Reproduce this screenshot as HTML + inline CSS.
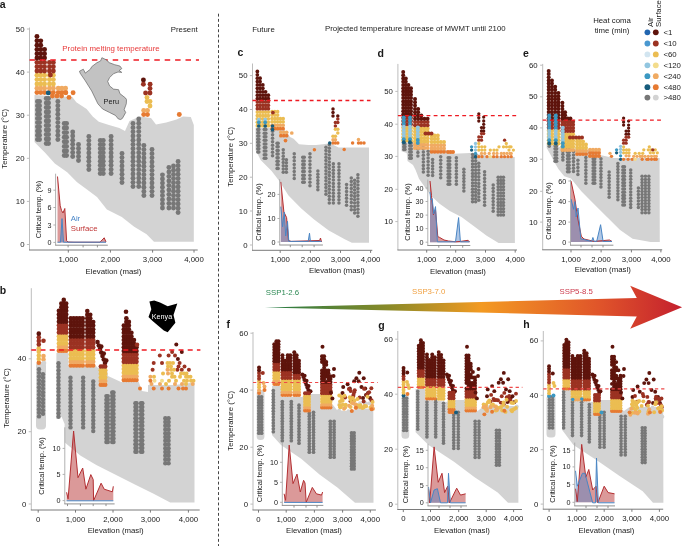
<!DOCTYPE html>
<html><head><meta charset="utf-8"><style>
html,body{margin:0;padding:0;background:#fff;}
svg{display:block;font-family:"Liberation Sans", sans-serif;will-change:transform;}
</style></head><body>
<svg width="685" height="546" viewBox="0 0 685 546">
<rect width="685" height="546" fill="#fff"/>
<polygon points="34.5,95 72.3,97 76.3,102.3 86.6,109 92.7,116.6 98.8,121.7 109,125 119.3,128 125,131 129.5,121 139.7,116.6 151,118 156,124.5 166.3,122.5 176.5,119.5 183,116.6 190.8,117 193.8,125 193.8,241.7 154,241.7 146.6,234.3 134.2,226.8 121.8,217 106.9,209.5 97,197 87,189.6 77.1,182.2 67.2,172.3 54.8,163.6 44.9,152.4 37.4,145 34.5,142" fill="#d3d3d3" stroke="none" stroke-width="0"/>
<circle cx="37.45" cy="101.45" r="2.45" fill="#777777"/>
<circle cx="37.45" cy="105.68" r="2.45" fill="#777777"/>
<circle cx="37.45" cy="109.92" r="2.45" fill="#777777"/>
<circle cx="37.45" cy="114.15" r="2.45" fill="#777777"/>
<circle cx="37.45" cy="118.38" r="2.45" fill="#777777"/>
<circle cx="37.45" cy="122.62" r="2.45" fill="#777777"/>
<circle cx="37.45" cy="126.85" r="2.45" fill="#777777"/>
<circle cx="37.45" cy="131.08" r="2.45" fill="#777777"/>
<circle cx="37.45" cy="135.32" r="2.45" fill="#777777"/>
<circle cx="37.45" cy="139.55" r="2.45" fill="#777777"/>
<circle cx="39.55" cy="101.45" r="2.45" fill="#777777"/>
<circle cx="39.55" cy="105.68" r="2.45" fill="#777777"/>
<circle cx="39.55" cy="109.92" r="2.45" fill="#777777"/>
<circle cx="39.55" cy="114.15" r="2.45" fill="#777777"/>
<circle cx="39.55" cy="118.38" r="2.45" fill="#777777"/>
<circle cx="39.55" cy="122.62" r="2.45" fill="#777777"/>
<circle cx="39.55" cy="126.85" r="2.45" fill="#777777"/>
<circle cx="39.55" cy="131.08" r="2.45" fill="#777777"/>
<circle cx="39.55" cy="135.32" r="2.45" fill="#777777"/>
<circle cx="39.55" cy="139.55" r="2.45" fill="#777777"/>
<circle cx="46.25" cy="98.45" r="2.45" fill="#777777"/>
<circle cx="46.25" cy="102.96" r="2.45" fill="#777777"/>
<circle cx="46.25" cy="107.47" r="2.45" fill="#777777"/>
<circle cx="46.25" cy="111.98" r="2.45" fill="#777777"/>
<circle cx="46.25" cy="116.49" r="2.45" fill="#777777"/>
<circle cx="46.25" cy="121" r="2.45" fill="#777777"/>
<circle cx="46.25" cy="125.51" r="2.45" fill="#777777"/>
<circle cx="46.25" cy="130.02" r="2.45" fill="#777777"/>
<circle cx="46.25" cy="134.53" r="2.45" fill="#777777"/>
<circle cx="46.25" cy="139.04" r="2.45" fill="#777777"/>
<circle cx="46.25" cy="143.55" r="2.45" fill="#777777"/>
<circle cx="48.55" cy="98.45" r="2.45" fill="#777777"/>
<circle cx="48.55" cy="102.96" r="2.45" fill="#777777"/>
<circle cx="48.55" cy="107.47" r="2.45" fill="#777777"/>
<circle cx="48.55" cy="111.98" r="2.45" fill="#777777"/>
<circle cx="48.55" cy="116.49" r="2.45" fill="#777777"/>
<circle cx="48.55" cy="121" r="2.45" fill="#777777"/>
<circle cx="48.55" cy="125.51" r="2.45" fill="#777777"/>
<circle cx="48.55" cy="130.02" r="2.45" fill="#777777"/>
<circle cx="48.55" cy="134.53" r="2.45" fill="#777777"/>
<circle cx="48.55" cy="139.04" r="2.45" fill="#777777"/>
<circle cx="48.55" cy="143.55" r="2.45" fill="#777777"/>
<circle cx="57.85" cy="101.45" r="2.45" fill="#777777"/>
<circle cx="57.85" cy="105.68" r="2.45" fill="#777777"/>
<circle cx="57.85" cy="109.92" r="2.45" fill="#777777"/>
<circle cx="57.85" cy="114.15" r="2.45" fill="#777777"/>
<circle cx="57.85" cy="118.38" r="2.45" fill="#777777"/>
<circle cx="57.85" cy="122.62" r="2.45" fill="#777777"/>
<circle cx="57.85" cy="126.85" r="2.45" fill="#777777"/>
<circle cx="57.85" cy="131.08" r="2.45" fill="#777777"/>
<circle cx="57.85" cy="135.32" r="2.45" fill="#777777"/>
<circle cx="57.85" cy="139.55" r="2.45" fill="#777777"/>
<circle cx="64.25" cy="123.45" r="2.45" fill="#777777"/>
<circle cx="64.25" cy="128.04" r="2.45" fill="#777777"/>
<circle cx="64.25" cy="132.62" r="2.45" fill="#777777"/>
<circle cx="64.25" cy="137.21" r="2.45" fill="#777777"/>
<circle cx="64.25" cy="141.79" r="2.45" fill="#777777"/>
<circle cx="64.25" cy="146.38" r="2.45" fill="#777777"/>
<circle cx="64.25" cy="150.96" r="2.45" fill="#777777"/>
<circle cx="64.25" cy="155.55" r="2.45" fill="#777777"/>
<circle cx="66.55" cy="123.45" r="2.45" fill="#777777"/>
<circle cx="66.55" cy="128.04" r="2.45" fill="#777777"/>
<circle cx="66.55" cy="132.62" r="2.45" fill="#777777"/>
<circle cx="66.55" cy="137.21" r="2.45" fill="#777777"/>
<circle cx="66.55" cy="141.79" r="2.45" fill="#777777"/>
<circle cx="66.55" cy="146.38" r="2.45" fill="#777777"/>
<circle cx="66.55" cy="150.96" r="2.45" fill="#777777"/>
<circle cx="66.55" cy="155.55" r="2.45" fill="#777777"/>
<circle cx="72.7" cy="131.95" r="2.45" fill="#777777"/>
<circle cx="72.7" cy="136.05" r="2.45" fill="#777777"/>
<circle cx="72.7" cy="140.15" r="2.45" fill="#777777"/>
<circle cx="72.7" cy="144.25" r="2.45" fill="#777777"/>
<circle cx="72.7" cy="148.35" r="2.45" fill="#777777"/>
<circle cx="72.7" cy="152.45" r="2.45" fill="#777777"/>
<circle cx="72.7" cy="156.55" r="2.45" fill="#777777"/>
<circle cx="78.5" cy="144.45" r="2.45" fill="#777777"/>
<circle cx="78.5" cy="148.47" r="2.45" fill="#777777"/>
<circle cx="78.5" cy="152.5" r="2.45" fill="#777777"/>
<circle cx="78.5" cy="156.52" r="2.45" fill="#777777"/>
<circle cx="78.5" cy="160.55" r="2.45" fill="#777777"/>
<circle cx="88.85" cy="136.45" r="2.45" fill="#777777"/>
<circle cx="88.85" cy="140.59" r="2.45" fill="#777777"/>
<circle cx="88.85" cy="144.72" r="2.45" fill="#777777"/>
<circle cx="88.85" cy="148.86" r="2.45" fill="#777777"/>
<circle cx="88.85" cy="153" r="2.45" fill="#777777"/>
<circle cx="88.85" cy="157.14" r="2.45" fill="#777777"/>
<circle cx="88.85" cy="161.27" r="2.45" fill="#777777"/>
<circle cx="88.85" cy="165.41" r="2.45" fill="#777777"/>
<circle cx="88.85" cy="169.55" r="2.45" fill="#777777"/>
<circle cx="100.25" cy="140.45" r="2.45" fill="#777777"/>
<circle cx="100.25" cy="144.59" r="2.45" fill="#777777"/>
<circle cx="100.25" cy="148.72" r="2.45" fill="#777777"/>
<circle cx="100.25" cy="152.86" r="2.45" fill="#777777"/>
<circle cx="100.25" cy="157" r="2.45" fill="#777777"/>
<circle cx="100.25" cy="161.14" r="2.45" fill="#777777"/>
<circle cx="100.25" cy="165.27" r="2.45" fill="#777777"/>
<circle cx="100.25" cy="169.41" r="2.45" fill="#777777"/>
<circle cx="100.25" cy="173.55" r="2.45" fill="#777777"/>
<circle cx="103.25" cy="140.45" r="2.45" fill="#777777"/>
<circle cx="103.25" cy="144.59" r="2.45" fill="#777777"/>
<circle cx="103.25" cy="148.72" r="2.45" fill="#777777"/>
<circle cx="103.25" cy="152.86" r="2.45" fill="#777777"/>
<circle cx="103.25" cy="157" r="2.45" fill="#777777"/>
<circle cx="103.25" cy="161.14" r="2.45" fill="#777777"/>
<circle cx="103.25" cy="165.27" r="2.45" fill="#777777"/>
<circle cx="103.25" cy="169.41" r="2.45" fill="#777777"/>
<circle cx="103.25" cy="173.55" r="2.45" fill="#777777"/>
<circle cx="111.1" cy="136.45" r="2.45" fill="#777777"/>
<circle cx="111.1" cy="140.57" r="2.45" fill="#777777"/>
<circle cx="111.1" cy="144.69" r="2.45" fill="#777777"/>
<circle cx="111.1" cy="148.82" r="2.45" fill="#777777"/>
<circle cx="111.1" cy="152.94" r="2.45" fill="#777777"/>
<circle cx="111.1" cy="157.06" r="2.45" fill="#777777"/>
<circle cx="111.1" cy="161.18" r="2.45" fill="#777777"/>
<circle cx="111.1" cy="165.31" r="2.45" fill="#777777"/>
<circle cx="111.1" cy="169.43" r="2.45" fill="#777777"/>
<circle cx="111.1" cy="173.55" r="2.45" fill="#777777"/>
<circle cx="122" cy="153.45" r="2.45" fill="#777777"/>
<circle cx="122" cy="157.61" r="2.45" fill="#777777"/>
<circle cx="122" cy="161.76" r="2.45" fill="#777777"/>
<circle cx="122" cy="165.92" r="2.45" fill="#777777"/>
<circle cx="122" cy="170.08" r="2.45" fill="#777777"/>
<circle cx="122" cy="174.24" r="2.45" fill="#777777"/>
<circle cx="122" cy="178.39" r="2.45" fill="#777777"/>
<circle cx="122" cy="182.55" r="2.45" fill="#777777"/>
<circle cx="133" cy="123.45" r="2.45" fill="#777777"/>
<circle cx="133" cy="127.66" r="2.45" fill="#777777"/>
<circle cx="133" cy="131.86" r="2.45" fill="#777777"/>
<circle cx="133" cy="136.07" r="2.45" fill="#777777"/>
<circle cx="133" cy="140.28" r="2.45" fill="#777777"/>
<circle cx="133" cy="144.48" r="2.45" fill="#777777"/>
<circle cx="133" cy="148.69" r="2.45" fill="#777777"/>
<circle cx="133" cy="152.9" r="2.45" fill="#777777"/>
<circle cx="133" cy="157.1" r="2.45" fill="#777777"/>
<circle cx="133" cy="161.31" r="2.45" fill="#777777"/>
<circle cx="133" cy="165.52" r="2.45" fill="#777777"/>
<circle cx="133" cy="169.72" r="2.45" fill="#777777"/>
<circle cx="133" cy="173.93" r="2.45" fill="#777777"/>
<circle cx="133" cy="178.14" r="2.45" fill="#777777"/>
<circle cx="133" cy="182.34" r="2.45" fill="#777777"/>
<circle cx="133" cy="186.55" r="2.45" fill="#777777"/>
<circle cx="138.75" cy="118.95" r="2.45" fill="#777777"/>
<circle cx="138.75" cy="123.17" r="2.45" fill="#777777"/>
<circle cx="138.75" cy="127.4" r="2.45" fill="#777777"/>
<circle cx="138.75" cy="131.62" r="2.45" fill="#777777"/>
<circle cx="138.75" cy="135.85" r="2.45" fill="#777777"/>
<circle cx="138.75" cy="140.07" r="2.45" fill="#777777"/>
<circle cx="138.75" cy="144.3" r="2.45" fill="#777777"/>
<circle cx="138.75" cy="148.53" r="2.45" fill="#777777"/>
<circle cx="138.75" cy="152.75" r="2.45" fill="#777777"/>
<circle cx="138.75" cy="156.97" r="2.45" fill="#777777"/>
<circle cx="138.75" cy="161.2" r="2.45" fill="#777777"/>
<circle cx="138.75" cy="165.43" r="2.45" fill="#777777"/>
<circle cx="138.75" cy="169.65" r="2.45" fill="#777777"/>
<circle cx="138.75" cy="173.88" r="2.45" fill="#777777"/>
<circle cx="138.75" cy="178.1" r="2.45" fill="#777777"/>
<circle cx="138.75" cy="182.32" r="2.45" fill="#777777"/>
<circle cx="138.75" cy="186.55" r="2.45" fill="#777777"/>
<circle cx="143.9" cy="145.45" r="2.45" fill="#777777"/>
<circle cx="143.9" cy="149.62" r="2.45" fill="#777777"/>
<circle cx="143.9" cy="153.8" r="2.45" fill="#777777"/>
<circle cx="143.9" cy="157.97" r="2.45" fill="#777777"/>
<circle cx="143.9" cy="162.15" r="2.45" fill="#777777"/>
<circle cx="143.9" cy="166.32" r="2.45" fill="#777777"/>
<circle cx="143.9" cy="170.5" r="2.45" fill="#777777"/>
<circle cx="143.9" cy="174.67" r="2.45" fill="#777777"/>
<circle cx="143.9" cy="178.85" r="2.45" fill="#777777"/>
<circle cx="143.9" cy="183.02" r="2.45" fill="#777777"/>
<circle cx="143.9" cy="187.2" r="2.45" fill="#777777"/>
<circle cx="143.9" cy="191.38" r="2.45" fill="#777777"/>
<circle cx="143.9" cy="195.55" r="2.45" fill="#777777"/>
<circle cx="152" cy="149.45" r="2.45" fill="#777777"/>
<circle cx="152" cy="153.64" r="2.45" fill="#777777"/>
<circle cx="152" cy="157.83" r="2.45" fill="#777777"/>
<circle cx="152" cy="162.02" r="2.45" fill="#777777"/>
<circle cx="152" cy="166.21" r="2.45" fill="#777777"/>
<circle cx="152" cy="170.4" r="2.45" fill="#777777"/>
<circle cx="152" cy="174.6" r="2.45" fill="#777777"/>
<circle cx="152" cy="178.79" r="2.45" fill="#777777"/>
<circle cx="152" cy="182.98" r="2.45" fill="#777777"/>
<circle cx="152" cy="187.17" r="2.45" fill="#777777"/>
<circle cx="152" cy="191.36" r="2.45" fill="#777777"/>
<circle cx="152" cy="195.55" r="2.45" fill="#777777"/>
<circle cx="162.45" cy="174.85" r="2.45" fill="#777777"/>
<circle cx="162.45" cy="178.99" r="2.45" fill="#777777"/>
<circle cx="162.45" cy="183.12" r="2.45" fill="#777777"/>
<circle cx="162.45" cy="187.26" r="2.45" fill="#777777"/>
<circle cx="162.45" cy="191.4" r="2.45" fill="#777777"/>
<circle cx="162.45" cy="195.54" r="2.45" fill="#777777"/>
<circle cx="162.45" cy="199.68" r="2.45" fill="#777777"/>
<circle cx="162.45" cy="203.81" r="2.45" fill="#777777"/>
<circle cx="162.45" cy="207.95" r="2.45" fill="#777777"/>
<circle cx="168.9" cy="167.45" r="2.45" fill="#777777"/>
<circle cx="168.9" cy="171.95" r="2.45" fill="#777777"/>
<circle cx="168.9" cy="176.45" r="2.45" fill="#777777"/>
<circle cx="168.9" cy="180.95" r="2.45" fill="#777777"/>
<circle cx="168.9" cy="185.45" r="2.45" fill="#777777"/>
<circle cx="168.9" cy="189.95" r="2.45" fill="#777777"/>
<circle cx="168.9" cy="194.45" r="2.45" fill="#777777"/>
<circle cx="168.9" cy="198.95" r="2.45" fill="#777777"/>
<circle cx="168.9" cy="203.45" r="2.45" fill="#777777"/>
<circle cx="168.9" cy="207.95" r="2.45" fill="#777777"/>
<circle cx="173.5" cy="166.05" r="2.45" fill="#777777"/>
<circle cx="173.5" cy="170.24" r="2.45" fill="#777777"/>
<circle cx="173.5" cy="174.43" r="2.45" fill="#777777"/>
<circle cx="173.5" cy="178.62" r="2.45" fill="#777777"/>
<circle cx="173.5" cy="182.81" r="2.45" fill="#777777"/>
<circle cx="173.5" cy="187" r="2.45" fill="#777777"/>
<circle cx="173.5" cy="191.19" r="2.45" fill="#777777"/>
<circle cx="173.5" cy="195.38" r="2.45" fill="#777777"/>
<circle cx="173.5" cy="199.57" r="2.45" fill="#777777"/>
<circle cx="173.5" cy="203.76" r="2.45" fill="#777777"/>
<circle cx="173.5" cy="207.95" r="2.45" fill="#777777"/>
<circle cx="178.1" cy="161.45" r="2.45" fill="#777777"/>
<circle cx="178.1" cy="165.71" r="2.45" fill="#777777"/>
<circle cx="178.1" cy="169.97" r="2.45" fill="#777777"/>
<circle cx="178.1" cy="174.22" r="2.45" fill="#777777"/>
<circle cx="178.1" cy="178.48" r="2.45" fill="#777777"/>
<circle cx="178.1" cy="182.74" r="2.45" fill="#777777"/>
<circle cx="178.1" cy="187" r="2.45" fill="#777777"/>
<circle cx="178.1" cy="191.26" r="2.45" fill="#777777"/>
<circle cx="178.1" cy="195.52" r="2.45" fill="#777777"/>
<circle cx="178.1" cy="199.77" r="2.45" fill="#777777"/>
<circle cx="178.1" cy="204.03" r="2.45" fill="#777777"/>
<circle cx="178.1" cy="208.29" r="2.45" fill="#777777"/>
<circle cx="178.1" cy="212.55" r="2.45" fill="#777777"/>
<circle cx="36.95" cy="92.55" r="2.45" fill="#e67a32"/>
<circle cx="36.95" cy="88.24" r="2.45" fill="#f0aa62"/>
<circle cx="36.95" cy="83.93" r="2.45" fill="#ebbd52"/>
<circle cx="36.95" cy="79.62" r="2.45" fill="#ebbd52"/>
<circle cx="36.95" cy="75.31" r="2.45" fill="#ebbd52"/>
<circle cx="36.95" cy="71" r="2.45" fill="#9b3222"/>
<circle cx="36.95" cy="66.69" r="2.45" fill="#9b3222"/>
<circle cx="36.95" cy="62.38" r="2.45" fill="#9b3222"/>
<circle cx="36.95" cy="58.07" r="2.45" fill="#5e140c"/>
<circle cx="36.95" cy="53.76" r="2.45" fill="#5e140c"/>
<circle cx="36.95" cy="49.45" r="2.45" fill="#5e140c"/>
<circle cx="36.95" cy="45.14" r="2.45" fill="#5e140c"/>
<circle cx="36.95" cy="40.83" r="2.45" fill="#5e140c"/>
<circle cx="36.95" cy="36.52" r="2.45" fill="#5e140c"/>
<circle cx="40.75" cy="92.55" r="2.45" fill="#e67a32"/>
<circle cx="40.75" cy="88.24" r="2.45" fill="#f0aa62"/>
<circle cx="40.75" cy="83.93" r="2.45" fill="#ebbd52"/>
<circle cx="40.75" cy="79.62" r="2.45" fill="#ebbd52"/>
<circle cx="40.75" cy="75.31" r="2.45" fill="#ebbd52"/>
<circle cx="40.75" cy="71" r="2.45" fill="#9b3222"/>
<circle cx="40.75" cy="66.69" r="2.45" fill="#9b3222"/>
<circle cx="40.75" cy="62.38" r="2.45" fill="#9b3222"/>
<circle cx="40.75" cy="58.07" r="2.45" fill="#5e140c"/>
<circle cx="40.75" cy="53.76" r="2.45" fill="#5e140c"/>
<circle cx="40.75" cy="49.45" r="2.45" fill="#5e140c"/>
<circle cx="40.75" cy="45.14" r="2.45" fill="#5e140c"/>
<circle cx="40.75" cy="40.83" r="2.45" fill="#5e140c"/>
<circle cx="44.55" cy="92.55" r="2.45" fill="#e67a32"/>
<circle cx="44.55" cy="88.24" r="2.45" fill="#f0aa62"/>
<circle cx="44.55" cy="83.93" r="2.45" fill="#ebbd52"/>
<circle cx="44.55" cy="79.62" r="2.45" fill="#ebbd52"/>
<circle cx="44.55" cy="75.31" r="2.45" fill="#ebbd52"/>
<circle cx="44.55" cy="71" r="2.45" fill="#9b3222"/>
<circle cx="44.55" cy="66.69" r="2.45" fill="#9b3222"/>
<circle cx="44.55" cy="62.38" r="2.45" fill="#9b3222"/>
<circle cx="44.55" cy="58.07" r="2.45" fill="#5e140c"/>
<circle cx="44.55" cy="53.76" r="2.45" fill="#5e140c"/>
<circle cx="44.55" cy="49.45" r="2.45" fill="#5e140c"/>
<circle cx="49.45" cy="92.55" r="2.45" fill="#e67a32"/>
<circle cx="49.45" cy="88.24" r="2.45" fill="#f0aa62"/>
<circle cx="49.45" cy="83.93" r="2.45" fill="#ebbd52"/>
<circle cx="49.45" cy="79.62" r="2.45" fill="#ebbd52"/>
<circle cx="49.45" cy="75.31" r="2.45" fill="#ebbd52"/>
<circle cx="49.45" cy="71" r="2.45" fill="#9b3222"/>
<circle cx="49.45" cy="66.69" r="2.45" fill="#9b3222"/>
<circle cx="49.45" cy="62.38" r="2.45" fill="#9b3222"/>
<circle cx="53.35" cy="92.55" r="2.45" fill="#e67a32"/>
<circle cx="53.35" cy="88.24" r="2.45" fill="#f0aa62"/>
<circle cx="53.35" cy="83.93" r="2.45" fill="#ebbd52"/>
<circle cx="53.35" cy="79.62" r="2.45" fill="#ebbd52"/>
<circle cx="53.35" cy="75.31" r="2.45" fill="#ebbd52"/>
<circle cx="53.35" cy="71" r="2.45" fill="#9b3222"/>
<circle cx="53.35" cy="66.69" r="2.45" fill="#9b3222"/>
<circle cx="53.35" cy="62.38" r="2.45" fill="#9b3222"/>
<circle cx="50.4" cy="75" r="2.45" fill="#9b3222"/>
<circle cx="58.25" cy="92.55" r="2.45" fill="#e67a32"/>
<circle cx="58.25" cy="88.24" r="2.45" fill="#f0aa62"/>
<circle cx="61.9" cy="92.55" r="2.45" fill="#e67a32"/>
<circle cx="61.9" cy="88.24" r="2.45" fill="#f0aa62"/>
<circle cx="65.55" cy="92.55" r="2.45" fill="#e67a32"/>
<circle cx="65.55" cy="88.24" r="2.45" fill="#f0aa62"/>
<circle cx="52.45" cy="96.05" r="2.45" fill="#e67a32"/>
<circle cx="57" cy="96.05" r="2.45" fill="#e67a32"/>
<circle cx="61.55" cy="96.05" r="2.45" fill="#e67a32"/>
<circle cx="65.8" cy="92.8" r="2.45" fill="#e67a32"/>
<circle cx="73.1" cy="92.8" r="2.45" fill="#e67a32"/>
<circle cx="69" cy="97.4" r="2.45" fill="#e67a32"/>
<circle cx="48.2" cy="92.9" r="2.45" fill="#175c7c"/>
<circle cx="143.4" cy="79.9" r="2.45" fill="#5e140c"/>
<circle cx="143.4" cy="84.3" r="2.45" fill="#9b3222"/>
<circle cx="150.1" cy="84.2" r="2.45" fill="#9b3222"/>
<circle cx="150" cy="88.5" r="2.45" fill="#9b3222"/>
<circle cx="145.6" cy="93" r="2.45" fill="#9b3222"/>
<circle cx="150" cy="93" r="2.45" fill="#9b3222"/>
<circle cx="147" cy="97.4" r="2.45" fill="#ebbd52"/>
<circle cx="147" cy="101.5" r="2.45" fill="#ebbd52"/>
<circle cx="150" cy="101.5" r="2.45" fill="#ebbd52"/>
<circle cx="150" cy="106" r="2.45" fill="#ebbd52"/>
<circle cx="143.7" cy="110.5" r="2.45" fill="#f0aa62"/>
<circle cx="147.5" cy="110.5" r="2.45" fill="#f0aa62"/>
<circle cx="143.7" cy="114.6" r="2.45" fill="#e67a32"/>
<circle cx="147.5" cy="114.6" r="2.45" fill="#e67a32"/>
<circle cx="179.3" cy="114.5" r="2.45" fill="#e67a32"/>
<line x1="29.5" y1="27.5" x2="29.5" y2="250" stroke="#bdbdbd" stroke-width="1"/>
<line x1="29" y1="250" x2="197.7" y2="250" stroke="#7a7a7a" stroke-width="1"/>
<line x1="26.9" y1="244.5" x2="29.5" y2="244.5" stroke="#bdbdbd" stroke-width="1"/>
<text x="24.5" y="244.5" font-size="7.8" text-anchor="end" fill="#1a1a1a" font-weight="normal" dominant-baseline="central">0</text>
<line x1="26.9" y1="201.4" x2="29.5" y2="201.4" stroke="#bdbdbd" stroke-width="1"/>
<text x="24.5" y="201.4" font-size="7.8" text-anchor="end" fill="#1a1a1a" font-weight="normal" dominant-baseline="central">10</text>
<line x1="26.9" y1="158.3" x2="29.5" y2="158.3" stroke="#bdbdbd" stroke-width="1"/>
<text x="24.5" y="158.3" font-size="7.8" text-anchor="end" fill="#1a1a1a" font-weight="normal" dominant-baseline="central">20</text>
<line x1="26.9" y1="115.2" x2="29.5" y2="115.2" stroke="#bdbdbd" stroke-width="1"/>
<text x="24.5" y="115.2" font-size="7.8" text-anchor="end" fill="#1a1a1a" font-weight="normal" dominant-baseline="central">30</text>
<line x1="26.9" y1="72.1" x2="29.5" y2="72.1" stroke="#bdbdbd" stroke-width="1"/>
<text x="24.5" y="72.1" font-size="7.8" text-anchor="end" fill="#1a1a1a" font-weight="normal" dominant-baseline="central">40</text>
<line x1="26.9" y1="29" x2="29.5" y2="29" stroke="#bdbdbd" stroke-width="1"/>
<text x="24.5" y="29" font-size="7.8" text-anchor="end" fill="#1a1a1a" font-weight="normal" dominant-baseline="central">50</text>
<line x1="68.3" y1="250" x2="68.3" y2="252.6" stroke="#7a7a7a" stroke-width="1"/>
<text x="68.3" y="259.2" font-size="7.8" text-anchor="middle" fill="#1a1a1a" font-weight="normal" dominant-baseline="central">1,000</text>
<line x1="110.4" y1="250" x2="110.4" y2="252.6" stroke="#7a7a7a" stroke-width="1"/>
<text x="110.4" y="259.2" font-size="7.8" text-anchor="middle" fill="#1a1a1a" font-weight="normal" dominant-baseline="central">2,000</text>
<line x1="152.6" y1="250" x2="152.6" y2="252.6" stroke="#7a7a7a" stroke-width="1"/>
<text x="152.6" y="259.2" font-size="7.8" text-anchor="middle" fill="#1a1a1a" font-weight="normal" dominant-baseline="central">3,000</text>
<line x1="194" y1="250" x2="194" y2="252.6" stroke="#7a7a7a" stroke-width="1"/>
<text x="194" y="259.2" font-size="7.8" text-anchor="middle" fill="#1a1a1a" font-weight="normal" dominant-baseline="central">4,000</text>
<text x="4.6" y="138.8" font-size="7.8" text-anchor="middle" fill="#1a1a1a" font-weight="normal" dominant-baseline="central" transform="rotate(-90 4.6 138.8)">Temperature (°C)</text>
<text x="113.5" y="271.5" font-size="7.8" text-anchor="middle" fill="#1a1a1a" font-weight="normal" dominant-baseline="central">Elevation (masl)</text>
<text x="197.7" y="29.3" font-size="7.8" text-anchor="end" fill="#1a1a1a" font-weight="normal" dominant-baseline="central">Present</text>
<text x="-0.3" y="4.3" font-size="10.5" text-anchor="start" fill="#1a1a1a" font-weight="bold" dominant-baseline="central">a</text>
<line x1="29.5" y1="59.9" x2="199" y2="59.9" stroke="#ee1a22" stroke-width="1.45" stroke-dasharray="5.5 4.9"/>
<text x="62.3" y="48.5" font-size="7.9" text-anchor="start" fill="#e83a3a" font-weight="normal" dominant-baseline="central">Protein melting temperature</text>
<polygon points="101.9,57.7 105.8,59.6 109.6,62.8 114.7,64.7 119.9,66 121.8,68.6 119.2,70.5 121.8,72.4 118,72 113.5,73.7 109.6,77.6 107.7,81.4 109.6,85.9 113.5,89.1 118.6,89.7 119.9,93.6 125.6,98.1 126.5,99.7 126.3,103.8 124.2,109.6 125.7,112.5 122.4,118.4 120.7,119.5 118.4,119 115.4,115.4 109.6,112.5 102.6,109 97.9,103.8 91.7,91 85.3,80.8 80.1,73.1 79.5,71.2 83.3,69.2 85.3,73.1 90.4,69.2 91.7,66.7 96.8,62.8 100.6,60.9" fill="#c2c2c2" stroke="#505050" stroke-width="0.6"/>
<text x="111.3" y="101" font-size="7.3" text-anchor="middle" fill="#1a1a1a" font-weight="normal" dominant-baseline="central">Peru</text>
<polygon points="57.5,242.4 57.5,176.5 60.2,205.8 61.5,210.4 63,213 64.8,208.5 66.6,240.6 68,242 74,242.2 100,242.2 104.2,237.8 106,242 106,242.4" fill="rgba(190,70,70,0.55)" stroke="none" stroke-width="0"/>
<polygon points="57.5,242.4 57.5,242.2 60.5,242.2 62,218.6 63.5,242.2 106,242.2 106,242.4" fill="rgba(80,130,200,0.45)" stroke="none" stroke-width="0"/>
<polyline points="57.5,176.5 60.2,205.8 61.5,210.4 63,213 64.8,208.5 66.6,240.6 68,242 74,242.2 100,242.2 104.2,237.8 106,242" fill="none" stroke="#b32f32" stroke-width="1" stroke-linejoin="round"/>
<polyline points="57.5,242.2 60.5,242.2 62,218.6 63.5,242.2 106,242.2" fill="none" stroke="#4a86c4" stroke-width="1" stroke-linejoin="round"/>
<line x1="55.6" y1="173.7" x2="55.6" y2="245.2" stroke="#a8a8a8" stroke-width="0.9"/>
<line x1="55.15" y1="245.2" x2="107.8" y2="245.2" stroke="#858585" stroke-width="0.9"/>
<line x1="53.4" y1="190.2" x2="55.6" y2="190.2" stroke="#a8a8a8" stroke-width="0.9"/>
<text x="51.4" y="190.2" font-size="7.2" text-anchor="end" fill="#1a1a1a" font-weight="normal" dominant-baseline="central">9</text>
<line x1="53.4" y1="207.5" x2="55.6" y2="207.5" stroke="#a8a8a8" stroke-width="0.9"/>
<text x="51.4" y="207.5" font-size="7.2" text-anchor="end" fill="#1a1a1a" font-weight="normal" dominant-baseline="central">6</text>
<line x1="53.4" y1="225" x2="55.6" y2="225" stroke="#a8a8a8" stroke-width="0.9"/>
<text x="51.4" y="225" font-size="7.2" text-anchor="end" fill="#1a1a1a" font-weight="normal" dominant-baseline="central">3</text>
<line x1="53.4" y1="242.4" x2="55.6" y2="242.4" stroke="#a8a8a8" stroke-width="0.9"/>
<text x="51.4" y="242.4" font-size="7.2" text-anchor="end" fill="#1a1a1a" font-weight="normal" dominant-baseline="central">0</text>
<line x1="68.1" y1="245.2" x2="68.1" y2="247.4" stroke="#858585" stroke-width="0.9"/>
<line x1="83.1" y1="245.2" x2="83.1" y2="247.4" stroke="#858585" stroke-width="0.9"/>
<line x1="97.4" y1="245.2" x2="97.4" y2="247.4" stroke="#858585" stroke-width="0.9"/>
<text x="38.2" y="209.5" font-size="7.5" text-anchor="middle" fill="#1a1a1a" font-weight="normal" dominant-baseline="central" transform="rotate(-90 38.2 209.5)">Critical temp. (%)</text>
<text x="70.7" y="218" font-size="7.8" text-anchor="start" fill="#4a86c8" font-weight="normal" dominant-baseline="central">Air</text>
<text x="70.7" y="228.7" font-size="7.8" text-anchor="start" fill="#c03535" font-weight="normal" dominant-baseline="central">Surface</text>
<polygon points="56.4,353 68.5,353 68.5,366 96,366 98,368 107,368 108,376 121,382 138.8,382 142,391 148,392 148,385 175,385 190,383 194.5,383 194.5,502.4 170.2,502.4 154.1,494 134.9,484.4 115.6,474.7 96.3,465 80.3,455.5 64.8,442.6 64.6,424 61.6,416.8 56.4,419" fill="#d3d3d3" stroke="none" stroke-width="0"/>
<rect x="36" y="362" width="10" height="67.6" rx="4" fill="#d3d3d3"/>
<circle cx="39" cy="369.2" r="2.2" fill="#777777"/>
<circle cx="39" cy="372.83" r="2.2" fill="#777777"/>
<circle cx="39" cy="376.46" r="2.2" fill="#777777"/>
<circle cx="39" cy="380.09" r="2.2" fill="#777777"/>
<circle cx="39" cy="383.72" r="2.2" fill="#777777"/>
<circle cx="39" cy="387.35" r="2.2" fill="#777777"/>
<circle cx="39" cy="390.98" r="2.2" fill="#777777"/>
<circle cx="39" cy="394.62" r="2.2" fill="#777777"/>
<circle cx="39" cy="398.25" r="2.2" fill="#777777"/>
<circle cx="39" cy="401.88" r="2.2" fill="#777777"/>
<circle cx="39" cy="405.51" r="2.2" fill="#777777"/>
<circle cx="39" cy="409.14" r="2.2" fill="#777777"/>
<circle cx="39" cy="412.77" r="2.2" fill="#777777"/>
<circle cx="39" cy="416.4" r="2.2" fill="#777777"/>
<circle cx="43" cy="374.2" r="2.2" fill="#777777"/>
<circle cx="43" cy="377.8" r="2.2" fill="#777777"/>
<circle cx="43" cy="381.4" r="2.2" fill="#777777"/>
<circle cx="43" cy="385" r="2.2" fill="#777777"/>
<circle cx="43" cy="388.6" r="2.2" fill="#777777"/>
<circle cx="43" cy="392.2" r="2.2" fill="#777777"/>
<circle cx="43" cy="395.8" r="2.2" fill="#777777"/>
<circle cx="43" cy="399.4" r="2.2" fill="#777777"/>
<circle cx="43" cy="403" r="2.2" fill="#777777"/>
<circle cx="43" cy="406.6" r="2.2" fill="#777777"/>
<circle cx="43" cy="410.2" r="2.2" fill="#777777"/>
<circle cx="43" cy="413.8" r="2.2" fill="#777777"/>
<circle cx="58.5" cy="363.2" r="2.2" fill="#777777"/>
<circle cx="58.5" cy="366.77" r="2.2" fill="#777777"/>
<circle cx="58.5" cy="370.35" r="2.2" fill="#777777"/>
<circle cx="58.5" cy="373.92" r="2.2" fill="#777777"/>
<circle cx="58.5" cy="377.49" r="2.2" fill="#777777"/>
<circle cx="58.5" cy="381.07" r="2.2" fill="#777777"/>
<circle cx="58.5" cy="384.64" r="2.2" fill="#777777"/>
<circle cx="58.5" cy="388.21" r="2.2" fill="#777777"/>
<circle cx="58.5" cy="391.79" r="2.2" fill="#777777"/>
<circle cx="58.5" cy="395.36" r="2.2" fill="#777777"/>
<circle cx="58.5" cy="398.93" r="2.2" fill="#777777"/>
<circle cx="58.5" cy="402.51" r="2.2" fill="#777777"/>
<circle cx="58.5" cy="406.08" r="2.2" fill="#777777"/>
<circle cx="58.5" cy="409.65" r="2.2" fill="#777777"/>
<circle cx="58.5" cy="413.23" r="2.2" fill="#777777"/>
<circle cx="58.5" cy="416.8" r="2.2" fill="#777777"/>
<circle cx="70.5" cy="377.8" r="2.2" fill="#777777"/>
<circle cx="70.5" cy="381.34" r="2.2" fill="#777777"/>
<circle cx="70.5" cy="384.89" r="2.2" fill="#777777"/>
<circle cx="70.5" cy="388.43" r="2.2" fill="#777777"/>
<circle cx="70.5" cy="391.97" r="2.2" fill="#777777"/>
<circle cx="70.5" cy="395.51" r="2.2" fill="#777777"/>
<circle cx="70.5" cy="399.06" r="2.2" fill="#777777"/>
<circle cx="70.5" cy="402.6" r="2.2" fill="#777777"/>
<circle cx="70.5" cy="406.14" r="2.2" fill="#777777"/>
<circle cx="70.5" cy="409.69" r="2.2" fill="#777777"/>
<circle cx="70.5" cy="413.23" r="2.2" fill="#777777"/>
<circle cx="70.5" cy="416.77" r="2.2" fill="#777777"/>
<circle cx="70.5" cy="420.31" r="2.2" fill="#777777"/>
<circle cx="70.5" cy="423.86" r="2.2" fill="#777777"/>
<circle cx="70.5" cy="427.4" r="2.2" fill="#777777"/>
<circle cx="83.15" cy="377.8" r="2.2" fill="#777777"/>
<circle cx="83.15" cy="381.34" r="2.2" fill="#777777"/>
<circle cx="83.15" cy="384.89" r="2.2" fill="#777777"/>
<circle cx="83.15" cy="388.43" r="2.2" fill="#777777"/>
<circle cx="83.15" cy="391.97" r="2.2" fill="#777777"/>
<circle cx="83.15" cy="395.51" r="2.2" fill="#777777"/>
<circle cx="83.15" cy="399.06" r="2.2" fill="#777777"/>
<circle cx="83.15" cy="402.6" r="2.2" fill="#777777"/>
<circle cx="83.15" cy="406.14" r="2.2" fill="#777777"/>
<circle cx="83.15" cy="409.69" r="2.2" fill="#777777"/>
<circle cx="83.15" cy="413.23" r="2.2" fill="#777777"/>
<circle cx="83.15" cy="416.77" r="2.2" fill="#777777"/>
<circle cx="83.15" cy="420.31" r="2.2" fill="#777777"/>
<circle cx="83.15" cy="423.86" r="2.2" fill="#777777"/>
<circle cx="83.15" cy="427.4" r="2.2" fill="#777777"/>
<circle cx="93.25" cy="381.4" r="2.2" fill="#777777"/>
<circle cx="93.25" cy="384.95" r="2.2" fill="#777777"/>
<circle cx="93.25" cy="388.5" r="2.2" fill="#777777"/>
<circle cx="93.25" cy="392.05" r="2.2" fill="#777777"/>
<circle cx="93.25" cy="395.6" r="2.2" fill="#777777"/>
<circle cx="93.25" cy="399.15" r="2.2" fill="#777777"/>
<circle cx="93.25" cy="402.7" r="2.2" fill="#777777"/>
<circle cx="93.25" cy="406.25" r="2.2" fill="#777777"/>
<circle cx="93.25" cy="409.8" r="2.2" fill="#777777"/>
<circle cx="93.25" cy="413.35" r="2.2" fill="#777777"/>
<circle cx="93.25" cy="416.9" r="2.2" fill="#777777"/>
<circle cx="93.25" cy="420.45" r="2.2" fill="#777777"/>
<circle cx="93.25" cy="424" r="2.2" fill="#777777"/>
<circle cx="93.25" cy="427.55" r="2.2" fill="#777777"/>
<circle cx="93.25" cy="431.1" r="2.2" fill="#777777"/>
<circle cx="106.4" cy="396.1" r="2.2" fill="#777777"/>
<circle cx="106.4" cy="399.63" r="2.2" fill="#777777"/>
<circle cx="106.4" cy="403.16" r="2.2" fill="#777777"/>
<circle cx="106.4" cy="406.69" r="2.2" fill="#777777"/>
<circle cx="106.4" cy="410.22" r="2.2" fill="#777777"/>
<circle cx="106.4" cy="413.75" r="2.2" fill="#777777"/>
<circle cx="106.4" cy="417.28" r="2.2" fill="#777777"/>
<circle cx="106.4" cy="420.82" r="2.2" fill="#777777"/>
<circle cx="106.4" cy="424.35" r="2.2" fill="#777777"/>
<circle cx="106.4" cy="427.88" r="2.2" fill="#777777"/>
<circle cx="106.4" cy="431.41" r="2.2" fill="#777777"/>
<circle cx="106.4" cy="434.94" r="2.2" fill="#777777"/>
<circle cx="106.4" cy="438.47" r="2.2" fill="#777777"/>
<circle cx="106.4" cy="442" r="2.2" fill="#777777"/>
<circle cx="107.8" cy="396.1" r="2.2" fill="#777777"/>
<circle cx="107.8" cy="399.63" r="2.2" fill="#777777"/>
<circle cx="107.8" cy="403.16" r="2.2" fill="#777777"/>
<circle cx="107.8" cy="406.69" r="2.2" fill="#777777"/>
<circle cx="107.8" cy="410.22" r="2.2" fill="#777777"/>
<circle cx="107.8" cy="413.75" r="2.2" fill="#777777"/>
<circle cx="107.8" cy="417.28" r="2.2" fill="#777777"/>
<circle cx="107.8" cy="420.82" r="2.2" fill="#777777"/>
<circle cx="107.8" cy="424.35" r="2.2" fill="#777777"/>
<circle cx="107.8" cy="427.88" r="2.2" fill="#777777"/>
<circle cx="107.8" cy="431.41" r="2.2" fill="#777777"/>
<circle cx="107.8" cy="434.94" r="2.2" fill="#777777"/>
<circle cx="107.8" cy="438.47" r="2.2" fill="#777777"/>
<circle cx="107.8" cy="442" r="2.2" fill="#777777"/>
<circle cx="112.2" cy="392.4" r="2.2" fill="#777777"/>
<circle cx="112.2" cy="395.94" r="2.2" fill="#777777"/>
<circle cx="112.2" cy="399.49" r="2.2" fill="#777777"/>
<circle cx="112.2" cy="403.03" r="2.2" fill="#777777"/>
<circle cx="112.2" cy="406.57" r="2.2" fill="#777777"/>
<circle cx="112.2" cy="410.11" r="2.2" fill="#777777"/>
<circle cx="112.2" cy="413.66" r="2.2" fill="#777777"/>
<circle cx="112.2" cy="417.2" r="2.2" fill="#777777"/>
<circle cx="112.2" cy="420.74" r="2.2" fill="#777777"/>
<circle cx="112.2" cy="424.29" r="2.2" fill="#777777"/>
<circle cx="112.2" cy="427.83" r="2.2" fill="#777777"/>
<circle cx="112.2" cy="431.37" r="2.2" fill="#777777"/>
<circle cx="112.2" cy="434.91" r="2.2" fill="#777777"/>
<circle cx="112.2" cy="438.46" r="2.2" fill="#777777"/>
<circle cx="112.2" cy="442" r="2.2" fill="#777777"/>
<circle cx="113.5" cy="392.4" r="2.2" fill="#777777"/>
<circle cx="113.5" cy="395.94" r="2.2" fill="#777777"/>
<circle cx="113.5" cy="399.49" r="2.2" fill="#777777"/>
<circle cx="113.5" cy="403.03" r="2.2" fill="#777777"/>
<circle cx="113.5" cy="406.57" r="2.2" fill="#777777"/>
<circle cx="113.5" cy="410.11" r="2.2" fill="#777777"/>
<circle cx="113.5" cy="413.66" r="2.2" fill="#777777"/>
<circle cx="113.5" cy="417.2" r="2.2" fill="#777777"/>
<circle cx="113.5" cy="420.74" r="2.2" fill="#777777"/>
<circle cx="113.5" cy="424.29" r="2.2" fill="#777777"/>
<circle cx="113.5" cy="427.83" r="2.2" fill="#777777"/>
<circle cx="113.5" cy="431.37" r="2.2" fill="#777777"/>
<circle cx="113.5" cy="434.91" r="2.2" fill="#777777"/>
<circle cx="113.5" cy="438.46" r="2.2" fill="#777777"/>
<circle cx="113.5" cy="442" r="2.2" fill="#777777"/>
<circle cx="135.4" cy="403.2" r="2.2" fill="#777777"/>
<circle cx="135.4" cy="406.94" r="2.2" fill="#777777"/>
<circle cx="135.4" cy="410.68" r="2.2" fill="#777777"/>
<circle cx="135.4" cy="414.42" r="2.2" fill="#777777"/>
<circle cx="135.4" cy="418.15" r="2.2" fill="#777777"/>
<circle cx="135.4" cy="421.89" r="2.2" fill="#777777"/>
<circle cx="135.4" cy="425.63" r="2.2" fill="#777777"/>
<circle cx="135.4" cy="429.37" r="2.2" fill="#777777"/>
<circle cx="135.4" cy="433.11" r="2.2" fill="#777777"/>
<circle cx="135.4" cy="436.85" r="2.2" fill="#777777"/>
<circle cx="135.4" cy="440.58" r="2.2" fill="#777777"/>
<circle cx="135.4" cy="444.32" r="2.2" fill="#777777"/>
<circle cx="135.4" cy="448.06" r="2.2" fill="#777777"/>
<circle cx="135.4" cy="451.8" r="2.2" fill="#777777"/>
<circle cx="136.6" cy="403.2" r="2.2" fill="#777777"/>
<circle cx="136.6" cy="406.94" r="2.2" fill="#777777"/>
<circle cx="136.6" cy="410.68" r="2.2" fill="#777777"/>
<circle cx="136.6" cy="414.42" r="2.2" fill="#777777"/>
<circle cx="136.6" cy="418.15" r="2.2" fill="#777777"/>
<circle cx="136.6" cy="421.89" r="2.2" fill="#777777"/>
<circle cx="136.6" cy="425.63" r="2.2" fill="#777777"/>
<circle cx="136.6" cy="429.37" r="2.2" fill="#777777"/>
<circle cx="136.6" cy="433.11" r="2.2" fill="#777777"/>
<circle cx="136.6" cy="436.85" r="2.2" fill="#777777"/>
<circle cx="136.6" cy="440.58" r="2.2" fill="#777777"/>
<circle cx="136.6" cy="444.32" r="2.2" fill="#777777"/>
<circle cx="136.6" cy="448.06" r="2.2" fill="#777777"/>
<circle cx="136.6" cy="451.8" r="2.2" fill="#777777"/>
<circle cx="141" cy="403.2" r="2.2" fill="#777777"/>
<circle cx="141" cy="406.94" r="2.2" fill="#777777"/>
<circle cx="141" cy="410.68" r="2.2" fill="#777777"/>
<circle cx="141" cy="414.42" r="2.2" fill="#777777"/>
<circle cx="141" cy="418.15" r="2.2" fill="#777777"/>
<circle cx="141" cy="421.89" r="2.2" fill="#777777"/>
<circle cx="141" cy="425.63" r="2.2" fill="#777777"/>
<circle cx="141" cy="429.37" r="2.2" fill="#777777"/>
<circle cx="141" cy="433.11" r="2.2" fill="#777777"/>
<circle cx="141" cy="436.85" r="2.2" fill="#777777"/>
<circle cx="141" cy="440.58" r="2.2" fill="#777777"/>
<circle cx="141" cy="444.32" r="2.2" fill="#777777"/>
<circle cx="141" cy="448.06" r="2.2" fill="#777777"/>
<circle cx="141" cy="451.8" r="2.2" fill="#777777"/>
<circle cx="142.3" cy="403.2" r="2.2" fill="#777777"/>
<circle cx="142.3" cy="406.94" r="2.2" fill="#777777"/>
<circle cx="142.3" cy="410.68" r="2.2" fill="#777777"/>
<circle cx="142.3" cy="414.42" r="2.2" fill="#777777"/>
<circle cx="142.3" cy="418.15" r="2.2" fill="#777777"/>
<circle cx="142.3" cy="421.89" r="2.2" fill="#777777"/>
<circle cx="142.3" cy="425.63" r="2.2" fill="#777777"/>
<circle cx="142.3" cy="429.37" r="2.2" fill="#777777"/>
<circle cx="142.3" cy="433.11" r="2.2" fill="#777777"/>
<circle cx="142.3" cy="436.85" r="2.2" fill="#777777"/>
<circle cx="142.3" cy="440.58" r="2.2" fill="#777777"/>
<circle cx="142.3" cy="444.32" r="2.2" fill="#777777"/>
<circle cx="142.3" cy="448.06" r="2.2" fill="#777777"/>
<circle cx="142.3" cy="451.8" r="2.2" fill="#777777"/>
<circle cx="165.3" cy="418.2" r="2.2" fill="#777777"/>
<circle cx="165.3" cy="421.95" r="2.2" fill="#777777"/>
<circle cx="165.3" cy="425.7" r="2.2" fill="#777777"/>
<circle cx="165.3" cy="429.45" r="2.2" fill="#777777"/>
<circle cx="165.3" cy="433.2" r="2.2" fill="#777777"/>
<circle cx="165.3" cy="436.95" r="2.2" fill="#777777"/>
<circle cx="165.3" cy="440.7" r="2.2" fill="#777777"/>
<circle cx="165.3" cy="444.45" r="2.2" fill="#777777"/>
<circle cx="165.3" cy="448.2" r="2.2" fill="#777777"/>
<circle cx="165.3" cy="451.95" r="2.2" fill="#777777"/>
<circle cx="165.3" cy="455.7" r="2.2" fill="#777777"/>
<circle cx="165.3" cy="459.45" r="2.2" fill="#777777"/>
<circle cx="165.3" cy="463.2" r="2.2" fill="#777777"/>
<circle cx="168.6" cy="418.2" r="2.2" fill="#777777"/>
<circle cx="168.6" cy="421.95" r="2.2" fill="#777777"/>
<circle cx="168.6" cy="425.7" r="2.2" fill="#777777"/>
<circle cx="168.6" cy="429.45" r="2.2" fill="#777777"/>
<circle cx="168.6" cy="433.2" r="2.2" fill="#777777"/>
<circle cx="168.6" cy="436.95" r="2.2" fill="#777777"/>
<circle cx="168.6" cy="440.7" r="2.2" fill="#777777"/>
<circle cx="168.6" cy="444.45" r="2.2" fill="#777777"/>
<circle cx="168.6" cy="448.2" r="2.2" fill="#777777"/>
<circle cx="168.6" cy="451.95" r="2.2" fill="#777777"/>
<circle cx="168.6" cy="455.7" r="2.2" fill="#777777"/>
<circle cx="168.6" cy="459.45" r="2.2" fill="#777777"/>
<circle cx="168.6" cy="463.2" r="2.2" fill="#777777"/>
<circle cx="38.8" cy="362.7" r="2.3" fill="#e67a32"/>
<circle cx="38.8" cy="359.07" r="2.3" fill="#ebbd52"/>
<circle cx="38.8" cy="355.44" r="2.3" fill="#ebbd52"/>
<circle cx="38.8" cy="351.81" r="2.3" fill="#ebbd52"/>
<circle cx="38.8" cy="348.18" r="2.3" fill="#ebbd52"/>
<circle cx="38.8" cy="344.55" r="2.3" fill="#9b3222"/>
<circle cx="38.8" cy="340.92" r="2.3" fill="#9b3222"/>
<circle cx="38.8" cy="337.29" r="2.3" fill="#9b3222"/>
<circle cx="38.8" cy="333.66" r="2.3" fill="#5e140c"/>
<circle cx="43.5" cy="340.7" r="2.3" fill="#9b3222"/>
<circle cx="43.5" cy="356" r="2.3" fill="#f0aa62"/>
<circle cx="43.5" cy="359.5" r="2.3" fill="#f0aa62"/>
<circle cx="44" cy="363" r="2.3" fill="#d3d3d3"/>
<circle cx="58.9" cy="350.7" r="2.3" fill="#e67a32"/>
<circle cx="58.9" cy="347.07" r="2.3" fill="#f0aa62"/>
<circle cx="58.9" cy="343.44" r="2.3" fill="#ebbd52"/>
<circle cx="58.9" cy="339.81" r="2.3" fill="#ebbd52"/>
<circle cx="58.9" cy="336.18" r="2.3" fill="#ebbd52"/>
<circle cx="58.9" cy="332.55" r="2.3" fill="#9b3222"/>
<circle cx="58.9" cy="328.92" r="2.3" fill="#9b3222"/>
<circle cx="58.9" cy="325.29" r="2.3" fill="#9b3222"/>
<circle cx="58.9" cy="321.66" r="2.3" fill="#5e140c"/>
<circle cx="58.9" cy="318.03" r="2.3" fill="#5e140c"/>
<circle cx="58.9" cy="314.4" r="2.3" fill="#5e140c"/>
<circle cx="58.9" cy="310.77" r="2.3" fill="#5e140c"/>
<circle cx="61.33" cy="350.7" r="2.3" fill="#e67a32"/>
<circle cx="61.33" cy="347.07" r="2.3" fill="#f0aa62"/>
<circle cx="61.33" cy="343.44" r="2.3" fill="#ebbd52"/>
<circle cx="61.33" cy="339.81" r="2.3" fill="#ebbd52"/>
<circle cx="61.33" cy="336.18" r="2.3" fill="#ebbd52"/>
<circle cx="61.33" cy="332.55" r="2.3" fill="#9b3222"/>
<circle cx="61.33" cy="328.92" r="2.3" fill="#9b3222"/>
<circle cx="61.33" cy="325.29" r="2.3" fill="#9b3222"/>
<circle cx="61.33" cy="321.66" r="2.3" fill="#5e140c"/>
<circle cx="61.33" cy="318.03" r="2.3" fill="#5e140c"/>
<circle cx="61.33" cy="314.4" r="2.3" fill="#5e140c"/>
<circle cx="61.33" cy="310.77" r="2.3" fill="#5e140c"/>
<circle cx="61.33" cy="307.14" r="2.3" fill="#5e140c"/>
<circle cx="61.33" cy="303.51" r="2.3" fill="#5e140c"/>
<circle cx="63.77" cy="350.7" r="2.3" fill="#e67a32"/>
<circle cx="63.77" cy="347.07" r="2.3" fill="#f0aa62"/>
<circle cx="63.77" cy="343.44" r="2.3" fill="#ebbd52"/>
<circle cx="63.77" cy="339.81" r="2.3" fill="#ebbd52"/>
<circle cx="63.77" cy="336.18" r="2.3" fill="#ebbd52"/>
<circle cx="63.77" cy="332.55" r="2.3" fill="#9b3222"/>
<circle cx="63.77" cy="328.92" r="2.3" fill="#9b3222"/>
<circle cx="63.77" cy="325.29" r="2.3" fill="#9b3222"/>
<circle cx="63.77" cy="321.66" r="2.3" fill="#5e140c"/>
<circle cx="63.77" cy="318.03" r="2.3" fill="#5e140c"/>
<circle cx="63.77" cy="314.4" r="2.3" fill="#5e140c"/>
<circle cx="63.77" cy="310.77" r="2.3" fill="#5e140c"/>
<circle cx="63.77" cy="307.14" r="2.3" fill="#5e140c"/>
<circle cx="63.77" cy="303.51" r="2.3" fill="#5e140c"/>
<circle cx="63.77" cy="299.88" r="2.3" fill="#5e140c"/>
<circle cx="66.2" cy="350.7" r="2.3" fill="#e67a32"/>
<circle cx="66.2" cy="347.07" r="2.3" fill="#f0aa62"/>
<circle cx="66.2" cy="343.44" r="2.3" fill="#ebbd52"/>
<circle cx="66.2" cy="339.81" r="2.3" fill="#ebbd52"/>
<circle cx="66.2" cy="336.18" r="2.3" fill="#ebbd52"/>
<circle cx="66.2" cy="332.55" r="2.3" fill="#9b3222"/>
<circle cx="66.2" cy="328.92" r="2.3" fill="#9b3222"/>
<circle cx="66.2" cy="325.29" r="2.3" fill="#9b3222"/>
<circle cx="66.2" cy="321.66" r="2.3" fill="#5e140c"/>
<circle cx="66.2" cy="318.03" r="2.3" fill="#5e140c"/>
<circle cx="66.2" cy="314.4" r="2.3" fill="#5e140c"/>
<circle cx="66.2" cy="310.77" r="2.3" fill="#5e140c"/>
<circle cx="66.2" cy="307.14" r="2.3" fill="#5e140c"/>
<circle cx="66.2" cy="303.51" r="2.3" fill="#5e140c"/>
<circle cx="70.8" cy="365.5" r="2.3" fill="#e67a32"/>
<circle cx="70.8" cy="361.87" r="2.3" fill="#f0aa62"/>
<circle cx="70.8" cy="358.24" r="2.3" fill="#ebbd52"/>
<circle cx="70.8" cy="354.61" r="2.3" fill="#ebbd52"/>
<circle cx="70.8" cy="350.98" r="2.3" fill="#ebbd52"/>
<circle cx="70.8" cy="347.35" r="2.3" fill="#9b3222"/>
<circle cx="70.8" cy="343.72" r="2.3" fill="#9b3222"/>
<circle cx="70.8" cy="340.09" r="2.3" fill="#9b3222"/>
<circle cx="70.8" cy="336.46" r="2.3" fill="#5e140c"/>
<circle cx="70.8" cy="332.83" r="2.3" fill="#5e140c"/>
<circle cx="70.8" cy="329.2" r="2.3" fill="#5e140c"/>
<circle cx="70.8" cy="325.57" r="2.3" fill="#5e140c"/>
<circle cx="70.8" cy="321.94" r="2.3" fill="#5e140c"/>
<circle cx="70.8" cy="318.31" r="2.3" fill="#5e140c"/>
<circle cx="73.77" cy="365.5" r="2.3" fill="#e67a32"/>
<circle cx="73.77" cy="361.87" r="2.3" fill="#f0aa62"/>
<circle cx="73.77" cy="358.24" r="2.3" fill="#ebbd52"/>
<circle cx="73.77" cy="354.61" r="2.3" fill="#ebbd52"/>
<circle cx="73.77" cy="350.98" r="2.3" fill="#ebbd52"/>
<circle cx="73.77" cy="347.35" r="2.3" fill="#9b3222"/>
<circle cx="73.77" cy="343.72" r="2.3" fill="#9b3222"/>
<circle cx="73.77" cy="340.09" r="2.3" fill="#9b3222"/>
<circle cx="73.77" cy="336.46" r="2.3" fill="#5e140c"/>
<circle cx="73.77" cy="332.83" r="2.3" fill="#5e140c"/>
<circle cx="73.77" cy="329.2" r="2.3" fill="#5e140c"/>
<circle cx="73.77" cy="325.57" r="2.3" fill="#5e140c"/>
<circle cx="73.77" cy="321.94" r="2.3" fill="#5e140c"/>
<circle cx="73.77" cy="318.31" r="2.3" fill="#5e140c"/>
<circle cx="76.75" cy="365.5" r="2.3" fill="#e67a32"/>
<circle cx="76.75" cy="361.87" r="2.3" fill="#f0aa62"/>
<circle cx="76.75" cy="358.24" r="2.3" fill="#ebbd52"/>
<circle cx="76.75" cy="354.61" r="2.3" fill="#ebbd52"/>
<circle cx="76.75" cy="350.98" r="2.3" fill="#ebbd52"/>
<circle cx="76.75" cy="347.35" r="2.3" fill="#9b3222"/>
<circle cx="76.75" cy="343.72" r="2.3" fill="#9b3222"/>
<circle cx="76.75" cy="340.09" r="2.3" fill="#9b3222"/>
<circle cx="76.75" cy="336.46" r="2.3" fill="#5e140c"/>
<circle cx="76.75" cy="332.83" r="2.3" fill="#5e140c"/>
<circle cx="76.75" cy="329.2" r="2.3" fill="#5e140c"/>
<circle cx="76.75" cy="325.57" r="2.3" fill="#5e140c"/>
<circle cx="76.75" cy="321.94" r="2.3" fill="#5e140c"/>
<circle cx="76.75" cy="318.31" r="2.3" fill="#5e140c"/>
<circle cx="79.72" cy="365.5" r="2.3" fill="#e67a32"/>
<circle cx="79.72" cy="361.87" r="2.3" fill="#f0aa62"/>
<circle cx="79.72" cy="358.24" r="2.3" fill="#ebbd52"/>
<circle cx="79.72" cy="354.61" r="2.3" fill="#ebbd52"/>
<circle cx="79.72" cy="350.98" r="2.3" fill="#ebbd52"/>
<circle cx="79.72" cy="347.35" r="2.3" fill="#9b3222"/>
<circle cx="79.72" cy="343.72" r="2.3" fill="#9b3222"/>
<circle cx="79.72" cy="340.09" r="2.3" fill="#9b3222"/>
<circle cx="79.72" cy="336.46" r="2.3" fill="#5e140c"/>
<circle cx="79.72" cy="332.83" r="2.3" fill="#5e140c"/>
<circle cx="79.72" cy="329.2" r="2.3" fill="#5e140c"/>
<circle cx="79.72" cy="325.57" r="2.3" fill="#5e140c"/>
<circle cx="79.72" cy="321.94" r="2.3" fill="#5e140c"/>
<circle cx="79.72" cy="318.31" r="2.3" fill="#5e140c"/>
<circle cx="82.7" cy="365.5" r="2.3" fill="#e67a32"/>
<circle cx="82.7" cy="361.87" r="2.3" fill="#f0aa62"/>
<circle cx="82.7" cy="358.24" r="2.3" fill="#ebbd52"/>
<circle cx="82.7" cy="354.61" r="2.3" fill="#ebbd52"/>
<circle cx="82.7" cy="350.98" r="2.3" fill="#ebbd52"/>
<circle cx="82.7" cy="347.35" r="2.3" fill="#9b3222"/>
<circle cx="82.7" cy="343.72" r="2.3" fill="#9b3222"/>
<circle cx="82.7" cy="340.09" r="2.3" fill="#9b3222"/>
<circle cx="82.7" cy="336.46" r="2.3" fill="#5e140c"/>
<circle cx="82.7" cy="332.83" r="2.3" fill="#5e140c"/>
<circle cx="82.7" cy="329.2" r="2.3" fill="#5e140c"/>
<circle cx="82.7" cy="325.57" r="2.3" fill="#5e140c"/>
<circle cx="82.7" cy="321.94" r="2.3" fill="#5e140c"/>
<circle cx="82.7" cy="318.31" r="2.3" fill="#5e140c"/>
<circle cx="87.3" cy="365.5" r="2.3" fill="#e67a32"/>
<circle cx="87.3" cy="361.87" r="2.3" fill="#f0aa62"/>
<circle cx="87.3" cy="358.24" r="2.3" fill="#ebbd52"/>
<circle cx="87.3" cy="354.61" r="2.3" fill="#ebbd52"/>
<circle cx="87.3" cy="350.98" r="2.3" fill="#ebbd52"/>
<circle cx="87.3" cy="347.35" r="2.3" fill="#9b3222"/>
<circle cx="87.3" cy="343.72" r="2.3" fill="#9b3222"/>
<circle cx="87.3" cy="340.09" r="2.3" fill="#9b3222"/>
<circle cx="87.3" cy="336.46" r="2.3" fill="#5e140c"/>
<circle cx="87.3" cy="332.83" r="2.3" fill="#5e140c"/>
<circle cx="87.3" cy="329.2" r="2.3" fill="#5e140c"/>
<circle cx="87.3" cy="325.57" r="2.3" fill="#5e140c"/>
<circle cx="87.3" cy="321.94" r="2.3" fill="#5e140c"/>
<circle cx="87.3" cy="318.31" r="2.3" fill="#5e140c"/>
<circle cx="87.3" cy="314.68" r="2.3" fill="#5e140c"/>
<circle cx="87.3" cy="311.05" r="2.3" fill="#5e140c"/>
<circle cx="90.25" cy="365.5" r="2.3" fill="#e67a32"/>
<circle cx="90.25" cy="361.87" r="2.3" fill="#f0aa62"/>
<circle cx="90.25" cy="358.24" r="2.3" fill="#ebbd52"/>
<circle cx="90.25" cy="354.61" r="2.3" fill="#ebbd52"/>
<circle cx="90.25" cy="350.98" r="2.3" fill="#ebbd52"/>
<circle cx="90.25" cy="347.35" r="2.3" fill="#9b3222"/>
<circle cx="90.25" cy="343.72" r="2.3" fill="#9b3222"/>
<circle cx="90.25" cy="340.09" r="2.3" fill="#9b3222"/>
<circle cx="90.25" cy="336.46" r="2.3" fill="#5e140c"/>
<circle cx="90.25" cy="332.83" r="2.3" fill="#5e140c"/>
<circle cx="90.25" cy="329.2" r="2.3" fill="#5e140c"/>
<circle cx="90.25" cy="325.57" r="2.3" fill="#5e140c"/>
<circle cx="90.25" cy="321.94" r="2.3" fill="#5e140c"/>
<circle cx="90.25" cy="318.31" r="2.3" fill="#5e140c"/>
<circle cx="90.25" cy="314.68" r="2.3" fill="#5e140c"/>
<circle cx="93.2" cy="365.5" r="2.3" fill="#e67a32"/>
<circle cx="93.2" cy="361.87" r="2.3" fill="#f0aa62"/>
<circle cx="93.2" cy="358.24" r="2.3" fill="#ebbd52"/>
<circle cx="93.2" cy="354.61" r="2.3" fill="#ebbd52"/>
<circle cx="93.2" cy="350.98" r="2.3" fill="#ebbd52"/>
<circle cx="93.2" cy="347.35" r="2.3" fill="#9b3222"/>
<circle cx="93.2" cy="343.72" r="2.3" fill="#9b3222"/>
<circle cx="93.2" cy="340.09" r="2.3" fill="#9b3222"/>
<circle cx="93.2" cy="336.46" r="2.3" fill="#5e140c"/>
<circle cx="93.2" cy="332.83" r="2.3" fill="#5e140c"/>
<circle cx="93.2" cy="329.2" r="2.3" fill="#5e140c"/>
<circle cx="93.2" cy="325.57" r="2.3" fill="#5e140c"/>
<circle cx="93.2" cy="321.94" r="2.3" fill="#5e140c"/>
<circle cx="97.5" cy="342" r="2.3" fill="#5e140c"/>
<circle cx="98.75" cy="345.5" r="2.3" fill="#5e140c"/>
<circle cx="101.25" cy="346.5" r="2.3" fill="#5e140c"/>
<circle cx="100" cy="349" r="2.3" fill="#5e140c"/>
<circle cx="101.25" cy="352.5" r="2.3" fill="#5e140c"/>
<circle cx="103.75" cy="353.5" r="2.3" fill="#5e140c"/>
<circle cx="102.5" cy="356" r="2.3" fill="#5e140c"/>
<circle cx="103.75" cy="359.5" r="2.3" fill="#5e140c"/>
<circle cx="106.25" cy="360.5" r="2.3" fill="#5e140c"/>
<circle cx="105" cy="363" r="2.3" fill="#5e140c"/>
<circle cx="100.8" cy="384.7" r="2.3" fill="#e67a32"/>
<circle cx="100.8" cy="381.07" r="2.3" fill="#f0aa62"/>
<circle cx="100.8" cy="377.44" r="2.3" fill="#ebbd52"/>
<circle cx="100.8" cy="373.81" r="2.3" fill="#ebbd52"/>
<circle cx="100.8" cy="370.18" r="2.3" fill="#ebbd52"/>
<circle cx="100.8" cy="366.55" r="2.3" fill="#9b3222"/>
<circle cx="103" cy="384.7" r="2.3" fill="#e67a32"/>
<circle cx="103" cy="381.07" r="2.3" fill="#f0aa62"/>
<circle cx="103" cy="377.44" r="2.3" fill="#ebbd52"/>
<circle cx="103" cy="373.81" r="2.3" fill="#ebbd52"/>
<circle cx="103" cy="370.18" r="2.3" fill="#ebbd52"/>
<circle cx="103" cy="366.55" r="2.3" fill="#9b3222"/>
<circle cx="105.2" cy="384.7" r="2.3" fill="#e67a32"/>
<circle cx="105.2" cy="381.07" r="2.3" fill="#f0aa62"/>
<circle cx="105.2" cy="377.44" r="2.3" fill="#ebbd52"/>
<circle cx="105.2" cy="373.81" r="2.3" fill="#ebbd52"/>
<circle cx="105.2" cy="370.18" r="2.3" fill="#ebbd52"/>
<circle cx="105.2" cy="366.55" r="2.3" fill="#9b3222"/>
<circle cx="126" cy="311.7" r="2.3" fill="#5e140c"/>
<circle cx="123.8" cy="380" r="2.3" fill="#e67a32"/>
<circle cx="123.8" cy="376.37" r="2.3" fill="#f0aa62"/>
<circle cx="123.8" cy="372.74" r="2.3" fill="#ebbd52"/>
<circle cx="123.8" cy="369.11" r="2.3" fill="#ebbd52"/>
<circle cx="123.8" cy="365.48" r="2.3" fill="#ebbd52"/>
<circle cx="123.8" cy="361.85" r="2.3" fill="#9b3222"/>
<circle cx="123.8" cy="358.22" r="2.3" fill="#9b3222"/>
<circle cx="123.8" cy="354.59" r="2.3" fill="#9b3222"/>
<circle cx="123.8" cy="350.96" r="2.3" fill="#5e140c"/>
<circle cx="123.8" cy="347.33" r="2.3" fill="#5e140c"/>
<circle cx="123.8" cy="343.7" r="2.3" fill="#5e140c"/>
<circle cx="123.8" cy="340.07" r="2.3" fill="#5e140c"/>
<circle cx="123.8" cy="336.44" r="2.3" fill="#5e140c"/>
<circle cx="123.8" cy="332.81" r="2.3" fill="#5e140c"/>
<circle cx="123.8" cy="329.18" r="2.3" fill="#5e140c"/>
<circle cx="123.8" cy="325.55" r="2.3" fill="#5e140c"/>
<circle cx="126.34" cy="380" r="2.3" fill="#e67a32"/>
<circle cx="126.34" cy="376.37" r="2.3" fill="#f0aa62"/>
<circle cx="126.34" cy="372.74" r="2.3" fill="#ebbd52"/>
<circle cx="126.34" cy="369.11" r="2.3" fill="#ebbd52"/>
<circle cx="126.34" cy="365.48" r="2.3" fill="#ebbd52"/>
<circle cx="126.34" cy="361.85" r="2.3" fill="#9b3222"/>
<circle cx="126.34" cy="358.22" r="2.3" fill="#9b3222"/>
<circle cx="126.34" cy="354.59" r="2.3" fill="#9b3222"/>
<circle cx="126.34" cy="350.96" r="2.3" fill="#5e140c"/>
<circle cx="126.34" cy="347.33" r="2.3" fill="#5e140c"/>
<circle cx="126.34" cy="343.7" r="2.3" fill="#5e140c"/>
<circle cx="126.34" cy="340.07" r="2.3" fill="#5e140c"/>
<circle cx="126.34" cy="336.44" r="2.3" fill="#5e140c"/>
<circle cx="126.34" cy="332.81" r="2.3" fill="#5e140c"/>
<circle cx="126.34" cy="329.18" r="2.3" fill="#5e140c"/>
<circle cx="126.34" cy="325.55" r="2.3" fill="#5e140c"/>
<circle cx="126.34" cy="321.92" r="2.3" fill="#5e140c"/>
<circle cx="126.34" cy="318.29" r="2.3" fill="#5e140c"/>
<circle cx="128.88" cy="380" r="2.3" fill="#e67a32"/>
<circle cx="128.88" cy="376.37" r="2.3" fill="#f0aa62"/>
<circle cx="128.88" cy="372.74" r="2.3" fill="#ebbd52"/>
<circle cx="128.88" cy="369.11" r="2.3" fill="#ebbd52"/>
<circle cx="128.88" cy="365.48" r="2.3" fill="#ebbd52"/>
<circle cx="128.88" cy="361.85" r="2.3" fill="#9b3222"/>
<circle cx="128.88" cy="358.22" r="2.3" fill="#9b3222"/>
<circle cx="128.88" cy="354.59" r="2.3" fill="#9b3222"/>
<circle cx="128.88" cy="350.96" r="2.3" fill="#5e140c"/>
<circle cx="128.88" cy="347.33" r="2.3" fill="#5e140c"/>
<circle cx="128.88" cy="343.7" r="2.3" fill="#5e140c"/>
<circle cx="128.88" cy="340.07" r="2.3" fill="#5e140c"/>
<circle cx="128.88" cy="336.44" r="2.3" fill="#5e140c"/>
<circle cx="128.88" cy="332.81" r="2.3" fill="#5e140c"/>
<circle cx="128.88" cy="329.18" r="2.3" fill="#5e140c"/>
<circle cx="128.88" cy="325.55" r="2.3" fill="#5e140c"/>
<circle cx="128.88" cy="321.92" r="2.3" fill="#5e140c"/>
<circle cx="131.42" cy="380" r="2.3" fill="#e67a32"/>
<circle cx="131.42" cy="376.37" r="2.3" fill="#f0aa62"/>
<circle cx="131.42" cy="372.74" r="2.3" fill="#ebbd52"/>
<circle cx="131.42" cy="369.11" r="2.3" fill="#ebbd52"/>
<circle cx="131.42" cy="365.48" r="2.3" fill="#ebbd52"/>
<circle cx="131.42" cy="361.85" r="2.3" fill="#9b3222"/>
<circle cx="131.42" cy="358.22" r="2.3" fill="#9b3222"/>
<circle cx="131.42" cy="354.59" r="2.3" fill="#9b3222"/>
<circle cx="131.42" cy="350.96" r="2.3" fill="#5e140c"/>
<circle cx="131.42" cy="347.33" r="2.3" fill="#5e140c"/>
<circle cx="131.42" cy="343.7" r="2.3" fill="#5e140c"/>
<circle cx="131.42" cy="340.07" r="2.3" fill="#5e140c"/>
<circle cx="131.42" cy="336.44" r="2.3" fill="#5e140c"/>
<circle cx="131.42" cy="332.81" r="2.3" fill="#5e140c"/>
<circle cx="133.96" cy="380" r="2.3" fill="#e67a32"/>
<circle cx="133.96" cy="376.37" r="2.3" fill="#f0aa62"/>
<circle cx="133.96" cy="372.74" r="2.3" fill="#ebbd52"/>
<circle cx="133.96" cy="369.11" r="2.3" fill="#ebbd52"/>
<circle cx="133.96" cy="365.48" r="2.3" fill="#ebbd52"/>
<circle cx="133.96" cy="361.85" r="2.3" fill="#9b3222"/>
<circle cx="133.96" cy="358.22" r="2.3" fill="#9b3222"/>
<circle cx="133.96" cy="354.59" r="2.3" fill="#9b3222"/>
<circle cx="133.96" cy="350.96" r="2.3" fill="#5e140c"/>
<circle cx="133.96" cy="347.33" r="2.3" fill="#5e140c"/>
<circle cx="133.96" cy="343.7" r="2.3" fill="#5e140c"/>
<circle cx="133.96" cy="340.07" r="2.3" fill="#5e140c"/>
<circle cx="136.5" cy="380" r="2.3" fill="#e67a32"/>
<circle cx="136.5" cy="376.37" r="2.3" fill="#f0aa62"/>
<circle cx="136.5" cy="372.74" r="2.3" fill="#ebbd52"/>
<circle cx="136.5" cy="369.11" r="2.3" fill="#ebbd52"/>
<circle cx="136.5" cy="365.48" r="2.3" fill="#ebbd52"/>
<circle cx="136.5" cy="361.85" r="2.3" fill="#9b3222"/>
<circle cx="136.5" cy="358.22" r="2.3" fill="#9b3222"/>
<circle cx="136.5" cy="354.59" r="2.3" fill="#9b3222"/>
<circle cx="136.5" cy="350.96" r="2.3" fill="#5e140c"/>
<circle cx="136.5" cy="347.33" r="2.3" fill="#5e140c"/>
<circle cx="137" cy="344.8" r="2.3" fill="#9b3222"/>
<circle cx="176.3" cy="344.6" r="2" fill="#5e140c"/>
<circle cx="181.8" cy="351.9" r="2" fill="#5e140c"/>
<circle cx="177.9" cy="358.9" r="2" fill="#5e140c"/>
<circle cx="172.1" cy="351.9" r="2" fill="#9b3222"/>
<circle cx="159.8" cy="355.6" r="2" fill="#9b3222"/>
<circle cx="168.6" cy="355.6" r="2" fill="#9b3222"/>
<circle cx="175" cy="355.6" r="2" fill="#9b3222"/>
<circle cx="153.7" cy="362.9" r="2" fill="#9b3222"/>
<circle cx="162" cy="362.9" r="2" fill="#9b3222"/>
<circle cx="179.6" cy="362.9" r="2" fill="#9b3222"/>
<circle cx="178.5" cy="366.4" r="2" fill="#9b3222"/>
<circle cx="184.5" cy="366.4" r="2" fill="#9b3222"/>
<circle cx="152.6" cy="369.7" r="2" fill="#9b3222"/>
<circle cx="177.4" cy="369.7" r="2" fill="#9b3222"/>
<circle cx="181.8" cy="369.7" r="2" fill="#9b3222"/>
<circle cx="188.9" cy="369.7" r="2" fill="#9b3222"/>
<circle cx="167.5" cy="362.9" r="2" fill="#ebbd52"/>
<circle cx="170" cy="362.9" r="2" fill="#ebbd52"/>
<circle cx="173" cy="362.9" r="2" fill="#ebbd52"/>
<circle cx="168" cy="366.4" r="2" fill="#ebbd52"/>
<circle cx="171" cy="366.4" r="2" fill="#ebbd52"/>
<circle cx="171" cy="369.7" r="2" fill="#ebbd52"/>
<circle cx="174" cy="369.7" r="2" fill="#ebbd52"/>
<circle cx="163" cy="373.5" r="2" fill="#ebbd52"/>
<circle cx="172" cy="373.5" r="2" fill="#ebbd52"/>
<circle cx="181" cy="373.5" r="2" fill="#ebbd52"/>
<circle cx="184" cy="373.5" r="2" fill="#ebbd52"/>
<circle cx="186.5" cy="373.5" r="2" fill="#ebbd52"/>
<circle cx="154" cy="376.8" r="2" fill="#ebbd52"/>
<circle cx="172" cy="376.8" r="2" fill="#ebbd52"/>
<circle cx="174.5" cy="376.8" r="2" fill="#ebbd52"/>
<circle cx="180" cy="376.8" r="2" fill="#ebbd52"/>
<circle cx="186" cy="376.8" r="2" fill="#ebbd52"/>
<circle cx="188" cy="376.8" r="2" fill="#ebbd52"/>
<circle cx="190.5" cy="376.8" r="2" fill="#ebbd52"/>
<circle cx="169" cy="380.7" r="2" fill="#ebbd52"/>
<circle cx="176" cy="380.7" r="2" fill="#ebbd52"/>
<circle cx="184" cy="380.7" r="2" fill="#ebbd52"/>
<circle cx="187" cy="380.7" r="2" fill="#ebbd52"/>
<circle cx="191" cy="380.7" r="2" fill="#ebbd52"/>
<circle cx="193.5" cy="380.7" r="2" fill="#ebbd52"/>
<circle cx="166" cy="384" r="2" fill="#ebbd52"/>
<circle cx="186" cy="384" r="2" fill="#ebbd52"/>
<circle cx="167.5" cy="369.7" r="2" fill="#f0aa62"/>
<circle cx="168" cy="373.5" r="2" fill="#f0aa62"/>
<circle cx="150.4" cy="376.8" r="2" fill="#f0aa62"/>
<circle cx="151.5" cy="384" r="2" fill="#f0aa62"/>
<circle cx="160" cy="384" r="2" fill="#f0aa62"/>
<circle cx="175" cy="384" r="2" fill="#f0aa62"/>
<circle cx="182" cy="384" r="2" fill="#f0aa62"/>
<circle cx="192.7" cy="384" r="2" fill="#f0aa62"/>
<circle cx="154.5" cy="380.7" r="2" fill="#f3dc8c"/>
<circle cx="162" cy="380.7" r="2" fill="#f3dc8c"/>
<circle cx="150.4" cy="380.7" r="2" fill="#e67a32"/>
<circle cx="140" cy="388.4" r="2" fill="#e67a32"/>
<circle cx="153.7" cy="388.4" r="2" fill="#e67a32"/>
<circle cx="162" cy="388.4" r="2" fill="#e67a32"/>
<circle cx="168.6" cy="388.4" r="2" fill="#e67a32"/>
<circle cx="178.5" cy="388.4" r="2" fill="#e67a32"/>
<circle cx="183" cy="388.4" r="2" fill="#e67a32"/>
<circle cx="186" cy="388.4" r="2" fill="#e67a32"/>
<line x1="31.3" y1="288.2" x2="31.3" y2="510" stroke="#bdbdbd" stroke-width="1"/>
<line x1="30.8" y1="510" x2="199.7" y2="510" stroke="#7a7a7a" stroke-width="1"/>
<line x1="28.7" y1="504" x2="31.3" y2="504" stroke="#bdbdbd" stroke-width="1"/>
<text x="26.3" y="504" font-size="7.8" text-anchor="end" fill="#1a1a1a" font-weight="normal" dominant-baseline="central">0</text>
<line x1="28.7" y1="431.7" x2="31.3" y2="431.7" stroke="#bdbdbd" stroke-width="1"/>
<text x="26.3" y="431.7" font-size="7.8" text-anchor="end" fill="#1a1a1a" font-weight="normal" dominant-baseline="central">20</text>
<line x1="28.7" y1="358.8" x2="31.3" y2="358.8" stroke="#bdbdbd" stroke-width="1"/>
<text x="26.3" y="358.8" font-size="7.8" text-anchor="end" fill="#1a1a1a" font-weight="normal" dominant-baseline="central">40</text>
<line x1="38.2" y1="510" x2="38.2" y2="512.6" stroke="#7a7a7a" stroke-width="1"/>
<text x="38.2" y="519.2" font-size="7.8" text-anchor="middle" fill="#1a1a1a" font-weight="normal" dominant-baseline="central">0</text>
<line x1="75.5" y1="510" x2="75.5" y2="512.6" stroke="#7a7a7a" stroke-width="1"/>
<text x="75.5" y="519.2" font-size="7.8" text-anchor="middle" fill="#1a1a1a" font-weight="normal" dominant-baseline="central">1,000</text>
<line x1="113" y1="510" x2="113" y2="512.6" stroke="#7a7a7a" stroke-width="1"/>
<text x="113" y="519.2" font-size="7.8" text-anchor="middle" fill="#1a1a1a" font-weight="normal" dominant-baseline="central">2,000</text>
<line x1="150.4" y1="510" x2="150.4" y2="512.6" stroke="#7a7a7a" stroke-width="1"/>
<text x="150.4" y="519.2" font-size="7.8" text-anchor="middle" fill="#1a1a1a" font-weight="normal" dominant-baseline="central">3,000</text>
<line x1="188.4" y1="510" x2="188.4" y2="512.6" stroke="#7a7a7a" stroke-width="1"/>
<text x="188.4" y="519.2" font-size="7.8" text-anchor="middle" fill="#1a1a1a" font-weight="normal" dominant-baseline="central">4,000</text>
<text x="6" y="398" font-size="7.8" text-anchor="middle" fill="#1a1a1a" font-weight="normal" dominant-baseline="central" transform="rotate(-90 6 398)">Temperature (°C)</text>
<text x="115.6" y="530.5" font-size="7.8" text-anchor="middle" fill="#1a1a1a" font-weight="normal" dominant-baseline="central">Elevation (masl)</text>
<text x="-0.2" y="290" font-size="10.5" text-anchor="start" fill="#1a1a1a" font-weight="bold" dominant-baseline="central">b</text>
<line x1="31.3" y1="350" x2="200.4" y2="350" stroke="#ee1a22" stroke-width="1.45" stroke-dasharray="5 4.2"/>
<polygon points="149.4,301.5 154.2,300.6 160,302.5 167.7,306.3 177.3,303.5 175.4,309.2 173.5,315 175.4,322.7 167.7,332.3 163.8,330.4 152.3,320.8 148.5,317 151.3,309.2" fill="#000" stroke="none" stroke-width="0"/>
<text x="162" y="316" font-size="7.2" text-anchor="middle" fill="#fff" font-weight="normal" dominant-baseline="central">Kenya</text>
<polygon points="66.6,500.6 66.6,492.3 68.1,498.8 73.6,431 78,477.7 82.7,468 85.9,489.2 90.8,474.6 93.2,479.5 93.6,500.6 101.1,483.2 104.2,489.2 112.4,491.8 113.3,486.3 113.3,500.6" fill="rgba(190,70,70,0.55)" stroke="none" stroke-width="0"/>
<polygon points="66.6,500.6 66.6,500.8 113.3,500.8 113.3,500.6" fill="rgba(80,130,200,0.45)" stroke="none" stroke-width="0"/>
<polyline points="66.6,492.3 68.1,498.8 73.6,431 78,477.7 82.7,468 85.9,489.2 90.8,474.6 93.2,479.5 93.6,500.6 101.1,483.2 104.2,489.2 112.4,491.8 113.3,486.3" fill="none" stroke="#b32f32" stroke-width="1" stroke-linejoin="round"/>
<polyline points="66.6,500.8 113.3,500.8" fill="none" stroke="#4a86c4" stroke-width="1" stroke-linejoin="round"/>
<line x1="64.8" y1="427.3" x2="64.8" y2="503.9" stroke="#a8a8a8" stroke-width="0.9"/>
<line x1="64.35" y1="503.9" x2="114.6" y2="503.9" stroke="#858585" stroke-width="0.9"/>
<line x1="62.6" y1="448.4" x2="64.8" y2="448.4" stroke="#a8a8a8" stroke-width="0.9"/>
<text x="60.6" y="448.4" font-size="7.2" text-anchor="end" fill="#1a1a1a" font-weight="normal" dominant-baseline="central">10</text>
<line x1="62.6" y1="474.4" x2="64.8" y2="474.4" stroke="#a8a8a8" stroke-width="0.9"/>
<text x="60.6" y="474.4" font-size="7.2" text-anchor="end" fill="#1a1a1a" font-weight="normal" dominant-baseline="central">5</text>
<line x1="62.6" y1="500.6" x2="64.8" y2="500.6" stroke="#a8a8a8" stroke-width="0.9"/>
<text x="60.6" y="500.6" font-size="7.2" text-anchor="end" fill="#1a1a1a" font-weight="normal" dominant-baseline="central">0</text>
<line x1="67.5" y1="503.9" x2="67.5" y2="506.1" stroke="#858585" stroke-width="0.9"/>
<line x1="80.4" y1="503.9" x2="80.4" y2="506.1" stroke="#858585" stroke-width="0.9"/>
<line x1="93.2" y1="503.9" x2="93.2" y2="506.1" stroke="#858585" stroke-width="0.9"/>
<line x1="106" y1="503.9" x2="106" y2="506.1" stroke="#858585" stroke-width="0.9"/>
<text x="41" y="466" font-size="7.5" text-anchor="middle" fill="#1a1a1a" font-weight="normal" dominant-baseline="central" transform="rotate(-90 41 466)">Critical temp. (%)</text>
<polygon points="255.5,127.8 280,127.8 286.3,131.4 290,137 293.6,138.8 299,144.3 308.3,145 316,145 323.2,144.3 329.8,143.2 338.6,147.6 369,147.6 369,242.8 351.9,242.8 345.2,239.6 328.8,230.4 314.1,219.5 301.3,208.5 288.5,195.6 279.3,181 271.6,171 260.6,160 257,152.8 255.5,150" fill="#d3d3d3" stroke="none" stroke-width="0"/>
<circle cx="257.75" cy="129.55" r="1.75" fill="#777777"/>
<circle cx="257.75" cy="132.75" r="1.75" fill="#777777"/>
<circle cx="257.75" cy="135.95" r="1.75" fill="#777777"/>
<circle cx="257.75" cy="139.15" r="1.75" fill="#777777"/>
<circle cx="257.75" cy="142.35" r="1.75" fill="#777777"/>
<circle cx="257.75" cy="145.55" r="1.75" fill="#777777"/>
<circle cx="257.75" cy="148.75" r="1.75" fill="#777777"/>
<circle cx="257.75" cy="151.95" r="1.75" fill="#777777"/>
<circle cx="258.85" cy="129.55" r="1.75" fill="#777777"/>
<circle cx="258.85" cy="132.75" r="1.75" fill="#777777"/>
<circle cx="258.85" cy="135.95" r="1.75" fill="#777777"/>
<circle cx="258.85" cy="139.15" r="1.75" fill="#777777"/>
<circle cx="258.85" cy="142.35" r="1.75" fill="#777777"/>
<circle cx="258.85" cy="145.55" r="1.75" fill="#777777"/>
<circle cx="258.85" cy="148.75" r="1.75" fill="#777777"/>
<circle cx="258.85" cy="151.95" r="1.75" fill="#777777"/>
<circle cx="264.25" cy="129.55" r="1.75" fill="#777777"/>
<circle cx="264.25" cy="133.14" r="1.75" fill="#777777"/>
<circle cx="264.25" cy="136.73" r="1.75" fill="#777777"/>
<circle cx="264.25" cy="140.31" r="1.75" fill="#777777"/>
<circle cx="264.25" cy="143.9" r="1.75" fill="#777777"/>
<circle cx="264.25" cy="147.49" r="1.75" fill="#777777"/>
<circle cx="264.25" cy="151.08" r="1.75" fill="#777777"/>
<circle cx="264.25" cy="154.66" r="1.75" fill="#777777"/>
<circle cx="264.25" cy="158.25" r="1.75" fill="#777777"/>
<circle cx="265.85" cy="129.55" r="1.75" fill="#777777"/>
<circle cx="265.85" cy="133.14" r="1.75" fill="#777777"/>
<circle cx="265.85" cy="136.73" r="1.75" fill="#777777"/>
<circle cx="265.85" cy="140.31" r="1.75" fill="#777777"/>
<circle cx="265.85" cy="143.9" r="1.75" fill="#777777"/>
<circle cx="265.85" cy="147.49" r="1.75" fill="#777777"/>
<circle cx="265.85" cy="151.08" r="1.75" fill="#777777"/>
<circle cx="265.85" cy="154.66" r="1.75" fill="#777777"/>
<circle cx="265.85" cy="158.25" r="1.75" fill="#777777"/>
<circle cx="272.55" cy="131.35" r="1.75" fill="#777777"/>
<circle cx="272.55" cy="134.82" r="1.75" fill="#777777"/>
<circle cx="272.55" cy="138.29" r="1.75" fill="#777777"/>
<circle cx="272.55" cy="141.76" r="1.75" fill="#777777"/>
<circle cx="272.55" cy="145.24" r="1.75" fill="#777777"/>
<circle cx="272.55" cy="148.71" r="1.75" fill="#777777"/>
<circle cx="272.55" cy="152.18" r="1.75" fill="#777777"/>
<circle cx="272.55" cy="155.65" r="1.75" fill="#777777"/>
<circle cx="277.05" cy="143.25" r="1.75" fill="#777777"/>
<circle cx="277.05" cy="146.85" r="1.75" fill="#777777"/>
<circle cx="277.05" cy="150.45" r="1.75" fill="#777777"/>
<circle cx="277.05" cy="154.05" r="1.75" fill="#777777"/>
<circle cx="277.05" cy="157.65" r="1.75" fill="#777777"/>
<circle cx="277.05" cy="161.25" r="1.75" fill="#777777"/>
<circle cx="277.05" cy="164.85" r="1.75" fill="#777777"/>
<circle cx="277.05" cy="168.45" r="1.75" fill="#777777"/>
<circle cx="278.15" cy="143.25" r="1.75" fill="#777777"/>
<circle cx="278.15" cy="146.85" r="1.75" fill="#777777"/>
<circle cx="278.15" cy="150.45" r="1.75" fill="#777777"/>
<circle cx="278.15" cy="154.05" r="1.75" fill="#777777"/>
<circle cx="278.15" cy="157.65" r="1.75" fill="#777777"/>
<circle cx="278.15" cy="161.25" r="1.75" fill="#777777"/>
<circle cx="278.15" cy="164.85" r="1.75" fill="#777777"/>
<circle cx="278.15" cy="168.45" r="1.75" fill="#777777"/>
<circle cx="283.25" cy="149.75" r="1.75" fill="#777777"/>
<circle cx="283.25" cy="152.95" r="1.75" fill="#777777"/>
<circle cx="283.25" cy="156.15" r="1.75" fill="#777777"/>
<circle cx="283.25" cy="159.35" r="1.75" fill="#777777"/>
<circle cx="283.25" cy="162.55" r="1.75" fill="#777777"/>
<circle cx="283.25" cy="165.75" r="1.75" fill="#777777"/>
<circle cx="283.25" cy="168.95" r="1.75" fill="#777777"/>
<circle cx="283.25" cy="172.15" r="1.75" fill="#777777"/>
<circle cx="286.4" cy="159.75" r="1.75" fill="#777777"/>
<circle cx="286.4" cy="162.85" r="1.75" fill="#777777"/>
<circle cx="286.4" cy="165.95" r="1.75" fill="#777777"/>
<circle cx="286.4" cy="169.05" r="1.75" fill="#777777"/>
<circle cx="286.4" cy="172.15" r="1.75" fill="#777777"/>
<circle cx="294.25" cy="153.75" r="1.75" fill="#777777"/>
<circle cx="294.25" cy="157.29" r="1.75" fill="#777777"/>
<circle cx="294.25" cy="160.84" r="1.75" fill="#777777"/>
<circle cx="294.25" cy="164.38" r="1.75" fill="#777777"/>
<circle cx="294.25" cy="167.92" r="1.75" fill="#777777"/>
<circle cx="294.25" cy="171.46" r="1.75" fill="#777777"/>
<circle cx="294.25" cy="175.01" r="1.75" fill="#777777"/>
<circle cx="294.25" cy="178.55" r="1.75" fill="#777777"/>
<circle cx="302.75" cy="157.35" r="1.75" fill="#777777"/>
<circle cx="302.75" cy="160.91" r="1.75" fill="#777777"/>
<circle cx="302.75" cy="164.46" r="1.75" fill="#777777"/>
<circle cx="302.75" cy="168.02" r="1.75" fill="#777777"/>
<circle cx="302.75" cy="171.58" r="1.75" fill="#777777"/>
<circle cx="302.75" cy="175.14" r="1.75" fill="#777777"/>
<circle cx="302.75" cy="178.69" r="1.75" fill="#777777"/>
<circle cx="302.75" cy="182.25" r="1.75" fill="#777777"/>
<circle cx="304.25" cy="157.35" r="1.75" fill="#777777"/>
<circle cx="304.25" cy="160.91" r="1.75" fill="#777777"/>
<circle cx="304.25" cy="164.46" r="1.75" fill="#777777"/>
<circle cx="304.25" cy="168.02" r="1.75" fill="#777777"/>
<circle cx="304.25" cy="171.58" r="1.75" fill="#777777"/>
<circle cx="304.25" cy="175.14" r="1.75" fill="#777777"/>
<circle cx="304.25" cy="178.69" r="1.75" fill="#777777"/>
<circle cx="304.25" cy="182.25" r="1.75" fill="#777777"/>
<circle cx="309.95" cy="153.75" r="1.75" fill="#777777"/>
<circle cx="309.95" cy="157.32" r="1.75" fill="#777777"/>
<circle cx="309.95" cy="160.88" r="1.75" fill="#777777"/>
<circle cx="309.95" cy="164.45" r="1.75" fill="#777777"/>
<circle cx="309.95" cy="168.02" r="1.75" fill="#777777"/>
<circle cx="309.95" cy="171.58" r="1.75" fill="#777777"/>
<circle cx="309.95" cy="175.15" r="1.75" fill="#777777"/>
<circle cx="309.95" cy="178.72" r="1.75" fill="#777777"/>
<circle cx="309.95" cy="182.28" r="1.75" fill="#777777"/>
<circle cx="309.95" cy="185.85" r="1.75" fill="#777777"/>
<circle cx="317.85" cy="171.05" r="1.75" fill="#777777"/>
<circle cx="317.85" cy="174.18" r="1.75" fill="#777777"/>
<circle cx="317.85" cy="177.32" r="1.75" fill="#777777"/>
<circle cx="317.85" cy="180.45" r="1.75" fill="#777777"/>
<circle cx="317.85" cy="183.58" r="1.75" fill="#777777"/>
<circle cx="317.85" cy="186.72" r="1.75" fill="#777777"/>
<circle cx="317.85" cy="189.85" r="1.75" fill="#777777"/>
<circle cx="325.95" cy="147.15" r="1.75" fill="#777777"/>
<circle cx="325.95" cy="150.51" r="1.75" fill="#777777"/>
<circle cx="325.95" cy="153.88" r="1.75" fill="#777777"/>
<circle cx="325.95" cy="157.24" r="1.75" fill="#777777"/>
<circle cx="325.95" cy="160.61" r="1.75" fill="#777777"/>
<circle cx="325.95" cy="163.97" r="1.75" fill="#777777"/>
<circle cx="325.95" cy="167.34" r="1.75" fill="#777777"/>
<circle cx="325.95" cy="170.7" r="1.75" fill="#777777"/>
<circle cx="325.95" cy="174.06" r="1.75" fill="#777777"/>
<circle cx="325.95" cy="177.43" r="1.75" fill="#777777"/>
<circle cx="325.95" cy="180.79" r="1.75" fill="#777777"/>
<circle cx="325.95" cy="184.16" r="1.75" fill="#777777"/>
<circle cx="325.95" cy="187.52" r="1.75" fill="#777777"/>
<circle cx="325.95" cy="190.89" r="1.75" fill="#777777"/>
<circle cx="325.95" cy="194.25" r="1.75" fill="#777777"/>
<circle cx="329.3" cy="144.75" r="1.75" fill="#777777"/>
<circle cx="329.3" cy="148.18" r="1.75" fill="#777777"/>
<circle cx="329.3" cy="151.61" r="1.75" fill="#777777"/>
<circle cx="329.3" cy="155.04" r="1.75" fill="#777777"/>
<circle cx="329.3" cy="158.47" r="1.75" fill="#777777"/>
<circle cx="329.3" cy="161.9" r="1.75" fill="#777777"/>
<circle cx="329.3" cy="165.33" r="1.75" fill="#777777"/>
<circle cx="329.3" cy="168.76" r="1.75" fill="#777777"/>
<circle cx="329.3" cy="172.19" r="1.75" fill="#777777"/>
<circle cx="329.3" cy="175.61" r="1.75" fill="#777777"/>
<circle cx="329.3" cy="179.04" r="1.75" fill="#777777"/>
<circle cx="329.3" cy="182.47" r="1.75" fill="#777777"/>
<circle cx="329.3" cy="185.9" r="1.75" fill="#777777"/>
<circle cx="329.3" cy="189.33" r="1.75" fill="#777777"/>
<circle cx="329.3" cy="192.76" r="1.75" fill="#777777"/>
<circle cx="329.3" cy="196.19" r="1.75" fill="#777777"/>
<circle cx="329.3" cy="199.62" r="1.75" fill="#777777"/>
<circle cx="329.3" cy="203.05" r="1.75" fill="#777777"/>
<circle cx="333.35" cy="163.75" r="1.75" fill="#777777"/>
<circle cx="333.35" cy="167.03" r="1.75" fill="#777777"/>
<circle cx="333.35" cy="170.3" r="1.75" fill="#777777"/>
<circle cx="333.35" cy="173.57" r="1.75" fill="#777777"/>
<circle cx="333.35" cy="176.85" r="1.75" fill="#777777"/>
<circle cx="333.35" cy="180.12" r="1.75" fill="#777777"/>
<circle cx="333.35" cy="183.4" r="1.75" fill="#777777"/>
<circle cx="333.35" cy="186.68" r="1.75" fill="#777777"/>
<circle cx="333.35" cy="189.95" r="1.75" fill="#777777"/>
<circle cx="333.35" cy="193.23" r="1.75" fill="#777777"/>
<circle cx="333.35" cy="196.5" r="1.75" fill="#777777"/>
<circle cx="333.35" cy="199.78" r="1.75" fill="#777777"/>
<circle cx="333.35" cy="203.05" r="1.75" fill="#777777"/>
<circle cx="338.95" cy="163.75" r="1.75" fill="#777777"/>
<circle cx="338.95" cy="167.03" r="1.75" fill="#777777"/>
<circle cx="338.95" cy="170.3" r="1.75" fill="#777777"/>
<circle cx="338.95" cy="173.57" r="1.75" fill="#777777"/>
<circle cx="338.95" cy="176.85" r="1.75" fill="#777777"/>
<circle cx="338.95" cy="180.12" r="1.75" fill="#777777"/>
<circle cx="338.95" cy="183.4" r="1.75" fill="#777777"/>
<circle cx="338.95" cy="186.68" r="1.75" fill="#777777"/>
<circle cx="338.95" cy="189.95" r="1.75" fill="#777777"/>
<circle cx="338.95" cy="193.23" r="1.75" fill="#777777"/>
<circle cx="338.95" cy="196.5" r="1.75" fill="#777777"/>
<circle cx="338.95" cy="199.78" r="1.75" fill="#777777"/>
<circle cx="338.95" cy="203.05" r="1.75" fill="#777777"/>
<circle cx="346.55" cy="184.55" r="1.75" fill="#777777"/>
<circle cx="346.55" cy="188" r="1.75" fill="#777777"/>
<circle cx="346.55" cy="191.45" r="1.75" fill="#777777"/>
<circle cx="346.55" cy="194.9" r="1.75" fill="#777777"/>
<circle cx="346.55" cy="198.35" r="1.75" fill="#777777"/>
<circle cx="346.55" cy="201.8" r="1.75" fill="#777777"/>
<circle cx="346.55" cy="205.25" r="1.75" fill="#777777"/>
<circle cx="351.3" cy="177.95" r="1.75" fill="#777777"/>
<circle cx="351.3" cy="181.47" r="1.75" fill="#777777"/>
<circle cx="351.3" cy="184.99" r="1.75" fill="#777777"/>
<circle cx="351.3" cy="188.52" r="1.75" fill="#777777"/>
<circle cx="351.3" cy="192.04" r="1.75" fill="#777777"/>
<circle cx="351.3" cy="195.56" r="1.75" fill="#777777"/>
<circle cx="351.3" cy="199.08" r="1.75" fill="#777777"/>
<circle cx="351.3" cy="202.61" r="1.75" fill="#777777"/>
<circle cx="351.3" cy="206.13" r="1.75" fill="#777777"/>
<circle cx="351.3" cy="209.65" r="1.75" fill="#777777"/>
<circle cx="354.65" cy="180.15" r="1.75" fill="#777777"/>
<circle cx="354.65" cy="183.43" r="1.75" fill="#777777"/>
<circle cx="354.65" cy="186.71" r="1.75" fill="#777777"/>
<circle cx="354.65" cy="189.99" r="1.75" fill="#777777"/>
<circle cx="354.65" cy="193.27" r="1.75" fill="#777777"/>
<circle cx="354.65" cy="196.55" r="1.75" fill="#777777"/>
<circle cx="354.65" cy="199.83" r="1.75" fill="#777777"/>
<circle cx="354.65" cy="203.11" r="1.75" fill="#777777"/>
<circle cx="354.65" cy="206.39" r="1.75" fill="#777777"/>
<circle cx="354.65" cy="209.67" r="1.75" fill="#777777"/>
<circle cx="354.65" cy="212.95" r="1.75" fill="#777777"/>
<circle cx="357.9" cy="174.65" r="1.75" fill="#777777"/>
<circle cx="357.9" cy="178.12" r="1.75" fill="#777777"/>
<circle cx="357.9" cy="181.58" r="1.75" fill="#777777"/>
<circle cx="357.9" cy="185.05" r="1.75" fill="#777777"/>
<circle cx="357.9" cy="188.52" r="1.75" fill="#777777"/>
<circle cx="357.9" cy="191.98" r="1.75" fill="#777777"/>
<circle cx="357.9" cy="195.45" r="1.75" fill="#777777"/>
<circle cx="357.9" cy="198.92" r="1.75" fill="#777777"/>
<circle cx="357.9" cy="202.38" r="1.75" fill="#777777"/>
<circle cx="357.9" cy="205.85" r="1.75" fill="#777777"/>
<circle cx="357.9" cy="209.32" r="1.75" fill="#777777"/>
<circle cx="357.9" cy="212.78" r="1.75" fill="#777777"/>
<circle cx="357.9" cy="216.25" r="1.75" fill="#777777"/>
<circle cx="257.35" cy="125.65" r="1.85" fill="#ebbd52"/>
<circle cx="257.35" cy="122.26" r="1.85" fill="#ebbd52"/>
<circle cx="257.35" cy="118.87" r="1.85" fill="#ebbd52"/>
<circle cx="257.35" cy="115.48" r="1.85" fill="#ebbd52"/>
<circle cx="257.35" cy="112.09" r="1.85" fill="#ebbd52"/>
<circle cx="257.35" cy="108.7" r="1.85" fill="#9b3222"/>
<circle cx="257.35" cy="105.31" r="1.85" fill="#9b3222"/>
<circle cx="257.35" cy="101.92" r="1.85" fill="#9b3222"/>
<circle cx="257.35" cy="98.53" r="1.85" fill="#5e140c"/>
<circle cx="257.35" cy="95.14" r="1.85" fill="#5e140c"/>
<circle cx="257.35" cy="91.75" r="1.85" fill="#5e140c"/>
<circle cx="257.35" cy="88.36" r="1.85" fill="#5e140c"/>
<circle cx="257.35" cy="84.97" r="1.85" fill="#5e140c"/>
<circle cx="257.35" cy="81.58" r="1.85" fill="#5e140c"/>
<circle cx="257.35" cy="78.19" r="1.85" fill="#5e140c"/>
<circle cx="257.35" cy="74.8" r="1.85" fill="#5e140c"/>
<circle cx="257.35" cy="71.41" r="1.85" fill="#5e140c"/>
<circle cx="260.1" cy="125.65" r="1.85" fill="#ebbd52"/>
<circle cx="260.1" cy="122.26" r="1.85" fill="#ebbd52"/>
<circle cx="260.1" cy="118.87" r="1.85" fill="#ebbd52"/>
<circle cx="260.1" cy="115.48" r="1.85" fill="#ebbd52"/>
<circle cx="260.1" cy="112.09" r="1.85" fill="#ebbd52"/>
<circle cx="260.1" cy="108.7" r="1.85" fill="#9b3222"/>
<circle cx="260.1" cy="105.31" r="1.85" fill="#9b3222"/>
<circle cx="260.1" cy="101.92" r="1.85" fill="#9b3222"/>
<circle cx="260.1" cy="98.53" r="1.85" fill="#5e140c"/>
<circle cx="260.1" cy="95.14" r="1.85" fill="#5e140c"/>
<circle cx="260.1" cy="91.75" r="1.85" fill="#5e140c"/>
<circle cx="260.1" cy="88.36" r="1.85" fill="#5e140c"/>
<circle cx="260.1" cy="84.97" r="1.85" fill="#5e140c"/>
<circle cx="260.1" cy="81.58" r="1.85" fill="#5e140c"/>
<circle cx="260.1" cy="78.19" r="1.85" fill="#5e140c"/>
<circle cx="262.85" cy="125.65" r="1.85" fill="#ebbd52"/>
<circle cx="262.85" cy="122.26" r="1.85" fill="#ebbd52"/>
<circle cx="262.85" cy="118.87" r="1.85" fill="#ebbd52"/>
<circle cx="262.85" cy="115.48" r="1.85" fill="#ebbd52"/>
<circle cx="262.85" cy="112.09" r="1.85" fill="#ebbd52"/>
<circle cx="262.85" cy="108.7" r="1.85" fill="#9b3222"/>
<circle cx="262.85" cy="105.31" r="1.85" fill="#9b3222"/>
<circle cx="262.85" cy="101.92" r="1.85" fill="#9b3222"/>
<circle cx="262.85" cy="98.53" r="1.85" fill="#5e140c"/>
<circle cx="262.85" cy="95.14" r="1.85" fill="#5e140c"/>
<circle cx="262.85" cy="91.75" r="1.85" fill="#5e140c"/>
<circle cx="262.85" cy="88.36" r="1.85" fill="#5e140c"/>
<circle cx="262.85" cy="84.97" r="1.85" fill="#5e140c"/>
<circle cx="265.6" cy="125.65" r="1.85" fill="#ebbd52"/>
<circle cx="265.6" cy="122.26" r="1.85" fill="#ebbd52"/>
<circle cx="265.6" cy="118.87" r="1.85" fill="#ebbd52"/>
<circle cx="265.6" cy="115.48" r="1.85" fill="#ebbd52"/>
<circle cx="265.6" cy="112.09" r="1.85" fill="#ebbd52"/>
<circle cx="265.6" cy="108.7" r="1.85" fill="#9b3222"/>
<circle cx="265.6" cy="105.31" r="1.85" fill="#9b3222"/>
<circle cx="265.6" cy="101.92" r="1.85" fill="#9b3222"/>
<circle cx="265.6" cy="98.53" r="1.85" fill="#5e140c"/>
<circle cx="265.6" cy="95.14" r="1.85" fill="#5e140c"/>
<circle cx="265.6" cy="91.75" r="1.85" fill="#5e140c"/>
<circle cx="268.35" cy="125.65" r="1.85" fill="#ebbd52"/>
<circle cx="268.35" cy="122.26" r="1.85" fill="#ebbd52"/>
<circle cx="268.35" cy="118.87" r="1.85" fill="#ebbd52"/>
<circle cx="268.35" cy="115.48" r="1.85" fill="#ebbd52"/>
<circle cx="268.35" cy="112.09" r="1.85" fill="#ebbd52"/>
<circle cx="268.35" cy="108.7" r="1.85" fill="#9b3222"/>
<circle cx="268.35" cy="105.31" r="1.85" fill="#9b3222"/>
<circle cx="268.35" cy="101.92" r="1.85" fill="#9b3222"/>
<circle cx="268.35" cy="98.53" r="1.85" fill="#5e140c"/>
<circle cx="268.35" cy="95.14" r="1.85" fill="#5e140c"/>
<circle cx="272.05" cy="128.65" r="1.85" fill="#e67a32"/>
<circle cx="272.05" cy="125.26" r="1.85" fill="#f0aa62"/>
<circle cx="272.05" cy="121.87" r="1.85" fill="#ebbd52"/>
<circle cx="272.05" cy="118.48" r="1.85" fill="#ebbd52"/>
<circle cx="272.05" cy="115.09" r="1.85" fill="#ebbd52"/>
<circle cx="272.05" cy="111.7" r="1.85" fill="#ebbd52"/>
<circle cx="274.82" cy="128.65" r="1.85" fill="#e67a32"/>
<circle cx="274.82" cy="125.26" r="1.85" fill="#f0aa62"/>
<circle cx="274.82" cy="121.87" r="1.85" fill="#ebbd52"/>
<circle cx="274.82" cy="118.48" r="1.85" fill="#ebbd52"/>
<circle cx="274.82" cy="115.09" r="1.85" fill="#ebbd52"/>
<circle cx="274.82" cy="111.7" r="1.85" fill="#ebbd52"/>
<circle cx="277.6" cy="128.65" r="1.85" fill="#e67a32"/>
<circle cx="277.6" cy="125.26" r="1.85" fill="#f0aa62"/>
<circle cx="277.6" cy="121.87" r="1.85" fill="#ebbd52"/>
<circle cx="277.6" cy="118.48" r="1.85" fill="#ebbd52"/>
<circle cx="277.6" cy="115.09" r="1.85" fill="#ebbd52"/>
<circle cx="277.6" cy="111.7" r="1.85" fill="#ebbd52"/>
<circle cx="280.38" cy="128.65" r="1.85" fill="#e67a32"/>
<circle cx="280.38" cy="125.26" r="1.85" fill="#f0aa62"/>
<circle cx="280.38" cy="121.87" r="1.85" fill="#ebbd52"/>
<circle cx="280.38" cy="118.48" r="1.85" fill="#ebbd52"/>
<circle cx="283.15" cy="128.65" r="1.85" fill="#e67a32"/>
<circle cx="283.15" cy="125.26" r="1.85" fill="#f0aa62"/>
<circle cx="283.15" cy="121.87" r="1.85" fill="#ebbd52"/>
<circle cx="283.15" cy="118.48" r="1.85" fill="#ebbd52"/>
<circle cx="280.85" cy="135.65" r="1.85" fill="#e67a32"/>
<circle cx="280.85" cy="132.26" r="1.85" fill="#f0aa62"/>
<circle cx="283.75" cy="135.65" r="1.85" fill="#e67a32"/>
<circle cx="283.75" cy="132.26" r="1.85" fill="#f0aa62"/>
<circle cx="286.65" cy="135.65" r="1.85" fill="#e67a32"/>
<circle cx="286.65" cy="132.26" r="1.85" fill="#f0aa62"/>
<circle cx="272.9" cy="112.6" r="1.85" fill="#9b3222"/>
<circle cx="291.8" cy="133" r="1.85" fill="#f0aa62"/>
<circle cx="285.5" cy="140.6" r="1.85" fill="#e67a32"/>
<circle cx="258.8" cy="119.5" r="1.85" fill="#92c6e0"/>
<circle cx="265.2" cy="119.5" r="1.85" fill="#92c6e0"/>
<circle cx="258.8" cy="122.3" r="1.85" fill="#3b98c2"/>
<circle cx="265.2" cy="122.3" r="1.85" fill="#3b98c2"/>
<circle cx="258.8" cy="126" r="1.85" fill="#175c7c"/>
<circle cx="265.2" cy="126" r="1.85" fill="#175c7c"/>
<circle cx="272.5" cy="126" r="1.85" fill="#175c7c"/>
<circle cx="272.5" cy="129.6" r="1.85" fill="#175c7c"/>
<circle cx="333" cy="108.9" r="1.75" fill="#5e140c"/>
<circle cx="333" cy="112.5" r="1.75" fill="#5e140c"/>
<circle cx="333" cy="116" r="1.75" fill="#5e140c"/>
<circle cx="337.8" cy="116" r="1.75" fill="#5e140c"/>
<circle cx="337.8" cy="119.1" r="1.75" fill="#9b3222"/>
<circle cx="335.4" cy="122.6" r="1.75" fill="#9b3222"/>
<circle cx="337.8" cy="122.6" r="1.75" fill="#9b3222"/>
<circle cx="335.4" cy="126" r="1.75" fill="#9b3222"/>
<circle cx="335.4" cy="129.3" r="1.75" fill="#ebbd52"/>
<circle cx="337.8" cy="129.3" r="1.75" fill="#ebbd52"/>
<circle cx="337.8" cy="132.9" r="1.75" fill="#ebbd52"/>
<circle cx="333" cy="136.2" r="1.75" fill="#ebbd52"/>
<circle cx="335.4" cy="136.2" r="1.75" fill="#ebbd52"/>
<circle cx="333" cy="139.7" r="1.75" fill="#f0aa62"/>
<circle cx="335.4" cy="139.7" r="1.75" fill="#f0aa62"/>
<circle cx="358.5" cy="139.5" r="1.75" fill="#f0aa62"/>
<circle cx="333" cy="143.1" r="1.75" fill="#e67a32"/>
<circle cx="335.4" cy="143.1" r="1.75" fill="#e67a32"/>
<circle cx="337.8" cy="143.1" r="1.75" fill="#e67a32"/>
<circle cx="352.6" cy="143.1" r="1.75" fill="#e67a32"/>
<circle cx="358.5" cy="143.1" r="1.75" fill="#e67a32"/>
<circle cx="361" cy="143.1" r="1.75" fill="#e67a32"/>
<circle cx="364" cy="143.1" r="1.75" fill="#e67a32"/>
<circle cx="344.2" cy="149.5" r="1.75" fill="#e67a32"/>
<circle cx="314.4" cy="149.8" r="1.75" fill="#e67a32"/>
<circle cx="329.7" cy="143.1" r="1.75" fill="#175c7c"/>
<line x1="252.5" y1="63.5" x2="252.5" y2="250.3" stroke="#bdbdbd" stroke-width="1"/>
<line x1="252" y1="250.3" x2="372.3" y2="250.3" stroke="#7a7a7a" stroke-width="1"/>
<line x1="249.9" y1="245" x2="252.5" y2="245" stroke="#bdbdbd" stroke-width="1"/>
<text x="247.5" y="245" font-size="7.8" text-anchor="end" fill="#1a1a1a" font-weight="normal" dominant-baseline="central">0</text>
<line x1="249.9" y1="211" x2="252.5" y2="211" stroke="#bdbdbd" stroke-width="1"/>
<text x="247.5" y="211" font-size="7.8" text-anchor="end" fill="#1a1a1a" font-weight="normal" dominant-baseline="central">10</text>
<line x1="249.9" y1="177.2" x2="252.5" y2="177.2" stroke="#bdbdbd" stroke-width="1"/>
<text x="247.5" y="177.2" font-size="7.8" text-anchor="end" fill="#1a1a1a" font-weight="normal" dominant-baseline="central">20</text>
<line x1="249.9" y1="143.3" x2="252.5" y2="143.3" stroke="#bdbdbd" stroke-width="1"/>
<text x="247.5" y="143.3" font-size="7.8" text-anchor="end" fill="#1a1a1a" font-weight="normal" dominant-baseline="central">30</text>
<line x1="249.9" y1="109.5" x2="252.5" y2="109.5" stroke="#bdbdbd" stroke-width="1"/>
<text x="247.5" y="109.5" font-size="7.8" text-anchor="end" fill="#1a1a1a" font-weight="normal" dominant-baseline="central">40</text>
<line x1="249.9" y1="75.6" x2="252.5" y2="75.6" stroke="#bdbdbd" stroke-width="1"/>
<text x="247.5" y="75.6" font-size="7.8" text-anchor="end" fill="#1a1a1a" font-weight="normal" dominant-baseline="central">50</text>
<line x1="280.2" y1="250.3" x2="280.2" y2="252.9" stroke="#7a7a7a" stroke-width="1"/>
<text x="280.2" y="259.5" font-size="7.8" text-anchor="middle" fill="#1a1a1a" font-weight="normal" dominant-baseline="central">1,000</text>
<line x1="310.4" y1="250.3" x2="310.4" y2="252.9" stroke="#7a7a7a" stroke-width="1"/>
<text x="310.4" y="259.5" font-size="7.8" text-anchor="middle" fill="#1a1a1a" font-weight="normal" dominant-baseline="central">2,000</text>
<line x1="340.5" y1="250.3" x2="340.5" y2="252.9" stroke="#7a7a7a" stroke-width="1"/>
<text x="340.5" y="259.5" font-size="7.8" text-anchor="middle" fill="#1a1a1a" font-weight="normal" dominant-baseline="central">3,000</text>
<line x1="370.6" y1="250.3" x2="370.6" y2="252.9" stroke="#7a7a7a" stroke-width="1"/>
<text x="370.6" y="259.5" font-size="7.8" text-anchor="middle" fill="#1a1a1a" font-weight="normal" dominant-baseline="central">4,000</text>
<text x="230.8" y="156.8" font-size="7.8" text-anchor="middle" fill="#1a1a1a" font-weight="normal" dominant-baseline="central" transform="rotate(-90 230.8 156.8)">Temperature (°C)</text>
<text x="336.9" y="270.8" font-size="7.8" text-anchor="middle" fill="#1a1a1a" font-weight="normal" dominant-baseline="central">Elevation (masl)</text>
<text x="237.4" y="52.4" font-size="10.5" text-anchor="start" fill="#1a1a1a" font-weight="bold" dominant-baseline="central">c</text>
<line x1="252.5" y1="100.5" x2="370.5" y2="100.5" stroke="#ee1a22" stroke-width="1.45" stroke-dasharray="3.85 3.3"/>
<polygon points="280.8,242 280.8,181.9 283.9,212 286.6,217.6 288.5,240.5 291.2,241.4 319.6,240.5 320.5,238 321.5,242 321.5,242" fill="rgba(190,70,70,0.55)" stroke="none" stroke-width="0"/>
<polygon points="280.8,242 280.8,206.6 282.6,226.8 284.2,212 285.7,236 287.5,221.3 288.8,241.4 308.2,241.4 309.5,233.2 310.4,241.4 321.5,241.4 321.5,242" fill="rgba(80,130,200,0.45)" stroke="none" stroke-width="0"/>
<polyline points="280.8,181.9 283.9,212 286.6,217.6 288.5,240.5 291.2,241.4 319.6,240.5 320.5,238 321.5,242" fill="none" stroke="#b32f32" stroke-width="1" stroke-linejoin="round"/>
<polyline points="280.8,206.6 282.6,226.8 284.2,212 285.7,236 287.5,221.3 288.8,241.4 308.2,241.4 309.5,233.2 310.4,241.4 321.5,241.4" fill="none" stroke="#4a86c4" stroke-width="1" stroke-linejoin="round"/>
<line x1="279.7" y1="179.2" x2="279.7" y2="245" stroke="#a8a8a8" stroke-width="0.9"/>
<line x1="279.25" y1="245" x2="322.9" y2="245" stroke="#858585" stroke-width="0.9"/>
<line x1="277.5" y1="194.4" x2="279.7" y2="194.4" stroke="#a8a8a8" stroke-width="0.9"/>
<text x="275.5" y="194.4" font-size="7.2" text-anchor="end" fill="#1a1a1a" font-weight="normal" dominant-baseline="central">20</text>
<line x1="277.5" y1="218.5" x2="279.7" y2="218.5" stroke="#a8a8a8" stroke-width="0.9"/>
<text x="275.5" y="218.5" font-size="7.2" text-anchor="end" fill="#1a1a1a" font-weight="normal" dominant-baseline="central">10</text>
<line x1="277.5" y1="242" x2="279.7" y2="242" stroke="#a8a8a8" stroke-width="0.9"/>
<text x="275.5" y="242" font-size="7.2" text-anchor="end" fill="#1a1a1a" font-weight="normal" dominant-baseline="central">0</text>
<line x1="290.3" y1="245" x2="290.3" y2="247.2" stroke="#858585" stroke-width="0.9"/>
<line x1="302.2" y1="245" x2="302.2" y2="247.2" stroke="#858585" stroke-width="0.9"/>
<line x1="314.1" y1="245" x2="314.1" y2="247.2" stroke="#858585" stroke-width="0.9"/>
<text x="258.2" y="212" font-size="7.5" text-anchor="middle" fill="#1a1a1a" font-weight="normal" dominant-baseline="central" transform="rotate(-90 258.2 212)">Critical temp. (%)</text>
<polygon points="401.5,142 424,143 426,149.4 446.4,150 454,153.8 470,153 490,156 514.7,157 514.9,242.9 498.6,242.9 486.7,235.7 473.3,225.7 461.5,216.9 449.8,211 439.6,203.7 430.8,195.6 419,178.8 415.6,170 413,165 407.5,161 406.7,153 401.5,151.3" fill="#d3d3d3" stroke="none" stroke-width="0"/>
<circle cx="403.75" cy="144.05" r="1.75" fill="#777777"/>
<circle cx="403.75" cy="146.8" r="1.75" fill="#777777"/>
<circle cx="403.75" cy="149.55" r="1.75" fill="#777777"/>
<circle cx="404.95" cy="144.05" r="1.75" fill="#777777"/>
<circle cx="404.95" cy="146.8" r="1.75" fill="#777777"/>
<circle cx="404.95" cy="149.55" r="1.75" fill="#777777"/>
<circle cx="409.75" cy="142.75" r="1.75" fill="#777777"/>
<circle cx="409.75" cy="145.85" r="1.75" fill="#777777"/>
<circle cx="409.75" cy="148.95" r="1.75" fill="#777777"/>
<circle cx="409.75" cy="152.05" r="1.75" fill="#777777"/>
<circle cx="409.75" cy="155.15" r="1.75" fill="#777777"/>
<circle cx="409.75" cy="158.25" r="1.75" fill="#777777"/>
<circle cx="411.25" cy="142.75" r="1.75" fill="#777777"/>
<circle cx="411.25" cy="145.85" r="1.75" fill="#777777"/>
<circle cx="411.25" cy="148.95" r="1.75" fill="#777777"/>
<circle cx="411.25" cy="152.05" r="1.75" fill="#777777"/>
<circle cx="411.25" cy="155.15" r="1.75" fill="#777777"/>
<circle cx="411.25" cy="158.25" r="1.75" fill="#777777"/>
<circle cx="417.9" cy="145.35" r="1.75" fill="#777777"/>
<circle cx="417.9" cy="148.88" r="1.75" fill="#777777"/>
<circle cx="417.9" cy="152.42" r="1.75" fill="#777777"/>
<circle cx="417.9" cy="155.95" r="1.75" fill="#777777"/>
<circle cx="423.35" cy="145.35" r="1.75" fill="#777777"/>
<circle cx="423.35" cy="148.69" r="1.75" fill="#777777"/>
<circle cx="423.35" cy="152.03" r="1.75" fill="#777777"/>
<circle cx="423.35" cy="155.36" r="1.75" fill="#777777"/>
<circle cx="423.35" cy="158.7" r="1.75" fill="#777777"/>
<circle cx="423.35" cy="162.04" r="1.75" fill="#777777"/>
<circle cx="423.35" cy="165.38" r="1.75" fill="#777777"/>
<circle cx="423.35" cy="168.71" r="1.75" fill="#777777"/>
<circle cx="423.35" cy="172.05" r="1.75" fill="#777777"/>
<circle cx="428.1" cy="151.15" r="1.75" fill="#777777"/>
<circle cx="428.1" cy="154.59" r="1.75" fill="#777777"/>
<circle cx="428.1" cy="158.04" r="1.75" fill="#777777"/>
<circle cx="428.1" cy="161.48" r="1.75" fill="#777777"/>
<circle cx="428.1" cy="164.92" r="1.75" fill="#777777"/>
<circle cx="428.1" cy="168.36" r="1.75" fill="#777777"/>
<circle cx="428.1" cy="171.81" r="1.75" fill="#777777"/>
<circle cx="428.1" cy="175.25" r="1.75" fill="#777777"/>
<circle cx="432.6" cy="159.45" r="1.75" fill="#777777"/>
<circle cx="432.6" cy="162.67" r="1.75" fill="#777777"/>
<circle cx="432.6" cy="165.89" r="1.75" fill="#777777"/>
<circle cx="432.6" cy="169.11" r="1.75" fill="#777777"/>
<circle cx="432.6" cy="172.33" r="1.75" fill="#777777"/>
<circle cx="432.6" cy="175.55" r="1.75" fill="#777777"/>
<circle cx="440.7" cy="156.75" r="1.75" fill="#777777"/>
<circle cx="440.7" cy="160.25" r="1.75" fill="#777777"/>
<circle cx="440.7" cy="163.75" r="1.75" fill="#777777"/>
<circle cx="440.7" cy="167.25" r="1.75" fill="#777777"/>
<circle cx="440.7" cy="170.75" r="1.75" fill="#777777"/>
<circle cx="440.7" cy="174.25" r="1.75" fill="#777777"/>
<circle cx="440.7" cy="177.75" r="1.75" fill="#777777"/>
<circle cx="448.15" cy="157.75" r="1.75" fill="#777777"/>
<circle cx="448.15" cy="161.06" r="1.75" fill="#777777"/>
<circle cx="448.15" cy="164.38" r="1.75" fill="#777777"/>
<circle cx="448.15" cy="167.69" r="1.75" fill="#777777"/>
<circle cx="448.15" cy="171" r="1.75" fill="#777777"/>
<circle cx="448.15" cy="174.31" r="1.75" fill="#777777"/>
<circle cx="448.15" cy="177.62" r="1.75" fill="#777777"/>
<circle cx="448.15" cy="180.94" r="1.75" fill="#777777"/>
<circle cx="448.15" cy="184.25" r="1.75" fill="#777777"/>
<circle cx="449.75" cy="157.75" r="1.75" fill="#777777"/>
<circle cx="449.75" cy="161.06" r="1.75" fill="#777777"/>
<circle cx="449.75" cy="164.38" r="1.75" fill="#777777"/>
<circle cx="449.75" cy="167.69" r="1.75" fill="#777777"/>
<circle cx="449.75" cy="171" r="1.75" fill="#777777"/>
<circle cx="449.75" cy="174.31" r="1.75" fill="#777777"/>
<circle cx="449.75" cy="177.62" r="1.75" fill="#777777"/>
<circle cx="449.75" cy="180.94" r="1.75" fill="#777777"/>
<circle cx="449.75" cy="184.25" r="1.75" fill="#777777"/>
<circle cx="456.35" cy="157.75" r="1.75" fill="#777777"/>
<circle cx="456.35" cy="161.06" r="1.75" fill="#777777"/>
<circle cx="456.35" cy="164.38" r="1.75" fill="#777777"/>
<circle cx="456.35" cy="167.69" r="1.75" fill="#777777"/>
<circle cx="456.35" cy="171" r="1.75" fill="#777777"/>
<circle cx="456.35" cy="174.31" r="1.75" fill="#777777"/>
<circle cx="456.35" cy="177.62" r="1.75" fill="#777777"/>
<circle cx="456.35" cy="180.94" r="1.75" fill="#777777"/>
<circle cx="456.35" cy="184.25" r="1.75" fill="#777777"/>
<circle cx="463.85" cy="169.15" r="1.75" fill="#777777"/>
<circle cx="463.85" cy="172.26" r="1.75" fill="#777777"/>
<circle cx="463.85" cy="175.38" r="1.75" fill="#777777"/>
<circle cx="463.85" cy="178.49" r="1.75" fill="#777777"/>
<circle cx="463.85" cy="181.61" r="1.75" fill="#777777"/>
<circle cx="463.85" cy="184.72" r="1.75" fill="#777777"/>
<circle cx="463.85" cy="187.84" r="1.75" fill="#777777"/>
<circle cx="463.85" cy="190.95" r="1.75" fill="#777777"/>
<circle cx="472.55" cy="154.45" r="1.75" fill="#777777"/>
<circle cx="472.55" cy="157.61" r="1.75" fill="#777777"/>
<circle cx="472.55" cy="160.77" r="1.75" fill="#777777"/>
<circle cx="472.55" cy="163.93" r="1.75" fill="#777777"/>
<circle cx="472.55" cy="167.09" r="1.75" fill="#777777"/>
<circle cx="472.55" cy="170.25" r="1.75" fill="#777777"/>
<circle cx="472.55" cy="173.41" r="1.75" fill="#777777"/>
<circle cx="472.55" cy="176.57" r="1.75" fill="#777777"/>
<circle cx="472.55" cy="179.73" r="1.75" fill="#777777"/>
<circle cx="472.55" cy="182.89" r="1.75" fill="#777777"/>
<circle cx="472.55" cy="186.05" r="1.75" fill="#777777"/>
<circle cx="472.55" cy="189.21" r="1.75" fill="#777777"/>
<circle cx="472.55" cy="192.37" r="1.75" fill="#777777"/>
<circle cx="472.55" cy="195.53" r="1.75" fill="#777777"/>
<circle cx="472.55" cy="198.69" r="1.75" fill="#777777"/>
<circle cx="472.55" cy="201.85" r="1.75" fill="#777777"/>
<circle cx="475.65" cy="154.45" r="1.75" fill="#777777"/>
<circle cx="475.65" cy="157.61" r="1.75" fill="#777777"/>
<circle cx="475.65" cy="160.77" r="1.75" fill="#777777"/>
<circle cx="475.65" cy="163.93" r="1.75" fill="#777777"/>
<circle cx="475.65" cy="167.09" r="1.75" fill="#777777"/>
<circle cx="475.65" cy="170.25" r="1.75" fill="#777777"/>
<circle cx="475.65" cy="173.41" r="1.75" fill="#777777"/>
<circle cx="475.65" cy="176.57" r="1.75" fill="#777777"/>
<circle cx="475.65" cy="179.73" r="1.75" fill="#777777"/>
<circle cx="475.65" cy="182.89" r="1.75" fill="#777777"/>
<circle cx="475.65" cy="186.05" r="1.75" fill="#777777"/>
<circle cx="475.65" cy="189.21" r="1.75" fill="#777777"/>
<circle cx="475.65" cy="192.37" r="1.75" fill="#777777"/>
<circle cx="475.65" cy="195.53" r="1.75" fill="#777777"/>
<circle cx="475.65" cy="198.69" r="1.75" fill="#777777"/>
<circle cx="475.65" cy="201.85" r="1.75" fill="#777777"/>
<circle cx="478.75" cy="163.25" r="1.75" fill="#777777"/>
<circle cx="478.75" cy="166.61" r="1.75" fill="#777777"/>
<circle cx="478.75" cy="169.98" r="1.75" fill="#777777"/>
<circle cx="478.75" cy="173.34" r="1.75" fill="#777777"/>
<circle cx="478.75" cy="176.7" r="1.75" fill="#777777"/>
<circle cx="478.75" cy="180.07" r="1.75" fill="#777777"/>
<circle cx="478.75" cy="183.43" r="1.75" fill="#777777"/>
<circle cx="478.75" cy="186.8" r="1.75" fill="#777777"/>
<circle cx="478.75" cy="190.16" r="1.75" fill="#777777"/>
<circle cx="478.75" cy="193.52" r="1.75" fill="#777777"/>
<circle cx="478.75" cy="196.89" r="1.75" fill="#777777"/>
<circle cx="478.75" cy="200.25" r="1.75" fill="#777777"/>
<circle cx="484.6" cy="171.75" r="1.75" fill="#777777"/>
<circle cx="484.6" cy="175.1" r="1.75" fill="#777777"/>
<circle cx="484.6" cy="178.45" r="1.75" fill="#777777"/>
<circle cx="484.6" cy="181.8" r="1.75" fill="#777777"/>
<circle cx="484.6" cy="185.15" r="1.75" fill="#777777"/>
<circle cx="484.6" cy="188.5" r="1.75" fill="#777777"/>
<circle cx="484.6" cy="191.85" r="1.75" fill="#777777"/>
<circle cx="484.6" cy="195.2" r="1.75" fill="#777777"/>
<circle cx="484.6" cy="198.55" r="1.75" fill="#777777"/>
<circle cx="484.6" cy="201.9" r="1.75" fill="#777777"/>
<circle cx="484.6" cy="205.25" r="1.75" fill="#777777"/>
<circle cx="493.2" cy="185.05" r="1.75" fill="#777777"/>
<circle cx="493.2" cy="188.33" r="1.75" fill="#777777"/>
<circle cx="493.2" cy="191.6" r="1.75" fill="#777777"/>
<circle cx="493.2" cy="194.88" r="1.75" fill="#777777"/>
<circle cx="493.2" cy="198.15" r="1.75" fill="#777777"/>
<circle cx="493.2" cy="201.43" r="1.75" fill="#777777"/>
<circle cx="493.2" cy="204.7" r="1.75" fill="#777777"/>
<circle cx="493.2" cy="207.97" r="1.75" fill="#777777"/>
<circle cx="493.2" cy="211.25" r="1.75" fill="#777777"/>
<circle cx="498.15" cy="177.25" r="1.75" fill="#777777"/>
<circle cx="498.15" cy="180.39" r="1.75" fill="#777777"/>
<circle cx="498.15" cy="183.53" r="1.75" fill="#777777"/>
<circle cx="498.15" cy="186.68" r="1.75" fill="#777777"/>
<circle cx="498.15" cy="189.82" r="1.75" fill="#777777"/>
<circle cx="498.15" cy="192.96" r="1.75" fill="#777777"/>
<circle cx="498.15" cy="196.1" r="1.75" fill="#777777"/>
<circle cx="498.15" cy="199.24" r="1.75" fill="#777777"/>
<circle cx="498.15" cy="202.38" r="1.75" fill="#777777"/>
<circle cx="498.15" cy="205.52" r="1.75" fill="#777777"/>
<circle cx="498.15" cy="208.67" r="1.75" fill="#777777"/>
<circle cx="498.15" cy="211.81" r="1.75" fill="#777777"/>
<circle cx="498.15" cy="214.95" r="1.75" fill="#777777"/>
<circle cx="500.8" cy="177.25" r="1.75" fill="#777777"/>
<circle cx="500.8" cy="180.39" r="1.75" fill="#777777"/>
<circle cx="500.8" cy="183.53" r="1.75" fill="#777777"/>
<circle cx="500.8" cy="186.68" r="1.75" fill="#777777"/>
<circle cx="500.8" cy="189.82" r="1.75" fill="#777777"/>
<circle cx="500.8" cy="192.96" r="1.75" fill="#777777"/>
<circle cx="500.8" cy="196.1" r="1.75" fill="#777777"/>
<circle cx="500.8" cy="199.24" r="1.75" fill="#777777"/>
<circle cx="500.8" cy="202.38" r="1.75" fill="#777777"/>
<circle cx="500.8" cy="205.52" r="1.75" fill="#777777"/>
<circle cx="500.8" cy="208.67" r="1.75" fill="#777777"/>
<circle cx="500.8" cy="211.81" r="1.75" fill="#777777"/>
<circle cx="500.8" cy="214.95" r="1.75" fill="#777777"/>
<circle cx="503.45" cy="177.25" r="1.75" fill="#777777"/>
<circle cx="503.45" cy="180.39" r="1.75" fill="#777777"/>
<circle cx="503.45" cy="183.53" r="1.75" fill="#777777"/>
<circle cx="503.45" cy="186.68" r="1.75" fill="#777777"/>
<circle cx="503.45" cy="189.82" r="1.75" fill="#777777"/>
<circle cx="503.45" cy="192.96" r="1.75" fill="#777777"/>
<circle cx="503.45" cy="196.1" r="1.75" fill="#777777"/>
<circle cx="503.45" cy="199.24" r="1.75" fill="#777777"/>
<circle cx="503.45" cy="202.38" r="1.75" fill="#777777"/>
<circle cx="503.45" cy="205.52" r="1.75" fill="#777777"/>
<circle cx="503.45" cy="208.67" r="1.75" fill="#777777"/>
<circle cx="503.45" cy="211.81" r="1.75" fill="#777777"/>
<circle cx="503.45" cy="214.95" r="1.75" fill="#777777"/>
<circle cx="403.2" cy="140.5" r="2" fill="#ebbd52"/>
<circle cx="403.2" cy="137.24" r="2" fill="#ebbd52"/>
<circle cx="403.2" cy="133.98" r="2" fill="#ebbd52"/>
<circle cx="403.2" cy="130.72" r="2" fill="#ebbd52"/>
<circle cx="403.2" cy="127.46" r="2" fill="#ebbd52"/>
<circle cx="403.2" cy="124.2" r="2" fill="#9b3222"/>
<circle cx="403.2" cy="120.94" r="2" fill="#9b3222"/>
<circle cx="403.2" cy="117.68" r="2" fill="#9b3222"/>
<circle cx="403.2" cy="114.42" r="2" fill="#5e140c"/>
<circle cx="403.2" cy="111.16" r="2" fill="#5e140c"/>
<circle cx="403.2" cy="107.9" r="2" fill="#5e140c"/>
<circle cx="403.2" cy="104.64" r="2" fill="#5e140c"/>
<circle cx="403.2" cy="101.38" r="2" fill="#5e140c"/>
<circle cx="403.2" cy="98.12" r="2" fill="#5e140c"/>
<circle cx="403.2" cy="94.86" r="2" fill="#5e140c"/>
<circle cx="403.2" cy="91.6" r="2" fill="#5e140c"/>
<circle cx="403.2" cy="88.34" r="2" fill="#5e140c"/>
<circle cx="403.2" cy="85.08" r="2" fill="#5e140c"/>
<circle cx="403.2" cy="81.82" r="2" fill="#5e140c"/>
<circle cx="403.2" cy="78.56" r="2" fill="#5e140c"/>
<circle cx="403.2" cy="75.3" r="2" fill="#5e140c"/>
<circle cx="403.2" cy="72.04" r="2" fill="#5e140c"/>
<circle cx="405.8" cy="140.5" r="2" fill="#ebbd52"/>
<circle cx="405.8" cy="137.24" r="2" fill="#ebbd52"/>
<circle cx="405.8" cy="133.98" r="2" fill="#ebbd52"/>
<circle cx="405.8" cy="130.72" r="2" fill="#ebbd52"/>
<circle cx="405.8" cy="127.46" r="2" fill="#ebbd52"/>
<circle cx="405.8" cy="124.2" r="2" fill="#9b3222"/>
<circle cx="405.8" cy="120.94" r="2" fill="#9b3222"/>
<circle cx="405.8" cy="117.68" r="2" fill="#9b3222"/>
<circle cx="405.8" cy="114.42" r="2" fill="#5e140c"/>
<circle cx="405.8" cy="111.16" r="2" fill="#5e140c"/>
<circle cx="405.8" cy="107.9" r="2" fill="#5e140c"/>
<circle cx="405.8" cy="104.64" r="2" fill="#5e140c"/>
<circle cx="405.8" cy="101.38" r="2" fill="#5e140c"/>
<circle cx="405.8" cy="98.12" r="2" fill="#5e140c"/>
<circle cx="405.8" cy="94.86" r="2" fill="#5e140c"/>
<circle cx="405.8" cy="91.6" r="2" fill="#5e140c"/>
<circle cx="405.8" cy="88.34" r="2" fill="#5e140c"/>
<circle cx="405.8" cy="85.08" r="2" fill="#5e140c"/>
<circle cx="405.8" cy="81.82" r="2" fill="#5e140c"/>
<circle cx="405.8" cy="78.56" r="2" fill="#5e140c"/>
<circle cx="408.4" cy="140.5" r="2" fill="#ebbd52"/>
<circle cx="408.4" cy="137.24" r="2" fill="#ebbd52"/>
<circle cx="408.4" cy="133.98" r="2" fill="#ebbd52"/>
<circle cx="408.4" cy="130.72" r="2" fill="#ebbd52"/>
<circle cx="408.4" cy="127.46" r="2" fill="#ebbd52"/>
<circle cx="408.4" cy="124.2" r="2" fill="#9b3222"/>
<circle cx="408.4" cy="120.94" r="2" fill="#9b3222"/>
<circle cx="408.4" cy="117.68" r="2" fill="#9b3222"/>
<circle cx="408.4" cy="114.42" r="2" fill="#5e140c"/>
<circle cx="408.4" cy="111.16" r="2" fill="#5e140c"/>
<circle cx="408.4" cy="107.9" r="2" fill="#5e140c"/>
<circle cx="408.4" cy="104.64" r="2" fill="#5e140c"/>
<circle cx="408.4" cy="101.38" r="2" fill="#5e140c"/>
<circle cx="408.4" cy="98.12" r="2" fill="#5e140c"/>
<circle cx="408.4" cy="94.86" r="2" fill="#5e140c"/>
<circle cx="408.4" cy="91.6" r="2" fill="#5e140c"/>
<circle cx="408.4" cy="88.34" r="2" fill="#5e140c"/>
<circle cx="408.4" cy="85.08" r="2" fill="#5e140c"/>
<circle cx="411" cy="140.5" r="2" fill="#ebbd52"/>
<circle cx="411" cy="137.24" r="2" fill="#ebbd52"/>
<circle cx="411" cy="133.98" r="2" fill="#ebbd52"/>
<circle cx="411" cy="130.72" r="2" fill="#ebbd52"/>
<circle cx="411" cy="127.46" r="2" fill="#ebbd52"/>
<circle cx="411" cy="124.2" r="2" fill="#9b3222"/>
<circle cx="411" cy="120.94" r="2" fill="#9b3222"/>
<circle cx="411" cy="117.68" r="2" fill="#9b3222"/>
<circle cx="411" cy="114.42" r="2" fill="#5e140c"/>
<circle cx="411" cy="111.16" r="2" fill="#5e140c"/>
<circle cx="411" cy="107.9" r="2" fill="#5e140c"/>
<circle cx="411" cy="104.64" r="2" fill="#5e140c"/>
<circle cx="411" cy="101.38" r="2" fill="#5e140c"/>
<circle cx="411" cy="98.12" r="2" fill="#5e140c"/>
<circle cx="411" cy="94.86" r="2" fill="#5e140c"/>
<circle cx="411" cy="91.6" r="2" fill="#5e140c"/>
<circle cx="411" cy="88.34" r="2" fill="#5e140c"/>
<circle cx="415" cy="148" r="2" fill="#f0aa62"/>
<circle cx="415" cy="144.74" r="2" fill="#f0aa62"/>
<circle cx="415" cy="141.48" r="2" fill="#ebbd52"/>
<circle cx="415" cy="138.22" r="2" fill="#ebbd52"/>
<circle cx="415" cy="134.96" r="2" fill="#ebbd52"/>
<circle cx="415" cy="131.7" r="2" fill="#ebbd52"/>
<circle cx="415" cy="128.44" r="2" fill="#ebbd52"/>
<circle cx="415" cy="125.18" r="2" fill="#9b3222"/>
<circle cx="415" cy="121.92" r="2" fill="#9b3222"/>
<circle cx="415" cy="118.66" r="2" fill="#5e140c"/>
<circle cx="415" cy="115.4" r="2" fill="#5e140c"/>
<circle cx="415" cy="112.14" r="2" fill="#5e140c"/>
<circle cx="415" cy="108.88" r="2" fill="#5e140c"/>
<circle cx="415" cy="105.62" r="2" fill="#5e140c"/>
<circle cx="415" cy="102.36" r="2" fill="#5e140c"/>
<circle cx="415" cy="99.1" r="2" fill="#5e140c"/>
<circle cx="418.15" cy="148" r="2" fill="#f0aa62"/>
<circle cx="418.15" cy="144.74" r="2" fill="#f0aa62"/>
<circle cx="418.15" cy="141.48" r="2" fill="#ebbd52"/>
<circle cx="418.15" cy="138.22" r="2" fill="#ebbd52"/>
<circle cx="418.15" cy="134.96" r="2" fill="#ebbd52"/>
<circle cx="418.15" cy="131.7" r="2" fill="#ebbd52"/>
<circle cx="418.15" cy="128.44" r="2" fill="#ebbd52"/>
<circle cx="418.15" cy="125.18" r="2" fill="#9b3222"/>
<circle cx="418.15" cy="121.92" r="2" fill="#9b3222"/>
<circle cx="418.15" cy="118.66" r="2" fill="#5e140c"/>
<circle cx="418.15" cy="115.4" r="2" fill="#5e140c"/>
<circle cx="418.15" cy="112.14" r="2" fill="#5e140c"/>
<circle cx="418.15" cy="108.88" r="2" fill="#5e140c"/>
<circle cx="421.3" cy="148" r="2" fill="#f0aa62"/>
<circle cx="421.3" cy="144.74" r="2" fill="#f0aa62"/>
<circle cx="421.3" cy="141.48" r="2" fill="#ebbd52"/>
<circle cx="421.3" cy="138.22" r="2" fill="#ebbd52"/>
<circle cx="421.3" cy="134.96" r="2" fill="#ebbd52"/>
<circle cx="421.3" cy="131.7" r="2" fill="#ebbd52"/>
<circle cx="421.3" cy="128.44" r="2" fill="#ebbd52"/>
<circle cx="421.3" cy="125.18" r="2" fill="#9b3222"/>
<circle cx="421.3" cy="121.92" r="2" fill="#9b3222"/>
<circle cx="421.3" cy="118.66" r="2" fill="#5e140c"/>
<circle cx="421.3" cy="115.4" r="2" fill="#5e140c"/>
<circle cx="424.45" cy="148" r="2" fill="#f0aa62"/>
<circle cx="424.45" cy="144.74" r="2" fill="#f0aa62"/>
<circle cx="424.45" cy="141.48" r="2" fill="#ebbd52"/>
<circle cx="424.45" cy="138.22" r="2" fill="#ebbd52"/>
<circle cx="424.45" cy="134.96" r="2" fill="#ebbd52"/>
<circle cx="424.45" cy="131.7" r="2" fill="#ebbd52"/>
<circle cx="424.45" cy="128.44" r="2" fill="#ebbd52"/>
<circle cx="424.45" cy="125.18" r="2" fill="#9b3222"/>
<circle cx="424.45" cy="121.92" r="2" fill="#9b3222"/>
<circle cx="424.45" cy="118.66" r="2" fill="#5e140c"/>
<circle cx="427.6" cy="148" r="2" fill="#f0aa62"/>
<circle cx="427.6" cy="144.74" r="2" fill="#f0aa62"/>
<circle cx="427.6" cy="141.48" r="2" fill="#ebbd52"/>
<circle cx="427.6" cy="138.22" r="2" fill="#ebbd52"/>
<circle cx="427.6" cy="134.96" r="2" fill="#ebbd52"/>
<circle cx="427.6" cy="131.7" r="2" fill="#ebbd52"/>
<circle cx="427.6" cy="128.44" r="2" fill="#ebbd52"/>
<circle cx="427.6" cy="125.18" r="2" fill="#9b3222"/>
<circle cx="427.6" cy="121.92" r="2" fill="#9b3222"/>
<circle cx="427.6" cy="118.66" r="2" fill="#5e140c"/>
<circle cx="431.6" cy="151.8" r="2" fill="#e67a32"/>
<circle cx="431.6" cy="148.54" r="2" fill="#f0aa62"/>
<circle cx="431.6" cy="145.28" r="2" fill="#f0aa62"/>
<circle cx="431.6" cy="142.02" r="2" fill="#ebbd52"/>
<circle cx="431.6" cy="138.76" r="2" fill="#ebbd52"/>
<circle cx="431.6" cy="135.5" r="2" fill="#ebbd52"/>
<circle cx="434.7" cy="151.8" r="2" fill="#e67a32"/>
<circle cx="434.7" cy="148.54" r="2" fill="#f0aa62"/>
<circle cx="434.7" cy="145.28" r="2" fill="#f0aa62"/>
<circle cx="434.7" cy="142.02" r="2" fill="#ebbd52"/>
<circle cx="434.7" cy="138.76" r="2" fill="#ebbd52"/>
<circle cx="434.7" cy="135.5" r="2" fill="#ebbd52"/>
<circle cx="437.8" cy="151.8" r="2" fill="#e67a32"/>
<circle cx="437.8" cy="148.54" r="2" fill="#f0aa62"/>
<circle cx="437.8" cy="145.28" r="2" fill="#f0aa62"/>
<circle cx="437.8" cy="142.02" r="2" fill="#ebbd52"/>
<circle cx="437.8" cy="138.76" r="2" fill="#ebbd52"/>
<circle cx="437.8" cy="135.5" r="2" fill="#ebbd52"/>
<circle cx="440.9" cy="151.8" r="2" fill="#e67a32"/>
<circle cx="440.9" cy="148.54" r="2" fill="#f0aa62"/>
<circle cx="440.9" cy="145.28" r="2" fill="#f0aa62"/>
<circle cx="440.9" cy="142.02" r="2" fill="#ebbd52"/>
<circle cx="444" cy="151.8" r="2" fill="#e67a32"/>
<circle cx="444" cy="148.54" r="2" fill="#f0aa62"/>
<circle cx="444" cy="145.28" r="2" fill="#f0aa62"/>
<circle cx="444" cy="142.02" r="2" fill="#ebbd52"/>
<circle cx="448" cy="152" r="2" fill="#e67a32"/>
<circle cx="450.5" cy="152" r="2" fill="#e67a32"/>
<circle cx="453" cy="152" r="2" fill="#e67a32"/>
<circle cx="403.8" cy="117.5" r="2" fill="#3b98c2"/>
<circle cx="403.8" cy="120.6" r="2" fill="#3b98c2"/>
<circle cx="403.8" cy="123.7" r="2" fill="#3b98c2"/>
<circle cx="403.8" cy="126.8" r="2" fill="#92c6e0"/>
<circle cx="403.8" cy="129.9" r="2" fill="#92c6e0"/>
<circle cx="403.8" cy="133" r="2" fill="#92c6e0"/>
<circle cx="403.8" cy="136.1" r="2" fill="#92c6e0"/>
<circle cx="403.8" cy="139.2" r="2" fill="#3b98c2"/>
<circle cx="403.8" cy="142.3" r="2" fill="#175c7c"/>
<circle cx="410" cy="117.5" r="2" fill="#3b98c2"/>
<circle cx="410" cy="120.6" r="2" fill="#3b98c2"/>
<circle cx="410" cy="123.7" r="2" fill="#3b98c2"/>
<circle cx="410" cy="126.8" r="2" fill="#92c6e0"/>
<circle cx="410" cy="129.9" r="2" fill="#92c6e0"/>
<circle cx="410" cy="133" r="2" fill="#92c6e0"/>
<circle cx="410" cy="136.1" r="2" fill="#92c6e0"/>
<circle cx="410" cy="139.2" r="2" fill="#3b98c2"/>
<circle cx="410" cy="142.3" r="2" fill="#175c7c"/>
<circle cx="417.8" cy="127.5" r="2" fill="#92c6e0"/>
<circle cx="417.8" cy="130.6" r="2" fill="#92c6e0"/>
<circle cx="417.8" cy="133.7" r="2" fill="#92c6e0"/>
<circle cx="417.8" cy="136.8" r="2" fill="#92c6e0"/>
<circle cx="417.8" cy="139.9" r="2" fill="#3b98c2"/>
<circle cx="417.8" cy="143" r="2" fill="#3b98c2"/>
<circle cx="425.5" cy="133.6" r="2" fill="#9b3222"/>
<circle cx="428.5" cy="133.6" r="2" fill="#9b3222"/>
<circle cx="431.5" cy="133.6" r="2" fill="#9b3222"/>
<circle cx="478.8" cy="113.8" r="1.65" fill="#5e140c"/>
<circle cx="478.8" cy="117.7" r="1.65" fill="#5e140c"/>
<circle cx="478.8" cy="121" r="1.65" fill="#5e140c"/>
<circle cx="483.7" cy="117.1" r="1.65" fill="#5e140c"/>
<circle cx="483.7" cy="121" r="1.65" fill="#5e140c"/>
<circle cx="483.7" cy="124.3" r="1.65" fill="#5e140c"/>
<circle cx="481.5" cy="127.6" r="1.65" fill="#5e140c"/>
<circle cx="483.7" cy="127.6" r="1.65" fill="#5e140c"/>
<circle cx="481.5" cy="130.9" r="1.65" fill="#5e140c"/>
<circle cx="483.7" cy="130.9" r="1.65" fill="#5e140c"/>
<circle cx="481.5" cy="133.6" r="1.65" fill="#9b3222"/>
<circle cx="483.7" cy="133.6" r="1.65" fill="#9b3222"/>
<circle cx="478.8" cy="136.9" r="1.65" fill="#9b3222"/>
<circle cx="481.5" cy="136.9" r="1.65" fill="#9b3222"/>
<circle cx="478.8" cy="140.2" r="1.65" fill="#9b3222"/>
<circle cx="481.5" cy="140.2" r="1.65" fill="#9b3222"/>
<circle cx="504.6" cy="140.2" r="1.65" fill="#9b3222"/>
<circle cx="475.5" cy="143.5" r="1.65" fill="#92c6e0"/>
<circle cx="475.5" cy="146.8" r="1.65" fill="#92c6e0"/>
<circle cx="475.5" cy="150.1" r="1.65" fill="#92c6e0"/>
<circle cx="478.8" cy="143.5" r="1.65" fill="#ebbd52"/>
<circle cx="478.8" cy="146.8" r="1.65" fill="#ebbd52"/>
<circle cx="481.8" cy="146.8" r="1.65" fill="#ebbd52"/>
<circle cx="484.8" cy="146.8" r="1.65" fill="#ebbd52"/>
<circle cx="478.8" cy="150.1" r="1.65" fill="#ebbd52"/>
<circle cx="481.8" cy="150.1" r="1.65" fill="#ebbd52"/>
<circle cx="484.8" cy="150.1" r="1.65" fill="#ebbd52"/>
<circle cx="490.3" cy="150.1" r="1.65" fill="#ebbd52"/>
<circle cx="494" cy="150.1" r="1.65" fill="#ebbd52"/>
<circle cx="497" cy="150.1" r="1.65" fill="#ebbd52"/>
<circle cx="499" cy="146.8" r="1.65" fill="#ebbd52"/>
<circle cx="503.5" cy="146.8" r="1.65" fill="#ebbd52"/>
<circle cx="506.3" cy="143.5" r="1.65" fill="#ebbd52"/>
<circle cx="506.5" cy="146.8" r="1.65" fill="#ebbd52"/>
<circle cx="509.5" cy="146.8" r="1.65" fill="#ebbd52"/>
<circle cx="511" cy="146.8" r="1.65" fill="#ebbd52"/>
<circle cx="509" cy="150.1" r="1.65" fill="#ebbd52"/>
<circle cx="513.4" cy="150.1" r="1.65" fill="#ebbd52"/>
<circle cx="471.6" cy="146.8" r="1.65" fill="#3b98c2"/>
<circle cx="475.5" cy="153.4" r="1.65" fill="#3b98c2"/>
<circle cx="471.6" cy="150.1" r="1.65" fill="#175c7c"/>
<circle cx="475.5" cy="156.7" r="1.65" fill="#175c7c"/>
<circle cx="481.5" cy="153.4" r="1.65" fill="#f0aa62"/>
<circle cx="484.8" cy="153.4" r="1.65" fill="#f0aa62"/>
<circle cx="489.2" cy="153.4" r="1.65" fill="#f0aa62"/>
<circle cx="493.6" cy="153.4" r="1.65" fill="#f0aa62"/>
<circle cx="497" cy="153.4" r="1.65" fill="#f0aa62"/>
<circle cx="501.3" cy="153.4" r="1.65" fill="#f0aa62"/>
<circle cx="504" cy="153.4" r="1.65" fill="#f0aa62"/>
<circle cx="507" cy="153.4" r="1.65" fill="#f0aa62"/>
<circle cx="510" cy="153.4" r="1.65" fill="#f0aa62"/>
<circle cx="511.2" cy="153.4" r="1.65" fill="#f0aa62"/>
<circle cx="478.8" cy="156.7" r="1.65" fill="#e67a32"/>
<circle cx="482" cy="156.7" r="1.65" fill="#e67a32"/>
<circle cx="487" cy="156.7" r="1.65" fill="#e67a32"/>
<circle cx="493.6" cy="156.7" r="1.65" fill="#e67a32"/>
<circle cx="497" cy="156.7" r="1.65" fill="#e67a32"/>
<circle cx="501.3" cy="156.7" r="1.65" fill="#e67a32"/>
<circle cx="504.6" cy="156.7" r="1.65" fill="#e67a32"/>
<circle cx="508" cy="156.7" r="1.65" fill="#e67a32"/>
<circle cx="511.2" cy="156.7" r="1.65" fill="#e67a32"/>
<circle cx="490.3" cy="156.7" r="1.65" fill="#f3dc8c"/>
<line x1="397.9" y1="63.9" x2="397.9" y2="250" stroke="#bdbdbd" stroke-width="1"/>
<line x1="397.4" y1="250" x2="517" y2="250" stroke="#7a7a7a" stroke-width="1"/>
<line x1="395.3" y1="221.6" x2="397.9" y2="221.6" stroke="#bdbdbd" stroke-width="1"/>
<text x="392.9" y="221.6" font-size="7.8" text-anchor="end" fill="#1a1a1a" font-weight="normal" dominant-baseline="central">10</text>
<line x1="395.3" y1="189.3" x2="397.9" y2="189.3" stroke="#bdbdbd" stroke-width="1"/>
<text x="392.9" y="189.3" font-size="7.8" text-anchor="end" fill="#1a1a1a" font-weight="normal" dominant-baseline="central">20</text>
<line x1="395.3" y1="156.4" x2="397.9" y2="156.4" stroke="#bdbdbd" stroke-width="1"/>
<text x="392.9" y="156.4" font-size="7.8" text-anchor="end" fill="#1a1a1a" font-weight="normal" dominant-baseline="central">30</text>
<line x1="395.3" y1="124.2" x2="397.9" y2="124.2" stroke="#bdbdbd" stroke-width="1"/>
<text x="392.9" y="124.2" font-size="7.8" text-anchor="end" fill="#1a1a1a" font-weight="normal" dominant-baseline="central">40</text>
<line x1="395.3" y1="91.4" x2="397.9" y2="91.4" stroke="#bdbdbd" stroke-width="1"/>
<text x="392.9" y="91.4" font-size="7.8" text-anchor="end" fill="#1a1a1a" font-weight="normal" dominant-baseline="central">50</text>
<line x1="426.7" y1="250" x2="426.7" y2="252.6" stroke="#7a7a7a" stroke-width="1"/>
<text x="426.7" y="259.2" font-size="7.8" text-anchor="middle" fill="#1a1a1a" font-weight="normal" dominant-baseline="central">1,000</text>
<line x1="455.7" y1="250" x2="455.7" y2="252.6" stroke="#7a7a7a" stroke-width="1"/>
<text x="455.7" y="259.2" font-size="7.8" text-anchor="middle" fill="#1a1a1a" font-weight="normal" dominant-baseline="central">2,000</text>
<line x1="485.5" y1="250" x2="485.5" y2="252.6" stroke="#7a7a7a" stroke-width="1"/>
<text x="485.5" y="259.2" font-size="7.8" text-anchor="middle" fill="#1a1a1a" font-weight="normal" dominant-baseline="central">3,000</text>
<line x1="515.2" y1="250" x2="515.2" y2="252.6" stroke="#7a7a7a" stroke-width="1"/>
<text x="515.2" y="259.2" font-size="7.8" text-anchor="middle" fill="#1a1a1a" font-weight="normal" dominant-baseline="central">4,000</text>
<text x="458" y="271" font-size="7.8" text-anchor="middle" fill="#1a1a1a" font-weight="normal" dominant-baseline="central">Elevation (masl)</text>
<text x="377.4" y="52.5" font-size="10.5" text-anchor="start" fill="#1a1a1a" font-weight="bold" dominant-baseline="central">d</text>
<line x1="397.9" y1="115.6" x2="517" y2="115.6" stroke="#ee1a22" stroke-width="1.45" stroke-dasharray="3.85 3.3"/>
<polygon points="430,242.2 430,181 431.5,195.6 433.4,214.7 435.5,209.6 437.8,236.7 439.6,237.4 444,240 448.4,241 456,241.8 460,241.5 468.1,240.3 469.5,242 469.5,242.2" fill="rgba(190,70,70,0.55)" stroke="none" stroke-width="0"/>
<polygon points="430,242.2 430,192 430.8,200 432.2,198.6 433.7,214 435.5,206.6 437.4,241.8 455.5,241.8 458.6,217.6 460.4,241.8 469.5,241.8 469.5,242.2" fill="rgba(80,130,200,0.45)" stroke="none" stroke-width="0"/>
<polyline points="430,181 431.5,195.6 433.4,214.7 435.5,209.6 437.8,236.7 439.6,237.4 444,240 448.4,241 456,241.8 460,241.5 468.1,240.3 469.5,242" fill="none" stroke="#b32f32" stroke-width="1" stroke-linejoin="round"/>
<polyline points="430,192 430.8,200 432.2,198.6 433.7,214 435.5,206.6 437.4,241.8 455.5,241.8 458.6,217.6 460.4,241.8 469.5,241.8" fill="none" stroke="#4a86c4" stroke-width="1" stroke-linejoin="round"/>
<line x1="427.8" y1="179.5" x2="427.8" y2="245.5" stroke="#a8a8a8" stroke-width="0.9"/>
<line x1="427.35" y1="245.5" x2="470.3" y2="245.5" stroke="#858585" stroke-width="0.9"/>
<line x1="425.6" y1="188" x2="427.8" y2="188" stroke="#a8a8a8" stroke-width="0.9"/>
<text x="423.6" y="188" font-size="7.2" text-anchor="end" fill="#1a1a1a" font-weight="normal" dominant-baseline="central">40</text>
<line x1="425.6" y1="201.5" x2="427.8" y2="201.5" stroke="#a8a8a8" stroke-width="0.9"/>
<text x="423.6" y="201.5" font-size="7.2" text-anchor="end" fill="#1a1a1a" font-weight="normal" dominant-baseline="central">30</text>
<line x1="425.6" y1="215.1" x2="427.8" y2="215.1" stroke="#a8a8a8" stroke-width="0.9"/>
<text x="423.6" y="215.1" font-size="7.2" text-anchor="end" fill="#1a1a1a" font-weight="normal" dominant-baseline="central">20</text>
<line x1="425.6" y1="228.6" x2="427.8" y2="228.6" stroke="#a8a8a8" stroke-width="0.9"/>
<text x="423.6" y="228.6" font-size="7.2" text-anchor="end" fill="#1a1a1a" font-weight="normal" dominant-baseline="central">10</text>
<line x1="425.6" y1="242.2" x2="427.8" y2="242.2" stroke="#a8a8a8" stroke-width="0.9"/>
<text x="423.6" y="242.2" font-size="7.2" text-anchor="end" fill="#1a1a1a" font-weight="normal" dominant-baseline="central">0</text>
<line x1="438.8" y1="245.5" x2="438.8" y2="247.7" stroke="#858585" stroke-width="0.9"/>
<line x1="450.5" y1="245.5" x2="450.5" y2="247.7" stroke="#858585" stroke-width="0.9"/>
<line x1="462.7" y1="245.5" x2="462.7" y2="247.7" stroke="#858585" stroke-width="0.9"/>
<text x="407.3" y="212" font-size="7.5" text-anchor="middle" fill="#1a1a1a" font-weight="normal" dominant-baseline="central" transform="rotate(-90 407.3 212)">Critical temp. (%)</text>
<polygon points="546.7,144 560,147 590,150 600,155 614,158 659.6,158 659.8,242.1 650.6,242.1 632.6,238.8 619.8,229.8 607,217 594.2,204.2 581.3,191.3 571,178.5 564.3,176.2 558.4,168.9 554,161.5 551.1,155.7 546.7,148" fill="#d3d3d3" stroke="none" stroke-width="0"/>
<circle cx="549.25" cy="146.2" r="1.75" fill="#777777"/>
<circle cx="555.05" cy="145.75" r="1.75" fill="#777777"/>
<circle cx="555.05" cy="148.85" r="1.75" fill="#777777"/>
<circle cx="555.05" cy="151.95" r="1.75" fill="#777777"/>
<circle cx="555.05" cy="155.05" r="1.75" fill="#777777"/>
<circle cx="555.05" cy="158.15" r="1.75" fill="#777777"/>
<circle cx="555.05" cy="161.25" r="1.75" fill="#777777"/>
<circle cx="556.65" cy="145.75" r="1.75" fill="#777777"/>
<circle cx="556.65" cy="148.85" r="1.75" fill="#777777"/>
<circle cx="556.65" cy="151.95" r="1.75" fill="#777777"/>
<circle cx="556.65" cy="155.05" r="1.75" fill="#777777"/>
<circle cx="556.65" cy="158.15" r="1.75" fill="#777777"/>
<circle cx="556.65" cy="161.25" r="1.75" fill="#777777"/>
<circle cx="562.85" cy="145.75" r="1.75" fill="#777777"/>
<circle cx="562.85" cy="148.61" r="1.75" fill="#777777"/>
<circle cx="562.85" cy="151.47" r="1.75" fill="#777777"/>
<circle cx="562.85" cy="154.33" r="1.75" fill="#777777"/>
<circle cx="562.85" cy="157.19" r="1.75" fill="#777777"/>
<circle cx="562.85" cy="160.05" r="1.75" fill="#777777"/>
<circle cx="567.55" cy="145.75" r="1.75" fill="#777777"/>
<circle cx="567.55" cy="148.99" r="1.75" fill="#777777"/>
<circle cx="567.55" cy="152.22" r="1.75" fill="#777777"/>
<circle cx="567.55" cy="155.46" r="1.75" fill="#777777"/>
<circle cx="567.55" cy="158.7" r="1.75" fill="#777777"/>
<circle cx="567.55" cy="161.94" r="1.75" fill="#777777"/>
<circle cx="567.55" cy="165.18" r="1.75" fill="#777777"/>
<circle cx="567.55" cy="168.41" r="1.75" fill="#777777"/>
<circle cx="567.55" cy="171.65" r="1.75" fill="#777777"/>
<circle cx="569.15" cy="145.75" r="1.75" fill="#777777"/>
<circle cx="569.15" cy="148.99" r="1.75" fill="#777777"/>
<circle cx="569.15" cy="152.22" r="1.75" fill="#777777"/>
<circle cx="569.15" cy="155.46" r="1.75" fill="#777777"/>
<circle cx="569.15" cy="158.7" r="1.75" fill="#777777"/>
<circle cx="569.15" cy="161.94" r="1.75" fill="#777777"/>
<circle cx="569.15" cy="165.18" r="1.75" fill="#777777"/>
<circle cx="569.15" cy="168.41" r="1.75" fill="#777777"/>
<circle cx="569.15" cy="171.65" r="1.75" fill="#777777"/>
<circle cx="573.5" cy="151.55" r="1.75" fill="#777777"/>
<circle cx="573.5" cy="154.88" r="1.75" fill="#777777"/>
<circle cx="573.5" cy="158.22" r="1.75" fill="#777777"/>
<circle cx="573.5" cy="161.55" r="1.75" fill="#777777"/>
<circle cx="573.5" cy="164.88" r="1.75" fill="#777777"/>
<circle cx="573.5" cy="168.22" r="1.75" fill="#777777"/>
<circle cx="573.5" cy="171.55" r="1.75" fill="#777777"/>
<circle cx="577.9" cy="160.35" r="1.75" fill="#777777"/>
<circle cx="577.9" cy="163.88" r="1.75" fill="#777777"/>
<circle cx="577.9" cy="167.4" r="1.75" fill="#777777"/>
<circle cx="577.9" cy="170.92" r="1.75" fill="#777777"/>
<circle cx="577.9" cy="174.45" r="1.75" fill="#777777"/>
<circle cx="585.85" cy="157.45" r="1.75" fill="#777777"/>
<circle cx="585.85" cy="160.66" r="1.75" fill="#777777"/>
<circle cx="585.85" cy="163.88" r="1.75" fill="#777777"/>
<circle cx="585.85" cy="167.09" r="1.75" fill="#777777"/>
<circle cx="585.85" cy="170.3" r="1.75" fill="#777777"/>
<circle cx="585.85" cy="173.51" r="1.75" fill="#777777"/>
<circle cx="585.85" cy="176.72" r="1.75" fill="#777777"/>
<circle cx="585.85" cy="179.94" r="1.75" fill="#777777"/>
<circle cx="585.85" cy="183.15" r="1.75" fill="#777777"/>
<circle cx="593.15" cy="158.75" r="1.75" fill="#777777"/>
<circle cx="593.15" cy="161.8" r="1.75" fill="#777777"/>
<circle cx="593.15" cy="164.85" r="1.75" fill="#777777"/>
<circle cx="593.15" cy="167.9" r="1.75" fill="#777777"/>
<circle cx="593.15" cy="170.95" r="1.75" fill="#777777"/>
<circle cx="593.15" cy="174" r="1.75" fill="#777777"/>
<circle cx="593.15" cy="177.05" r="1.75" fill="#777777"/>
<circle cx="593.15" cy="180.1" r="1.75" fill="#777777"/>
<circle cx="593.15" cy="183.15" r="1.75" fill="#777777"/>
<circle cx="594.75" cy="158.75" r="1.75" fill="#777777"/>
<circle cx="594.75" cy="161.8" r="1.75" fill="#777777"/>
<circle cx="594.75" cy="164.85" r="1.75" fill="#777777"/>
<circle cx="594.75" cy="167.9" r="1.75" fill="#777777"/>
<circle cx="594.75" cy="170.95" r="1.75" fill="#777777"/>
<circle cx="594.75" cy="174" r="1.75" fill="#777777"/>
<circle cx="594.75" cy="177.05" r="1.75" fill="#777777"/>
<circle cx="594.75" cy="180.1" r="1.75" fill="#777777"/>
<circle cx="594.75" cy="183.15" r="1.75" fill="#777777"/>
<circle cx="600.95" cy="158.75" r="1.75" fill="#777777"/>
<circle cx="600.95" cy="161.89" r="1.75" fill="#777777"/>
<circle cx="600.95" cy="165.04" r="1.75" fill="#777777"/>
<circle cx="600.95" cy="168.18" r="1.75" fill="#777777"/>
<circle cx="600.95" cy="171.33" r="1.75" fill="#777777"/>
<circle cx="600.95" cy="174.47" r="1.75" fill="#777777"/>
<circle cx="600.95" cy="177.62" r="1.75" fill="#777777"/>
<circle cx="600.95" cy="180.76" r="1.75" fill="#777777"/>
<circle cx="600.95" cy="183.91" r="1.75" fill="#777777"/>
<circle cx="600.95" cy="187.05" r="1.75" fill="#777777"/>
<circle cx="609.15" cy="172.05" r="1.75" fill="#777777"/>
<circle cx="609.15" cy="175.2" r="1.75" fill="#777777"/>
<circle cx="609.15" cy="178.35" r="1.75" fill="#777777"/>
<circle cx="609.15" cy="181.5" r="1.75" fill="#777777"/>
<circle cx="609.15" cy="184.65" r="1.75" fill="#777777"/>
<circle cx="609.15" cy="187.8" r="1.75" fill="#777777"/>
<circle cx="609.15" cy="190.95" r="1.75" fill="#777777"/>
<circle cx="609.15" cy="194.1" r="1.75" fill="#777777"/>
<circle cx="609.15" cy="197.25" r="1.75" fill="#777777"/>
<circle cx="617.9" cy="163.55" r="1.75" fill="#777777"/>
<circle cx="617.9" cy="166.58" r="1.75" fill="#777777"/>
<circle cx="617.9" cy="169.6" r="1.75" fill="#777777"/>
<circle cx="617.9" cy="172.62" r="1.75" fill="#777777"/>
<circle cx="617.9" cy="175.65" r="1.75" fill="#777777"/>
<circle cx="617.9" cy="178.68" r="1.75" fill="#777777"/>
<circle cx="617.9" cy="181.7" r="1.75" fill="#777777"/>
<circle cx="617.9" cy="184.72" r="1.75" fill="#777777"/>
<circle cx="617.9" cy="187.75" r="1.75" fill="#777777"/>
<circle cx="617.9" cy="190.78" r="1.75" fill="#777777"/>
<circle cx="617.9" cy="193.8" r="1.75" fill="#777777"/>
<circle cx="617.9" cy="196.82" r="1.75" fill="#777777"/>
<circle cx="617.9" cy="199.85" r="1.75" fill="#777777"/>
<circle cx="622.85" cy="166.75" r="1.75" fill="#777777"/>
<circle cx="622.85" cy="169.93" r="1.75" fill="#777777"/>
<circle cx="622.85" cy="173.12" r="1.75" fill="#777777"/>
<circle cx="622.85" cy="176.3" r="1.75" fill="#777777"/>
<circle cx="622.85" cy="179.48" r="1.75" fill="#777777"/>
<circle cx="622.85" cy="182.67" r="1.75" fill="#777777"/>
<circle cx="622.85" cy="185.85" r="1.75" fill="#777777"/>
<circle cx="622.85" cy="189.03" r="1.75" fill="#777777"/>
<circle cx="622.85" cy="192.22" r="1.75" fill="#777777"/>
<circle cx="622.85" cy="195.4" r="1.75" fill="#777777"/>
<circle cx="622.85" cy="198.58" r="1.75" fill="#777777"/>
<circle cx="622.85" cy="201.77" r="1.75" fill="#777777"/>
<circle cx="622.85" cy="204.95" r="1.75" fill="#777777"/>
<circle cx="624.45" cy="166.75" r="1.75" fill="#777777"/>
<circle cx="624.45" cy="169.93" r="1.75" fill="#777777"/>
<circle cx="624.45" cy="173.12" r="1.75" fill="#777777"/>
<circle cx="624.45" cy="176.3" r="1.75" fill="#777777"/>
<circle cx="624.45" cy="179.48" r="1.75" fill="#777777"/>
<circle cx="624.45" cy="182.67" r="1.75" fill="#777777"/>
<circle cx="624.45" cy="185.85" r="1.75" fill="#777777"/>
<circle cx="624.45" cy="189.03" r="1.75" fill="#777777"/>
<circle cx="624.45" cy="192.22" r="1.75" fill="#777777"/>
<circle cx="624.45" cy="195.4" r="1.75" fill="#777777"/>
<circle cx="624.45" cy="198.58" r="1.75" fill="#777777"/>
<circle cx="624.45" cy="201.77" r="1.75" fill="#777777"/>
<circle cx="624.45" cy="204.95" r="1.75" fill="#777777"/>
<circle cx="630.7" cy="169.95" r="1.75" fill="#777777"/>
<circle cx="630.7" cy="173.08" r="1.75" fill="#777777"/>
<circle cx="630.7" cy="176.22" r="1.75" fill="#777777"/>
<circle cx="630.7" cy="179.35" r="1.75" fill="#777777"/>
<circle cx="630.7" cy="182.48" r="1.75" fill="#777777"/>
<circle cx="630.7" cy="185.62" r="1.75" fill="#777777"/>
<circle cx="630.7" cy="188.75" r="1.75" fill="#777777"/>
<circle cx="630.7" cy="191.88" r="1.75" fill="#777777"/>
<circle cx="630.7" cy="195.02" r="1.75" fill="#777777"/>
<circle cx="630.7" cy="198.15" r="1.75" fill="#777777"/>
<circle cx="630.7" cy="201.28" r="1.75" fill="#777777"/>
<circle cx="630.7" cy="204.42" r="1.75" fill="#777777"/>
<circle cx="630.7" cy="207.55" r="1.75" fill="#777777"/>
<circle cx="638.4" cy="187.95" r="1.75" fill="#777777"/>
<circle cx="638.4" cy="191.22" r="1.75" fill="#777777"/>
<circle cx="638.4" cy="194.48" r="1.75" fill="#777777"/>
<circle cx="638.4" cy="197.75" r="1.75" fill="#777777"/>
<circle cx="638.4" cy="201.02" r="1.75" fill="#777777"/>
<circle cx="638.4" cy="204.28" r="1.75" fill="#777777"/>
<circle cx="638.4" cy="207.55" r="1.75" fill="#777777"/>
<circle cx="642.05" cy="176.35" r="1.75" fill="#777777"/>
<circle cx="642.05" cy="179.38" r="1.75" fill="#777777"/>
<circle cx="642.05" cy="182.4" r="1.75" fill="#777777"/>
<circle cx="642.05" cy="185.43" r="1.75" fill="#777777"/>
<circle cx="642.05" cy="188.45" r="1.75" fill="#777777"/>
<circle cx="642.05" cy="191.47" r="1.75" fill="#777777"/>
<circle cx="642.05" cy="194.5" r="1.75" fill="#777777"/>
<circle cx="642.05" cy="197.53" r="1.75" fill="#777777"/>
<circle cx="642.05" cy="200.55" r="1.75" fill="#777777"/>
<circle cx="642.05" cy="203.57" r="1.75" fill="#777777"/>
<circle cx="642.05" cy="206.6" r="1.75" fill="#777777"/>
<circle cx="642.05" cy="209.62" r="1.75" fill="#777777"/>
<circle cx="642.05" cy="212.65" r="1.75" fill="#777777"/>
<circle cx="645.45" cy="176.35" r="1.75" fill="#777777"/>
<circle cx="645.45" cy="179.38" r="1.75" fill="#777777"/>
<circle cx="645.45" cy="182.4" r="1.75" fill="#777777"/>
<circle cx="645.45" cy="185.43" r="1.75" fill="#777777"/>
<circle cx="645.45" cy="188.45" r="1.75" fill="#777777"/>
<circle cx="645.45" cy="191.47" r="1.75" fill="#777777"/>
<circle cx="645.45" cy="194.5" r="1.75" fill="#777777"/>
<circle cx="645.45" cy="197.53" r="1.75" fill="#777777"/>
<circle cx="645.45" cy="200.55" r="1.75" fill="#777777"/>
<circle cx="645.45" cy="203.57" r="1.75" fill="#777777"/>
<circle cx="645.45" cy="206.6" r="1.75" fill="#777777"/>
<circle cx="645.45" cy="209.62" r="1.75" fill="#777777"/>
<circle cx="645.45" cy="212.65" r="1.75" fill="#777777"/>
<circle cx="648.85" cy="176.35" r="1.75" fill="#777777"/>
<circle cx="648.85" cy="179.38" r="1.75" fill="#777777"/>
<circle cx="648.85" cy="182.4" r="1.75" fill="#777777"/>
<circle cx="648.85" cy="185.43" r="1.75" fill="#777777"/>
<circle cx="648.85" cy="188.45" r="1.75" fill="#777777"/>
<circle cx="648.85" cy="191.47" r="1.75" fill="#777777"/>
<circle cx="648.85" cy="194.5" r="1.75" fill="#777777"/>
<circle cx="648.85" cy="197.53" r="1.75" fill="#777777"/>
<circle cx="648.85" cy="200.55" r="1.75" fill="#777777"/>
<circle cx="648.85" cy="203.57" r="1.75" fill="#777777"/>
<circle cx="648.85" cy="206.6" r="1.75" fill="#777777"/>
<circle cx="648.85" cy="209.62" r="1.75" fill="#777777"/>
<circle cx="648.85" cy="212.65" r="1.75" fill="#777777"/>
<circle cx="548.7" cy="143.4" r="2" fill="#ebbd52"/>
<circle cx="548.7" cy="140.25" r="2" fill="#ebbd52"/>
<circle cx="548.7" cy="137.1" r="2" fill="#ebbd52"/>
<circle cx="548.7" cy="133.95" r="2" fill="#ebbd52"/>
<circle cx="548.7" cy="130.8" r="2" fill="#ebbd52"/>
<circle cx="548.7" cy="127.65" r="2" fill="#9b3222"/>
<circle cx="548.7" cy="124.5" r="2" fill="#9b3222"/>
<circle cx="548.7" cy="121.35" r="2" fill="#9b3222"/>
<circle cx="548.7" cy="118.2" r="2" fill="#5e140c"/>
<circle cx="548.7" cy="115.05" r="2" fill="#5e140c"/>
<circle cx="548.7" cy="111.9" r="2" fill="#5e140c"/>
<circle cx="548.7" cy="108.75" r="2" fill="#5e140c"/>
<circle cx="548.7" cy="105.6" r="2" fill="#5e140c"/>
<circle cx="548.7" cy="102.45" r="2" fill="#5e140c"/>
<circle cx="548.7" cy="99.3" r="2" fill="#5e140c"/>
<circle cx="548.7" cy="96.15" r="2" fill="#5e140c"/>
<circle cx="548.7" cy="93" r="2" fill="#5e140c"/>
<circle cx="548.7" cy="89.85" r="2" fill="#5e140c"/>
<circle cx="548.7" cy="86.7" r="2" fill="#5e140c"/>
<circle cx="548.7" cy="83.55" r="2" fill="#5e140c"/>
<circle cx="548.7" cy="80.4" r="2" fill="#5e140c"/>
<circle cx="548.7" cy="77.25" r="2" fill="#5e140c"/>
<circle cx="548.7" cy="74.1" r="2" fill="#5e140c"/>
<circle cx="548.7" cy="70.95" r="2" fill="#5e140c"/>
<circle cx="551.93" cy="143.4" r="2" fill="#ebbd52"/>
<circle cx="551.93" cy="140.25" r="2" fill="#ebbd52"/>
<circle cx="551.93" cy="137.1" r="2" fill="#ebbd52"/>
<circle cx="551.93" cy="133.95" r="2" fill="#ebbd52"/>
<circle cx="551.93" cy="130.8" r="2" fill="#ebbd52"/>
<circle cx="551.93" cy="127.65" r="2" fill="#9b3222"/>
<circle cx="551.93" cy="124.5" r="2" fill="#9b3222"/>
<circle cx="551.93" cy="121.35" r="2" fill="#9b3222"/>
<circle cx="551.93" cy="118.2" r="2" fill="#5e140c"/>
<circle cx="551.93" cy="115.05" r="2" fill="#5e140c"/>
<circle cx="551.93" cy="111.9" r="2" fill="#5e140c"/>
<circle cx="551.93" cy="108.75" r="2" fill="#5e140c"/>
<circle cx="551.93" cy="105.6" r="2" fill="#5e140c"/>
<circle cx="551.93" cy="102.45" r="2" fill="#5e140c"/>
<circle cx="551.93" cy="99.3" r="2" fill="#5e140c"/>
<circle cx="551.93" cy="96.15" r="2" fill="#5e140c"/>
<circle cx="551.93" cy="93" r="2" fill="#5e140c"/>
<circle cx="551.93" cy="89.85" r="2" fill="#5e140c"/>
<circle cx="551.93" cy="86.7" r="2" fill="#5e140c"/>
<circle cx="551.93" cy="83.55" r="2" fill="#5e140c"/>
<circle cx="551.93" cy="80.4" r="2" fill="#5e140c"/>
<circle cx="555.17" cy="143.4" r="2" fill="#ebbd52"/>
<circle cx="555.17" cy="140.25" r="2" fill="#ebbd52"/>
<circle cx="555.17" cy="137.1" r="2" fill="#ebbd52"/>
<circle cx="555.17" cy="133.95" r="2" fill="#ebbd52"/>
<circle cx="555.17" cy="130.8" r="2" fill="#ebbd52"/>
<circle cx="555.17" cy="127.65" r="2" fill="#9b3222"/>
<circle cx="555.17" cy="124.5" r="2" fill="#9b3222"/>
<circle cx="555.17" cy="121.35" r="2" fill="#9b3222"/>
<circle cx="555.17" cy="118.2" r="2" fill="#5e140c"/>
<circle cx="555.17" cy="115.05" r="2" fill="#5e140c"/>
<circle cx="555.17" cy="111.9" r="2" fill="#5e140c"/>
<circle cx="555.17" cy="108.75" r="2" fill="#5e140c"/>
<circle cx="555.17" cy="105.6" r="2" fill="#5e140c"/>
<circle cx="555.17" cy="102.45" r="2" fill="#5e140c"/>
<circle cx="555.17" cy="99.3" r="2" fill="#5e140c"/>
<circle cx="555.17" cy="96.15" r="2" fill="#5e140c"/>
<circle cx="555.17" cy="93" r="2" fill="#5e140c"/>
<circle cx="555.17" cy="89.85" r="2" fill="#5e140c"/>
<circle cx="555.17" cy="86.7" r="2" fill="#5e140c"/>
<circle cx="558.4" cy="143.4" r="2" fill="#ebbd52"/>
<circle cx="558.4" cy="140.25" r="2" fill="#ebbd52"/>
<circle cx="558.4" cy="137.1" r="2" fill="#ebbd52"/>
<circle cx="558.4" cy="133.95" r="2" fill="#ebbd52"/>
<circle cx="558.4" cy="130.8" r="2" fill="#ebbd52"/>
<circle cx="558.4" cy="127.65" r="2" fill="#9b3222"/>
<circle cx="558.4" cy="124.5" r="2" fill="#9b3222"/>
<circle cx="558.4" cy="121.35" r="2" fill="#9b3222"/>
<circle cx="558.4" cy="118.2" r="2" fill="#5e140c"/>
<circle cx="558.4" cy="115.05" r="2" fill="#5e140c"/>
<circle cx="558.4" cy="111.9" r="2" fill="#5e140c"/>
<circle cx="558.4" cy="108.75" r="2" fill="#5e140c"/>
<circle cx="558.4" cy="105.6" r="2" fill="#5e140c"/>
<circle cx="558.4" cy="102.45" r="2" fill="#5e140c"/>
<circle cx="558.4" cy="99.3" r="2" fill="#5e140c"/>
<circle cx="558.4" cy="96.15" r="2" fill="#5e140c"/>
<circle cx="558.4" cy="93" r="2" fill="#5e140c"/>
<circle cx="562.4" cy="150" r="2" fill="#f0aa62"/>
<circle cx="562.4" cy="146.85" r="2" fill="#ebbd52"/>
<circle cx="562.4" cy="143.7" r="2" fill="#ebbd52"/>
<circle cx="562.4" cy="140.55" r="2" fill="#ebbd52"/>
<circle cx="562.4" cy="137.4" r="2" fill="#ebbd52"/>
<circle cx="562.4" cy="134.25" r="2" fill="#ebbd52"/>
<circle cx="562.4" cy="131.1" r="2" fill="#9b3222"/>
<circle cx="562.4" cy="127.95" r="2" fill="#9b3222"/>
<circle cx="562.4" cy="124.8" r="2" fill="#9b3222"/>
<circle cx="562.4" cy="121.65" r="2" fill="#9b3222"/>
<circle cx="562.4" cy="118.5" r="2" fill="#5e140c"/>
<circle cx="562.4" cy="115.35" r="2" fill="#5e140c"/>
<circle cx="562.4" cy="112.2" r="2" fill="#5e140c"/>
<circle cx="562.4" cy="109.05" r="2" fill="#5e140c"/>
<circle cx="562.4" cy="105.9" r="2" fill="#5e140c"/>
<circle cx="562.4" cy="102.75" r="2" fill="#5e140c"/>
<circle cx="565.08" cy="150" r="2" fill="#f0aa62"/>
<circle cx="565.08" cy="146.85" r="2" fill="#ebbd52"/>
<circle cx="565.08" cy="143.7" r="2" fill="#ebbd52"/>
<circle cx="565.08" cy="140.55" r="2" fill="#ebbd52"/>
<circle cx="565.08" cy="137.4" r="2" fill="#ebbd52"/>
<circle cx="565.08" cy="134.25" r="2" fill="#ebbd52"/>
<circle cx="565.08" cy="131.1" r="2" fill="#9b3222"/>
<circle cx="565.08" cy="127.95" r="2" fill="#9b3222"/>
<circle cx="565.08" cy="124.8" r="2" fill="#9b3222"/>
<circle cx="565.08" cy="121.65" r="2" fill="#9b3222"/>
<circle cx="565.08" cy="118.5" r="2" fill="#5e140c"/>
<circle cx="565.08" cy="115.35" r="2" fill="#5e140c"/>
<circle cx="565.08" cy="112.2" r="2" fill="#5e140c"/>
<circle cx="567.75" cy="150" r="2" fill="#f0aa62"/>
<circle cx="567.75" cy="146.85" r="2" fill="#ebbd52"/>
<circle cx="567.75" cy="143.7" r="2" fill="#ebbd52"/>
<circle cx="567.75" cy="140.55" r="2" fill="#ebbd52"/>
<circle cx="567.75" cy="137.4" r="2" fill="#ebbd52"/>
<circle cx="567.75" cy="134.25" r="2" fill="#ebbd52"/>
<circle cx="567.75" cy="131.1" r="2" fill="#9b3222"/>
<circle cx="567.75" cy="127.95" r="2" fill="#9b3222"/>
<circle cx="567.75" cy="124.8" r="2" fill="#9b3222"/>
<circle cx="567.75" cy="121.65" r="2" fill="#9b3222"/>
<circle cx="567.75" cy="118.5" r="2" fill="#5e140c"/>
<circle cx="570.42" cy="150" r="2" fill="#f0aa62"/>
<circle cx="570.42" cy="146.85" r="2" fill="#ebbd52"/>
<circle cx="570.42" cy="143.7" r="2" fill="#ebbd52"/>
<circle cx="570.42" cy="140.55" r="2" fill="#ebbd52"/>
<circle cx="570.42" cy="137.4" r="2" fill="#ebbd52"/>
<circle cx="570.42" cy="134.25" r="2" fill="#ebbd52"/>
<circle cx="570.42" cy="131.1" r="2" fill="#9b3222"/>
<circle cx="570.42" cy="127.95" r="2" fill="#9b3222"/>
<circle cx="570.42" cy="124.8" r="2" fill="#9b3222"/>
<circle cx="570.42" cy="121.65" r="2" fill="#9b3222"/>
<circle cx="570.42" cy="118.5" r="2" fill="#5e140c"/>
<circle cx="573.1" cy="150" r="2" fill="#f0aa62"/>
<circle cx="573.1" cy="146.85" r="2" fill="#ebbd52"/>
<circle cx="573.1" cy="143.7" r="2" fill="#ebbd52"/>
<circle cx="573.1" cy="140.55" r="2" fill="#ebbd52"/>
<circle cx="573.1" cy="137.4" r="2" fill="#ebbd52"/>
<circle cx="573.1" cy="134.25" r="2" fill="#ebbd52"/>
<circle cx="573.1" cy="131.1" r="2" fill="#9b3222"/>
<circle cx="573.1" cy="127.95" r="2" fill="#9b3222"/>
<circle cx="573.1" cy="124.8" r="2" fill="#9b3222"/>
<circle cx="573.1" cy="121.65" r="2" fill="#9b3222"/>
<circle cx="577.1" cy="154" r="2" fill="#e67a32"/>
<circle cx="577.1" cy="150.85" r="2" fill="#f0aa62"/>
<circle cx="577.1" cy="147.7" r="2" fill="#ebbd52"/>
<circle cx="577.1" cy="144.55" r="2" fill="#ebbd52"/>
<circle cx="577.1" cy="141.4" r="2" fill="#ebbd52"/>
<circle cx="577.1" cy="138.25" r="2" fill="#ebbd52"/>
<circle cx="580.07" cy="154" r="2" fill="#e67a32"/>
<circle cx="580.07" cy="150.85" r="2" fill="#f0aa62"/>
<circle cx="580.07" cy="147.7" r="2" fill="#ebbd52"/>
<circle cx="580.07" cy="144.55" r="2" fill="#ebbd52"/>
<circle cx="580.07" cy="141.4" r="2" fill="#ebbd52"/>
<circle cx="580.07" cy="138.25" r="2" fill="#ebbd52"/>
<circle cx="583.03" cy="154" r="2" fill="#e67a32"/>
<circle cx="583.03" cy="150.85" r="2" fill="#f0aa62"/>
<circle cx="583.03" cy="147.7" r="2" fill="#ebbd52"/>
<circle cx="583.03" cy="144.55" r="2" fill="#ebbd52"/>
<circle cx="583.03" cy="141.4" r="2" fill="#ebbd52"/>
<circle cx="586" cy="154" r="2" fill="#e67a32"/>
<circle cx="586" cy="150.85" r="2" fill="#f0aa62"/>
<circle cx="586" cy="147.7" r="2" fill="#ebbd52"/>
<circle cx="586" cy="144.55" r="2" fill="#ebbd52"/>
<circle cx="590" cy="156" r="2" fill="#e67a32"/>
<circle cx="590" cy="152.85" r="2" fill="#e67a32"/>
<circle cx="590" cy="149.7" r="2" fill="#f0aa62"/>
<circle cx="593" cy="156" r="2" fill="#e67a32"/>
<circle cx="593" cy="152.85" r="2" fill="#e67a32"/>
<circle cx="593" cy="149.7" r="2" fill="#f0aa62"/>
<circle cx="596" cy="156" r="2" fill="#e67a32"/>
<circle cx="596" cy="152.85" r="2" fill="#e67a32"/>
<circle cx="596" cy="149.7" r="2" fill="#f0aa62"/>
<circle cx="599" cy="156" r="2" fill="#e67a32"/>
<circle cx="599" cy="152.85" r="2" fill="#e67a32"/>
<circle cx="599" cy="149.7" r="2" fill="#f0aa62"/>
<circle cx="549.2" cy="115.5" r="2" fill="#3b98c2"/>
<circle cx="549.2" cy="118.6" r="2" fill="#3b98c2"/>
<circle cx="549.2" cy="121.7" r="2" fill="#3b98c2"/>
<circle cx="549.2" cy="124.8" r="2" fill="#3b98c2"/>
<circle cx="549.2" cy="127.9" r="2" fill="#3b98c2"/>
<circle cx="549.2" cy="131" r="2" fill="#92c6e0"/>
<circle cx="549.2" cy="134.1" r="2" fill="#92c6e0"/>
<circle cx="549.2" cy="137.2" r="2" fill="#92c6e0"/>
<circle cx="549.2" cy="140.3" r="2" fill="#3b98c2"/>
<circle cx="549.2" cy="143.4" r="2" fill="#175c7c"/>
<circle cx="555.8" cy="115.5" r="2" fill="#3b98c2"/>
<circle cx="555.8" cy="118.6" r="2" fill="#3b98c2"/>
<circle cx="555.8" cy="121.7" r="2" fill="#3b98c2"/>
<circle cx="555.8" cy="124.8" r="2" fill="#3b98c2"/>
<circle cx="555.8" cy="127.9" r="2" fill="#3b98c2"/>
<circle cx="555.8" cy="131" r="2" fill="#92c6e0"/>
<circle cx="555.8" cy="134.1" r="2" fill="#92c6e0"/>
<circle cx="555.8" cy="137.2" r="2" fill="#92c6e0"/>
<circle cx="555.8" cy="140.3" r="2" fill="#3b98c2"/>
<circle cx="555.8" cy="143.4" r="2" fill="#175c7c"/>
<circle cx="562.8" cy="127.8" r="2" fill="#92c6e0"/>
<circle cx="562.8" cy="130.9" r="2" fill="#92c6e0"/>
<circle cx="562.8" cy="134" r="2" fill="#92c6e0"/>
<circle cx="562.8" cy="137.1" r="2" fill="#92c6e0"/>
<circle cx="562.8" cy="140.2" r="2" fill="#92c6e0"/>
<circle cx="562.8" cy="143.3" r="2" fill="#3b98c2"/>
<circle cx="562.8" cy="146.4" r="2" fill="#3b98c2"/>
<circle cx="570" cy="137.4" r="2" fill="#9b3222"/>
<circle cx="573" cy="137.4" r="2" fill="#9b3222"/>
<circle cx="576" cy="137.4" r="2" fill="#9b3222"/>
<circle cx="579" cy="137.4" r="2" fill="#9b3222"/>
<circle cx="582" cy="137.4" r="2" fill="#9b3222"/>
<circle cx="623.6" cy="118.1" r="1.65" fill="#5e140c"/>
<circle cx="623.6" cy="122.1" r="1.65" fill="#5e140c"/>
<circle cx="623.6" cy="125.1" r="1.65" fill="#5e140c"/>
<circle cx="628.6" cy="121.1" r="1.65" fill="#5e140c"/>
<circle cx="628.6" cy="125.1" r="1.65" fill="#5e140c"/>
<circle cx="628.6" cy="128.1" r="1.65" fill="#5e140c"/>
<circle cx="628.6" cy="131.1" r="1.65" fill="#5e140c"/>
<circle cx="628.6" cy="134.2" r="1.65" fill="#5e140c"/>
<circle cx="626.1" cy="131.1" r="1.65" fill="#5e140c"/>
<circle cx="626.1" cy="134.2" r="1.65" fill="#5e140c"/>
<circle cx="626.1" cy="137.2" r="1.65" fill="#9b3222"/>
<circle cx="628.6" cy="137.2" r="1.65" fill="#9b3222"/>
<circle cx="623.6" cy="140.2" r="1.65" fill="#9b3222"/>
<circle cx="626.1" cy="140.2" r="1.65" fill="#9b3222"/>
<circle cx="623.6" cy="143.2" r="1.65" fill="#9b3222"/>
<circle cx="626.1" cy="143.2" r="1.65" fill="#9b3222"/>
<circle cx="623.6" cy="146.8" r="1.65" fill="#ebbd52"/>
<circle cx="623.6" cy="149.8" r="1.65" fill="#ebbd52"/>
<circle cx="626.5" cy="149.8" r="1.65" fill="#ebbd52"/>
<circle cx="629" cy="149.8" r="1.65" fill="#ebbd52"/>
<circle cx="623.6" cy="152.8" r="1.65" fill="#ebbd52"/>
<circle cx="626.5" cy="152.8" r="1.65" fill="#ebbd52"/>
<circle cx="629" cy="152.8" r="1.65" fill="#ebbd52"/>
<circle cx="635.2" cy="153.3" r="1.65" fill="#ebbd52"/>
<circle cx="639.2" cy="153.3" r="1.65" fill="#ebbd52"/>
<circle cx="642.7" cy="153.3" r="1.65" fill="#ebbd52"/>
<circle cx="643.8" cy="149.8" r="1.65" fill="#ebbd52"/>
<circle cx="649.3" cy="146.8" r="1.65" fill="#ebbd52"/>
<circle cx="648.3" cy="149.8" r="1.65" fill="#ebbd52"/>
<circle cx="651" cy="149.8" r="1.65" fill="#ebbd52"/>
<circle cx="655.3" cy="149.8" r="1.65" fill="#ebbd52"/>
<circle cx="650.3" cy="152.8" r="1.65" fill="#ebbd52"/>
<circle cx="653.5" cy="152.8" r="1.65" fill="#ebbd52"/>
<circle cx="657.3" cy="152.8" r="1.65" fill="#ebbd52"/>
<circle cx="620.6" cy="146.3" r="1.65" fill="#92c6e0"/>
<circle cx="620.6" cy="149.3" r="1.65" fill="#92c6e0"/>
<circle cx="620.6" cy="152.3" r="1.65" fill="#92c6e0"/>
<circle cx="616.6" cy="149.8" r="1.65" fill="#3b98c2"/>
<circle cx="620.6" cy="155.8" r="1.65" fill="#3b98c2"/>
<circle cx="616.6" cy="152.8" r="1.65" fill="#175c7c"/>
<circle cx="620.6" cy="159.3" r="1.65" fill="#175c7c"/>
<circle cx="626.1" cy="155.8" r="1.65" fill="#f0aa62"/>
<circle cx="629" cy="155.8" r="1.65" fill="#f0aa62"/>
<circle cx="633.7" cy="156.3" r="1.65" fill="#f0aa62"/>
<circle cx="637" cy="156.3" r="1.65" fill="#f0aa62"/>
<circle cx="640.2" cy="156.3" r="1.65" fill="#f0aa62"/>
<circle cx="642.2" cy="156.3" r="1.65" fill="#f0aa62"/>
<circle cx="645" cy="156.3" r="1.65" fill="#f0aa62"/>
<circle cx="648.3" cy="156.3" r="1.65" fill="#f0aa62"/>
<circle cx="651.5" cy="156.3" r="1.65" fill="#f0aa62"/>
<circle cx="654.5" cy="156.3" r="1.65" fill="#f0aa62"/>
<circle cx="656.3" cy="156.3" r="1.65" fill="#f0aa62"/>
<circle cx="610" cy="153.3" r="1.65" fill="#f0aa62"/>
<circle cx="623.6" cy="159.3" r="1.65" fill="#e67a32"/>
<circle cx="628.1" cy="159.3" r="1.65" fill="#e67a32"/>
<circle cx="632.2" cy="159.3" r="1.65" fill="#e67a32"/>
<circle cx="642.2" cy="159.3" r="1.65" fill="#e67a32"/>
<circle cx="646.8" cy="159.3" r="1.65" fill="#e67a32"/>
<circle cx="648.3" cy="159.3" r="1.65" fill="#e67a32"/>
<circle cx="651.5" cy="159.3" r="1.65" fill="#e67a32"/>
<circle cx="654.5" cy="159.3" r="1.65" fill="#e67a32"/>
<circle cx="656.3" cy="159.3" r="1.65" fill="#e67a32"/>
<circle cx="611.5" cy="156.3" r="1.65" fill="#e67a32"/>
<circle cx="635.2" cy="159.3" r="1.65" fill="#f3dc8c"/>
<circle cx="652.8" cy="149.8" r="1.65" fill="#9b3222"/>
<line x1="542.7" y1="63.9" x2="542.7" y2="249.8" stroke="#bdbdbd" stroke-width="1"/>
<line x1="542.2" y1="249.8" x2="662.2" y2="249.8" stroke="#7a7a7a" stroke-width="1"/>
<line x1="540.1" y1="222.1" x2="542.7" y2="222.1" stroke="#bdbdbd" stroke-width="1"/>
<text x="537.7" y="222.1" font-size="7.8" text-anchor="end" fill="#1a1a1a" font-weight="normal" dominant-baseline="central">10</text>
<line x1="540.1" y1="191.3" x2="542.7" y2="191.3" stroke="#bdbdbd" stroke-width="1"/>
<text x="537.7" y="191.3" font-size="7.8" text-anchor="end" fill="#1a1a1a" font-weight="normal" dominant-baseline="central">20</text>
<line x1="540.1" y1="159.2" x2="542.7" y2="159.2" stroke="#bdbdbd" stroke-width="1"/>
<text x="537.7" y="159.2" font-size="7.8" text-anchor="end" fill="#1a1a1a" font-weight="normal" dominant-baseline="central">30</text>
<line x1="540.1" y1="127.9" x2="542.7" y2="127.9" stroke="#bdbdbd" stroke-width="1"/>
<text x="537.7" y="127.9" font-size="7.8" text-anchor="end" fill="#1a1a1a" font-weight="normal" dominant-baseline="central">40</text>
<line x1="540.1" y1="96.8" x2="542.7" y2="96.8" stroke="#bdbdbd" stroke-width="1"/>
<text x="537.7" y="96.8" font-size="7.8" text-anchor="end" fill="#1a1a1a" font-weight="normal" dominant-baseline="central">50</text>
<line x1="540.1" y1="65.2" x2="542.7" y2="65.2" stroke="#bdbdbd" stroke-width="1"/>
<text x="537.7" y="65.2" font-size="7.8" text-anchor="end" fill="#1a1a1a" font-weight="normal" dominant-baseline="central">60</text>
<line x1="571" y1="249.8" x2="571" y2="252.4" stroke="#7a7a7a" stroke-width="1"/>
<text x="571" y="259" font-size="7.8" text-anchor="middle" fill="#1a1a1a" font-weight="normal" dominant-baseline="central">1,000</text>
<line x1="601.1" y1="249.8" x2="601.1" y2="252.4" stroke="#7a7a7a" stroke-width="1"/>
<text x="601.1" y="259" font-size="7.8" text-anchor="middle" fill="#1a1a1a" font-weight="normal" dominant-baseline="central">2,000</text>
<line x1="631.4" y1="249.8" x2="631.4" y2="252.4" stroke="#7a7a7a" stroke-width="1"/>
<text x="631.4" y="259" font-size="7.8" text-anchor="middle" fill="#1a1a1a" font-weight="normal" dominant-baseline="central">3,000</text>
<line x1="660.9" y1="249.8" x2="660.9" y2="252.4" stroke="#7a7a7a" stroke-width="1"/>
<text x="660.9" y="259" font-size="7.8" text-anchor="middle" fill="#1a1a1a" font-weight="normal" dominant-baseline="central">4,000</text>
<text x="602.8" y="269.8" font-size="7.8" text-anchor="middle" fill="#1a1a1a" font-weight="normal" dominant-baseline="central">Elevation (masl)</text>
<text x="523" y="52.5" font-size="10.5" text-anchor="start" fill="#1a1a1a" font-weight="bold" dominant-baseline="central">e</text>
<line x1="542.7" y1="120.1" x2="661.5" y2="120.1" stroke="#ee1a22" stroke-width="1.45" stroke-dasharray="3.85 3.3"/>
<polygon points="571,242.1 571,181 574.9,199 577.5,217 581.3,236.2 583.9,239 594.2,241.4 609.5,240 612,241.5 612,242.1" fill="rgba(190,70,70,0.55)" stroke="none" stroke-width="0"/>
<polygon points="571,242.1 571,199 573.6,209.3 574.9,201.6 576.2,217 578,208 580.8,238.8 591.6,241.4 592.9,237.5 594.2,241.4 596.7,241.4 600.6,224.7 603.1,241.4 612,241.4 612,242.1" fill="rgba(80,130,200,0.45)" stroke="none" stroke-width="0"/>
<polyline points="571,181 574.9,199 577.5,217 581.3,236.2 583.9,239 594.2,241.4 609.5,240 612,241.5" fill="none" stroke="#b32f32" stroke-width="1" stroke-linejoin="round"/>
<polyline points="571,199 573.6,209.3 574.9,201.6 576.2,217 578,208 580.8,238.8 591.6,241.4 592.9,237.5 594.2,241.4 596.7,241.4 600.6,224.7 603.1,241.4 612,241.4" fill="none" stroke="#4a86c4" stroke-width="1" stroke-linejoin="round"/>
<line x1="570.5" y1="179.8" x2="570.5" y2="245.2" stroke="#a8a8a8" stroke-width="0.9"/>
<line x1="570.05" y1="245.2" x2="613.4" y2="245.2" stroke="#858585" stroke-width="0.9"/>
<line x1="568.3" y1="181" x2="570.5" y2="181" stroke="#a8a8a8" stroke-width="0.9"/>
<text x="566.3" y="181" font-size="7.2" text-anchor="end" fill="#1a1a1a" font-weight="normal" dominant-baseline="central">60</text>
<line x1="568.3" y1="201.6" x2="570.5" y2="201.6" stroke="#a8a8a8" stroke-width="0.9"/>
<text x="566.3" y="201.6" font-size="7.2" text-anchor="end" fill="#1a1a1a" font-weight="normal" dominant-baseline="central">40</text>
<line x1="568.3" y1="222.1" x2="570.5" y2="222.1" stroke="#a8a8a8" stroke-width="0.9"/>
<text x="566.3" y="222.1" font-size="7.2" text-anchor="end" fill="#1a1a1a" font-weight="normal" dominant-baseline="central">20</text>
<line x1="568.3" y1="242.1" x2="570.5" y2="242.1" stroke="#a8a8a8" stroke-width="0.9"/>
<text x="566.3" y="242.1" font-size="7.2" text-anchor="end" fill="#1a1a1a" font-weight="normal" dominant-baseline="central">0</text>
<line x1="581" y1="245.2" x2="581" y2="247.4" stroke="#858585" stroke-width="0.9"/>
<line x1="592" y1="245.2" x2="592" y2="247.4" stroke="#858585" stroke-width="0.9"/>
<line x1="603" y1="245.2" x2="603" y2="247.4" stroke="#858585" stroke-width="0.9"/>
<text x="548" y="211" font-size="7.5" text-anchor="middle" fill="#1a1a1a" font-weight="normal" dominant-baseline="central" transform="rotate(-90 548 211)">Critical temp. (%)</text>
<polygon points="272,386 281,386 281,397 301.5,397 310,394 320,394 320,405 333,405 337,410 345,411 373.3,408 373.5,502.8 355,502.8 337.4,487.4 319.5,474.6 301.5,459 281,445 272,435" fill="#d3d3d3" stroke="none" stroke-width="0"/>
<rect x="256.7" y="390" width="7.7" height="50" rx="3.5" fill="#d3d3d3"/>
<circle cx="258.8" cy="396.85" r="1.85" fill="#777777"/>
<circle cx="258.8" cy="399.64" r="1.85" fill="#777777"/>
<circle cx="258.8" cy="402.43" r="1.85" fill="#777777"/>
<circle cx="258.8" cy="405.23" r="1.85" fill="#777777"/>
<circle cx="258.8" cy="408.02" r="1.85" fill="#777777"/>
<circle cx="258.8" cy="410.81" r="1.85" fill="#777777"/>
<circle cx="258.8" cy="413.6" r="1.85" fill="#777777"/>
<circle cx="258.8" cy="416.4" r="1.85" fill="#777777"/>
<circle cx="258.8" cy="419.19" r="1.85" fill="#777777"/>
<circle cx="258.8" cy="421.98" r="1.85" fill="#777777"/>
<circle cx="258.8" cy="424.77" r="1.85" fill="#777777"/>
<circle cx="258.8" cy="427.57" r="1.85" fill="#777777"/>
<circle cx="258.8" cy="430.36" r="1.85" fill="#777777"/>
<circle cx="258.8" cy="433.15" r="1.85" fill="#777777"/>
<circle cx="261.6" cy="396.85" r="1.85" fill="#777777"/>
<circle cx="261.6" cy="399.64" r="1.85" fill="#777777"/>
<circle cx="261.6" cy="402.43" r="1.85" fill="#777777"/>
<circle cx="261.6" cy="405.23" r="1.85" fill="#777777"/>
<circle cx="261.6" cy="408.02" r="1.85" fill="#777777"/>
<circle cx="261.6" cy="410.81" r="1.85" fill="#777777"/>
<circle cx="261.6" cy="413.6" r="1.85" fill="#777777"/>
<circle cx="261.6" cy="416.4" r="1.85" fill="#777777"/>
<circle cx="261.6" cy="419.19" r="1.85" fill="#777777"/>
<circle cx="261.6" cy="421.98" r="1.85" fill="#777777"/>
<circle cx="261.6" cy="424.77" r="1.85" fill="#777777"/>
<circle cx="261.6" cy="427.57" r="1.85" fill="#777777"/>
<circle cx="261.6" cy="430.36" r="1.85" fill="#777777"/>
<circle cx="261.6" cy="433.15" r="1.85" fill="#777777"/>
<circle cx="273.3" cy="390.55" r="1.85" fill="#777777"/>
<circle cx="273.3" cy="393.49" r="1.85" fill="#777777"/>
<circle cx="273.3" cy="396.44" r="1.85" fill="#777777"/>
<circle cx="273.3" cy="399.38" r="1.85" fill="#777777"/>
<circle cx="273.3" cy="402.32" r="1.85" fill="#777777"/>
<circle cx="273.3" cy="405.26" r="1.85" fill="#777777"/>
<circle cx="273.3" cy="408.21" r="1.85" fill="#777777"/>
<circle cx="273.3" cy="411.15" r="1.85" fill="#777777"/>
<circle cx="273.3" cy="414.09" r="1.85" fill="#777777"/>
<circle cx="273.3" cy="417.04" r="1.85" fill="#777777"/>
<circle cx="273.3" cy="419.98" r="1.85" fill="#777777"/>
<circle cx="273.3" cy="422.92" r="1.85" fill="#777777"/>
<circle cx="273.3" cy="425.86" r="1.85" fill="#777777"/>
<circle cx="273.3" cy="428.81" r="1.85" fill="#777777"/>
<circle cx="273.3" cy="431.75" r="1.85" fill="#777777"/>
<circle cx="282.3" cy="401.55" r="1.85" fill="#777777"/>
<circle cx="282.3" cy="404.35" r="1.85" fill="#777777"/>
<circle cx="282.3" cy="407.15" r="1.85" fill="#777777"/>
<circle cx="282.3" cy="409.95" r="1.85" fill="#777777"/>
<circle cx="282.3" cy="412.75" r="1.85" fill="#777777"/>
<circle cx="282.3" cy="415.55" r="1.85" fill="#777777"/>
<circle cx="282.3" cy="418.35" r="1.85" fill="#777777"/>
<circle cx="282.3" cy="421.15" r="1.85" fill="#777777"/>
<circle cx="282.3" cy="423.95" r="1.85" fill="#777777"/>
<circle cx="282.3" cy="426.75" r="1.85" fill="#777777"/>
<circle cx="282.3" cy="429.55" r="1.85" fill="#777777"/>
<circle cx="282.3" cy="432.35" r="1.85" fill="#777777"/>
<circle cx="282.3" cy="435.15" r="1.85" fill="#777777"/>
<circle cx="282.3" cy="437.95" r="1.85" fill="#777777"/>
<circle cx="282.3" cy="440.75" r="1.85" fill="#777777"/>
<circle cx="291.3" cy="401.55" r="1.85" fill="#777777"/>
<circle cx="291.3" cy="404.35" r="1.85" fill="#777777"/>
<circle cx="291.3" cy="407.15" r="1.85" fill="#777777"/>
<circle cx="291.3" cy="409.95" r="1.85" fill="#777777"/>
<circle cx="291.3" cy="412.75" r="1.85" fill="#777777"/>
<circle cx="291.3" cy="415.55" r="1.85" fill="#777777"/>
<circle cx="291.3" cy="418.35" r="1.85" fill="#777777"/>
<circle cx="291.3" cy="421.15" r="1.85" fill="#777777"/>
<circle cx="291.3" cy="423.95" r="1.85" fill="#777777"/>
<circle cx="291.3" cy="426.75" r="1.85" fill="#777777"/>
<circle cx="291.3" cy="429.55" r="1.85" fill="#777777"/>
<circle cx="291.3" cy="432.35" r="1.85" fill="#777777"/>
<circle cx="291.3" cy="435.15" r="1.85" fill="#777777"/>
<circle cx="291.3" cy="437.95" r="1.85" fill="#777777"/>
<circle cx="291.3" cy="440.75" r="1.85" fill="#777777"/>
<circle cx="299" cy="405.15" r="1.85" fill="#777777"/>
<circle cx="299" cy="408.07" r="1.85" fill="#777777"/>
<circle cx="299" cy="411" r="1.85" fill="#777777"/>
<circle cx="299" cy="413.92" r="1.85" fill="#777777"/>
<circle cx="299" cy="416.84" r="1.85" fill="#777777"/>
<circle cx="299" cy="419.77" r="1.85" fill="#777777"/>
<circle cx="299" cy="422.69" r="1.85" fill="#777777"/>
<circle cx="299" cy="425.61" r="1.85" fill="#777777"/>
<circle cx="299" cy="428.53" r="1.85" fill="#777777"/>
<circle cx="299" cy="431.46" r="1.85" fill="#777777"/>
<circle cx="299" cy="434.38" r="1.85" fill="#777777"/>
<circle cx="299" cy="437.3" r="1.85" fill="#777777"/>
<circle cx="299" cy="440.23" r="1.85" fill="#777777"/>
<circle cx="299" cy="443.15" r="1.85" fill="#777777"/>
<circle cx="309.3" cy="413.45" r="1.85" fill="#777777"/>
<circle cx="309.3" cy="416.21" r="1.85" fill="#777777"/>
<circle cx="309.3" cy="418.98" r="1.85" fill="#777777"/>
<circle cx="309.3" cy="421.74" r="1.85" fill="#777777"/>
<circle cx="309.3" cy="424.51" r="1.85" fill="#777777"/>
<circle cx="309.3" cy="427.27" r="1.85" fill="#777777"/>
<circle cx="309.3" cy="430.04" r="1.85" fill="#777777"/>
<circle cx="309.3" cy="432.8" r="1.85" fill="#777777"/>
<circle cx="309.3" cy="435.56" r="1.85" fill="#777777"/>
<circle cx="309.3" cy="438.33" r="1.85" fill="#777777"/>
<circle cx="309.3" cy="441.09" r="1.85" fill="#777777"/>
<circle cx="309.3" cy="443.86" r="1.85" fill="#777777"/>
<circle cx="309.3" cy="446.62" r="1.85" fill="#777777"/>
<circle cx="309.3" cy="449.39" r="1.85" fill="#777777"/>
<circle cx="309.3" cy="452.15" r="1.85" fill="#777777"/>
<circle cx="313.5" cy="412.35" r="1.85" fill="#777777"/>
<circle cx="313.5" cy="415.19" r="1.85" fill="#777777"/>
<circle cx="313.5" cy="418.04" r="1.85" fill="#777777"/>
<circle cx="313.5" cy="420.88" r="1.85" fill="#777777"/>
<circle cx="313.5" cy="423.72" r="1.85" fill="#777777"/>
<circle cx="313.5" cy="426.56" r="1.85" fill="#777777"/>
<circle cx="313.5" cy="429.41" r="1.85" fill="#777777"/>
<circle cx="313.5" cy="432.25" r="1.85" fill="#777777"/>
<circle cx="313.5" cy="435.09" r="1.85" fill="#777777"/>
<circle cx="313.5" cy="437.94" r="1.85" fill="#777777"/>
<circle cx="313.5" cy="440.78" r="1.85" fill="#777777"/>
<circle cx="313.5" cy="443.62" r="1.85" fill="#777777"/>
<circle cx="313.5" cy="446.46" r="1.85" fill="#777777"/>
<circle cx="313.5" cy="449.31" r="1.85" fill="#777777"/>
<circle cx="313.5" cy="452.15" r="1.85" fill="#777777"/>
<circle cx="330.35" cy="421.35" r="1.85" fill="#777777"/>
<circle cx="330.35" cy="424.1" r="1.85" fill="#777777"/>
<circle cx="330.35" cy="426.86" r="1.85" fill="#777777"/>
<circle cx="330.35" cy="429.61" r="1.85" fill="#777777"/>
<circle cx="330.35" cy="432.37" r="1.85" fill="#777777"/>
<circle cx="330.35" cy="435.12" r="1.85" fill="#777777"/>
<circle cx="330.35" cy="437.87" r="1.85" fill="#777777"/>
<circle cx="330.35" cy="440.63" r="1.85" fill="#777777"/>
<circle cx="330.35" cy="443.38" r="1.85" fill="#777777"/>
<circle cx="330.35" cy="446.13" r="1.85" fill="#777777"/>
<circle cx="330.35" cy="448.89" r="1.85" fill="#777777"/>
<circle cx="330.35" cy="451.64" r="1.85" fill="#777777"/>
<circle cx="330.35" cy="454.4" r="1.85" fill="#777777"/>
<circle cx="330.35" cy="457.15" r="1.85" fill="#777777"/>
<circle cx="334.1" cy="421.35" r="1.85" fill="#777777"/>
<circle cx="334.1" cy="424.1" r="1.85" fill="#777777"/>
<circle cx="334.1" cy="426.86" r="1.85" fill="#777777"/>
<circle cx="334.1" cy="429.61" r="1.85" fill="#777777"/>
<circle cx="334.1" cy="432.37" r="1.85" fill="#777777"/>
<circle cx="334.1" cy="435.12" r="1.85" fill="#777777"/>
<circle cx="334.1" cy="437.87" r="1.85" fill="#777777"/>
<circle cx="334.1" cy="440.63" r="1.85" fill="#777777"/>
<circle cx="334.1" cy="443.38" r="1.85" fill="#777777"/>
<circle cx="334.1" cy="446.13" r="1.85" fill="#777777"/>
<circle cx="334.1" cy="448.89" r="1.85" fill="#777777"/>
<circle cx="334.1" cy="451.64" r="1.85" fill="#777777"/>
<circle cx="334.1" cy="454.4" r="1.85" fill="#777777"/>
<circle cx="334.1" cy="457.15" r="1.85" fill="#777777"/>
<circle cx="351.55" cy="432.85" r="1.85" fill="#777777"/>
<circle cx="351.55" cy="435.63" r="1.85" fill="#777777"/>
<circle cx="351.55" cy="438.4" r="1.85" fill="#777777"/>
<circle cx="351.55" cy="441.18" r="1.85" fill="#777777"/>
<circle cx="351.55" cy="443.96" r="1.85" fill="#777777"/>
<circle cx="351.55" cy="446.73" r="1.85" fill="#777777"/>
<circle cx="351.55" cy="449.51" r="1.85" fill="#777777"/>
<circle cx="351.55" cy="452.29" r="1.85" fill="#777777"/>
<circle cx="351.55" cy="455.07" r="1.85" fill="#777777"/>
<circle cx="351.55" cy="457.84" r="1.85" fill="#777777"/>
<circle cx="351.55" cy="460.62" r="1.85" fill="#777777"/>
<circle cx="351.55" cy="463.4" r="1.85" fill="#777777"/>
<circle cx="351.55" cy="466.17" r="1.85" fill="#777777"/>
<circle cx="351.55" cy="468.95" r="1.85" fill="#777777"/>
<circle cx="354.1" cy="432.85" r="1.85" fill="#777777"/>
<circle cx="354.1" cy="435.63" r="1.85" fill="#777777"/>
<circle cx="354.1" cy="438.4" r="1.85" fill="#777777"/>
<circle cx="354.1" cy="441.18" r="1.85" fill="#777777"/>
<circle cx="354.1" cy="443.96" r="1.85" fill="#777777"/>
<circle cx="354.1" cy="446.73" r="1.85" fill="#777777"/>
<circle cx="354.1" cy="449.51" r="1.85" fill="#777777"/>
<circle cx="354.1" cy="452.29" r="1.85" fill="#777777"/>
<circle cx="354.1" cy="455.07" r="1.85" fill="#777777"/>
<circle cx="354.1" cy="457.84" r="1.85" fill="#777777"/>
<circle cx="354.1" cy="460.62" r="1.85" fill="#777777"/>
<circle cx="354.1" cy="463.4" r="1.85" fill="#777777"/>
<circle cx="354.1" cy="466.17" r="1.85" fill="#777777"/>
<circle cx="354.1" cy="468.95" r="1.85" fill="#777777"/>
<circle cx="259.05" cy="393" r="2" fill="#e67a32"/>
<circle cx="259.05" cy="390.15" r="2" fill="#f0aa62"/>
<circle cx="259.05" cy="387.31" r="2" fill="#ebbd52"/>
<circle cx="259.05" cy="384.46" r="2" fill="#ebbd52"/>
<circle cx="259.05" cy="381.62" r="2" fill="#ebbd52"/>
<circle cx="259.05" cy="378.77" r="2" fill="#9b3222"/>
<circle cx="259.05" cy="375.93" r="2" fill="#9b3222"/>
<circle cx="259.05" cy="373.08" r="2" fill="#9b3222"/>
<circle cx="259.05" cy="370.24" r="2" fill="#5e140c"/>
<circle cx="259.05" cy="367.39" r="2" fill="#5e140c"/>
<circle cx="262.8" cy="373" r="2" fill="#9b3222"/>
<circle cx="263.5" cy="383" r="2" fill="#f0aa62"/>
<circle cx="264.5" cy="386.5" r="2" fill="#f0aa62"/>
<circle cx="264.5" cy="390" r="2" fill="#e67a32"/>
<circle cx="274.3" cy="384" r="2" fill="#e67a32"/>
<circle cx="274.3" cy="381.15" r="2" fill="#f0aa62"/>
<circle cx="274.3" cy="378.31" r="2" fill="#ebbd52"/>
<circle cx="274.3" cy="375.46" r="2" fill="#ebbd52"/>
<circle cx="274.3" cy="372.62" r="2" fill="#ebbd52"/>
<circle cx="274.3" cy="369.77" r="2" fill="#9b3222"/>
<circle cx="274.3" cy="366.93" r="2" fill="#9b3222"/>
<circle cx="274.3" cy="364.08" r="2" fill="#9b3222"/>
<circle cx="274.3" cy="361.24" r="2" fill="#5e140c"/>
<circle cx="274.3" cy="358.39" r="2" fill="#5e140c"/>
<circle cx="274.3" cy="355.55" r="2" fill="#5e140c"/>
<circle cx="274.3" cy="352.7" r="2" fill="#5e140c"/>
<circle cx="274.3" cy="349.86" r="2" fill="#5e140c"/>
<circle cx="274.3" cy="347.01" r="2" fill="#5e140c"/>
<circle cx="274.3" cy="344.17" r="2" fill="#5e140c"/>
<circle cx="276.4" cy="384" r="2" fill="#e67a32"/>
<circle cx="276.4" cy="381.15" r="2" fill="#f0aa62"/>
<circle cx="276.4" cy="378.31" r="2" fill="#ebbd52"/>
<circle cx="276.4" cy="375.46" r="2" fill="#ebbd52"/>
<circle cx="276.4" cy="372.62" r="2" fill="#ebbd52"/>
<circle cx="276.4" cy="369.77" r="2" fill="#9b3222"/>
<circle cx="276.4" cy="366.93" r="2" fill="#9b3222"/>
<circle cx="276.4" cy="364.08" r="2" fill="#9b3222"/>
<circle cx="276.4" cy="361.24" r="2" fill="#5e140c"/>
<circle cx="276.4" cy="358.39" r="2" fill="#5e140c"/>
<circle cx="276.4" cy="355.55" r="2" fill="#5e140c"/>
<circle cx="276.4" cy="352.7" r="2" fill="#5e140c"/>
<circle cx="276.4" cy="349.86" r="2" fill="#5e140c"/>
<circle cx="276.4" cy="347.01" r="2" fill="#5e140c"/>
<circle cx="276.4" cy="344.17" r="2" fill="#5e140c"/>
<circle cx="276.4" cy="341.32" r="2" fill="#5e140c"/>
<circle cx="278.5" cy="384" r="2" fill="#e67a32"/>
<circle cx="278.5" cy="381.15" r="2" fill="#f0aa62"/>
<circle cx="278.5" cy="378.31" r="2" fill="#ebbd52"/>
<circle cx="278.5" cy="375.46" r="2" fill="#ebbd52"/>
<circle cx="278.5" cy="372.62" r="2" fill="#ebbd52"/>
<circle cx="278.5" cy="369.77" r="2" fill="#9b3222"/>
<circle cx="278.5" cy="366.93" r="2" fill="#9b3222"/>
<circle cx="278.5" cy="364.08" r="2" fill="#9b3222"/>
<circle cx="278.5" cy="361.24" r="2" fill="#5e140c"/>
<circle cx="278.5" cy="358.39" r="2" fill="#5e140c"/>
<circle cx="278.5" cy="355.55" r="2" fill="#5e140c"/>
<circle cx="278.5" cy="352.7" r="2" fill="#5e140c"/>
<circle cx="278.5" cy="349.86" r="2" fill="#5e140c"/>
<circle cx="278.5" cy="347.01" r="2" fill="#5e140c"/>
<circle cx="278.5" cy="344.17" r="2" fill="#5e140c"/>
<circle cx="278.5" cy="341.32" r="2" fill="#5e140c"/>
<circle cx="282.5" cy="395" r="2" fill="#e67a32"/>
<circle cx="282.5" cy="392.15" r="2" fill="#f0aa62"/>
<circle cx="282.5" cy="389.31" r="2" fill="#ebbd52"/>
<circle cx="282.5" cy="386.46" r="2" fill="#ebbd52"/>
<circle cx="282.5" cy="383.62" r="2" fill="#ebbd52"/>
<circle cx="282.5" cy="380.77" r="2" fill="#ebbd52"/>
<circle cx="282.5" cy="377.93" r="2" fill="#9b3222"/>
<circle cx="282.5" cy="375.08" r="2" fill="#9b3222"/>
<circle cx="282.5" cy="372.24" r="2" fill="#9b3222"/>
<circle cx="282.5" cy="369.39" r="2" fill="#5e140c"/>
<circle cx="282.5" cy="366.55" r="2" fill="#5e140c"/>
<circle cx="282.5" cy="363.7" r="2" fill="#5e140c"/>
<circle cx="282.5" cy="360.86" r="2" fill="#5e140c"/>
<circle cx="282.5" cy="358.01" r="2" fill="#5e140c"/>
<circle cx="282.5" cy="355.17" r="2" fill="#5e140c"/>
<circle cx="285.1" cy="395" r="2" fill="#e67a32"/>
<circle cx="285.1" cy="392.15" r="2" fill="#f0aa62"/>
<circle cx="285.1" cy="389.31" r="2" fill="#ebbd52"/>
<circle cx="285.1" cy="386.46" r="2" fill="#ebbd52"/>
<circle cx="285.1" cy="383.62" r="2" fill="#ebbd52"/>
<circle cx="285.1" cy="380.77" r="2" fill="#ebbd52"/>
<circle cx="285.1" cy="377.93" r="2" fill="#9b3222"/>
<circle cx="285.1" cy="375.08" r="2" fill="#9b3222"/>
<circle cx="285.1" cy="372.24" r="2" fill="#9b3222"/>
<circle cx="285.1" cy="369.39" r="2" fill="#5e140c"/>
<circle cx="285.1" cy="366.55" r="2" fill="#5e140c"/>
<circle cx="285.1" cy="363.7" r="2" fill="#5e140c"/>
<circle cx="285.1" cy="360.86" r="2" fill="#5e140c"/>
<circle cx="287.7" cy="395" r="2" fill="#e67a32"/>
<circle cx="287.7" cy="392.15" r="2" fill="#f0aa62"/>
<circle cx="287.7" cy="389.31" r="2" fill="#ebbd52"/>
<circle cx="287.7" cy="386.46" r="2" fill="#ebbd52"/>
<circle cx="287.7" cy="383.62" r="2" fill="#ebbd52"/>
<circle cx="287.7" cy="380.77" r="2" fill="#ebbd52"/>
<circle cx="287.7" cy="377.93" r="2" fill="#9b3222"/>
<circle cx="287.7" cy="375.08" r="2" fill="#9b3222"/>
<circle cx="287.7" cy="372.24" r="2" fill="#9b3222"/>
<circle cx="287.7" cy="369.39" r="2" fill="#5e140c"/>
<circle cx="287.7" cy="366.55" r="2" fill="#5e140c"/>
<circle cx="287.7" cy="363.7" r="2" fill="#5e140c"/>
<circle cx="287.7" cy="360.86" r="2" fill="#5e140c"/>
<circle cx="287.7" cy="358.01" r="2" fill="#5e140c"/>
<circle cx="287.7" cy="355.17" r="2" fill="#5e140c"/>
<circle cx="290.3" cy="395" r="2" fill="#e67a32"/>
<circle cx="290.3" cy="392.15" r="2" fill="#f0aa62"/>
<circle cx="290.3" cy="389.31" r="2" fill="#ebbd52"/>
<circle cx="290.3" cy="386.46" r="2" fill="#ebbd52"/>
<circle cx="290.3" cy="383.62" r="2" fill="#ebbd52"/>
<circle cx="290.3" cy="380.77" r="2" fill="#ebbd52"/>
<circle cx="290.3" cy="377.93" r="2" fill="#9b3222"/>
<circle cx="290.3" cy="375.08" r="2" fill="#9b3222"/>
<circle cx="290.3" cy="372.24" r="2" fill="#9b3222"/>
<circle cx="290.3" cy="369.39" r="2" fill="#5e140c"/>
<circle cx="290.3" cy="366.55" r="2" fill="#5e140c"/>
<circle cx="290.3" cy="363.7" r="2" fill="#5e140c"/>
<circle cx="290.3" cy="360.86" r="2" fill="#5e140c"/>
<circle cx="290.3" cy="358.01" r="2" fill="#5e140c"/>
<circle cx="290.3" cy="355.17" r="2" fill="#5e140c"/>
<circle cx="294.3" cy="395" r="2" fill="#e67a32"/>
<circle cx="294.3" cy="392.15" r="2" fill="#f0aa62"/>
<circle cx="294.3" cy="389.31" r="2" fill="#ebbd52"/>
<circle cx="294.3" cy="386.46" r="2" fill="#ebbd52"/>
<circle cx="294.3" cy="383.62" r="2" fill="#ebbd52"/>
<circle cx="294.3" cy="380.77" r="2" fill="#ebbd52"/>
<circle cx="294.3" cy="377.93" r="2" fill="#9b3222"/>
<circle cx="294.3" cy="375.08" r="2" fill="#9b3222"/>
<circle cx="294.3" cy="372.24" r="2" fill="#5e140c"/>
<circle cx="294.3" cy="369.39" r="2" fill="#5e140c"/>
<circle cx="294.3" cy="366.55" r="2" fill="#5e140c"/>
<circle cx="294.3" cy="363.7" r="2" fill="#5e140c"/>
<circle cx="294.3" cy="360.86" r="2" fill="#5e140c"/>
<circle cx="294.3" cy="358.01" r="2" fill="#5e140c"/>
<circle cx="294.3" cy="355.17" r="2" fill="#5e140c"/>
<circle cx="294.3" cy="352.32" r="2" fill="#5e140c"/>
<circle cx="296.65" cy="395" r="2" fill="#e67a32"/>
<circle cx="296.65" cy="392.15" r="2" fill="#f0aa62"/>
<circle cx="296.65" cy="389.31" r="2" fill="#ebbd52"/>
<circle cx="296.65" cy="386.46" r="2" fill="#ebbd52"/>
<circle cx="296.65" cy="383.62" r="2" fill="#ebbd52"/>
<circle cx="296.65" cy="380.77" r="2" fill="#ebbd52"/>
<circle cx="296.65" cy="377.93" r="2" fill="#9b3222"/>
<circle cx="296.65" cy="375.08" r="2" fill="#9b3222"/>
<circle cx="296.65" cy="372.24" r="2" fill="#5e140c"/>
<circle cx="296.65" cy="369.39" r="2" fill="#5e140c"/>
<circle cx="296.65" cy="366.55" r="2" fill="#5e140c"/>
<circle cx="296.65" cy="363.7" r="2" fill="#5e140c"/>
<circle cx="296.65" cy="360.86" r="2" fill="#5e140c"/>
<circle cx="296.65" cy="358.01" r="2" fill="#5e140c"/>
<circle cx="296.65" cy="355.17" r="2" fill="#5e140c"/>
<circle cx="299" cy="395" r="2" fill="#e67a32"/>
<circle cx="299" cy="392.15" r="2" fill="#f0aa62"/>
<circle cx="299" cy="389.31" r="2" fill="#ebbd52"/>
<circle cx="299" cy="386.46" r="2" fill="#ebbd52"/>
<circle cx="299" cy="383.62" r="2" fill="#ebbd52"/>
<circle cx="299" cy="380.77" r="2" fill="#ebbd52"/>
<circle cx="299" cy="377.93" r="2" fill="#9b3222"/>
<circle cx="299" cy="375.08" r="2" fill="#9b3222"/>
<circle cx="299" cy="372.24" r="2" fill="#5e140c"/>
<circle cx="299" cy="369.39" r="2" fill="#5e140c"/>
<circle cx="299" cy="366.55" r="2" fill="#5e140c"/>
<circle cx="299" cy="363.7" r="2" fill="#5e140c"/>
<circle cx="299" cy="360.86" r="2" fill="#5e140c"/>
<circle cx="302.4" cy="374.5" r="2" fill="#5e140c"/>
<circle cx="304.6" cy="375.7" r="2" fill="#5e140c"/>
<circle cx="303.39" cy="377.09" r="2" fill="#5e140c"/>
<circle cx="304.37" cy="379.67" r="2" fill="#5e140c"/>
<circle cx="306.57" cy="380.87" r="2" fill="#5e140c"/>
<circle cx="305.36" cy="382.26" r="2" fill="#5e140c"/>
<circle cx="306.34" cy="384.84" r="2" fill="#5e140c"/>
<circle cx="308.54" cy="386.04" r="2" fill="#5e140c"/>
<circle cx="307.33" cy="387.43" r="2" fill="#5e140c"/>
<circle cx="308.31" cy="390.01" r="2" fill="#5e140c"/>
<circle cx="310.51" cy="391.21" r="2" fill="#5e140c"/>
<circle cx="309.3" cy="392.6" r="2" fill="#5e140c"/>
<circle cx="305" cy="410.4" r="2" fill="#e67a32"/>
<circle cx="305" cy="407.55" r="2" fill="#f0aa62"/>
<circle cx="305" cy="404.71" r="2" fill="#ebbd52"/>
<circle cx="305" cy="401.86" r="2" fill="#ebbd52"/>
<circle cx="305" cy="399.02" r="2" fill="#ebbd52"/>
<circle cx="305" cy="396.17" r="2" fill="#ebbd52"/>
<circle cx="305" cy="393.33" r="2" fill="#9b3222"/>
<circle cx="307" cy="410.4" r="2" fill="#e67a32"/>
<circle cx="307" cy="407.55" r="2" fill="#f0aa62"/>
<circle cx="307" cy="404.71" r="2" fill="#ebbd52"/>
<circle cx="307" cy="401.86" r="2" fill="#ebbd52"/>
<circle cx="307" cy="399.02" r="2" fill="#ebbd52"/>
<circle cx="307" cy="396.17" r="2" fill="#ebbd52"/>
<circle cx="307" cy="393.33" r="2" fill="#9b3222"/>
<circle cx="309" cy="410.4" r="2" fill="#e67a32"/>
<circle cx="309" cy="407.55" r="2" fill="#f0aa62"/>
<circle cx="309" cy="404.71" r="2" fill="#ebbd52"/>
<circle cx="309" cy="401.86" r="2" fill="#ebbd52"/>
<circle cx="309" cy="399.02" r="2" fill="#ebbd52"/>
<circle cx="309" cy="396.17" r="2" fill="#ebbd52"/>
<circle cx="309" cy="393.33" r="2" fill="#9b3222"/>
<circle cx="322.5" cy="346.8" r="2" fill="#5e140c"/>
<circle cx="322" cy="407.5" r="2" fill="#e67a32"/>
<circle cx="322" cy="404.65" r="2" fill="#f0aa62"/>
<circle cx="322" cy="401.81" r="2" fill="#ebbd52"/>
<circle cx="322" cy="398.96" r="2" fill="#ebbd52"/>
<circle cx="322" cy="396.12" r="2" fill="#ebbd52"/>
<circle cx="322" cy="393.27" r="2" fill="#9b3222"/>
<circle cx="322" cy="390.43" r="2" fill="#9b3222"/>
<circle cx="322" cy="387.58" r="2" fill="#9b3222"/>
<circle cx="322" cy="384.74" r="2" fill="#9b3222"/>
<circle cx="322" cy="381.89" r="2" fill="#5e140c"/>
<circle cx="322" cy="379.05" r="2" fill="#5e140c"/>
<circle cx="322" cy="376.2" r="2" fill="#5e140c"/>
<circle cx="322" cy="373.36" r="2" fill="#5e140c"/>
<circle cx="322" cy="370.51" r="2" fill="#5e140c"/>
<circle cx="322" cy="361.98" r="2" fill="#5e140c"/>
<circle cx="322" cy="359.13" r="2" fill="#5e140c"/>
<circle cx="322" cy="356.29" r="2" fill="#5e140c"/>
<circle cx="324.12" cy="407.5" r="2" fill="#e67a32"/>
<circle cx="324.12" cy="404.65" r="2" fill="#f0aa62"/>
<circle cx="324.12" cy="401.81" r="2" fill="#ebbd52"/>
<circle cx="324.12" cy="398.96" r="2" fill="#ebbd52"/>
<circle cx="324.12" cy="396.12" r="2" fill="#ebbd52"/>
<circle cx="324.12" cy="393.27" r="2" fill="#9b3222"/>
<circle cx="324.12" cy="390.43" r="2" fill="#9b3222"/>
<circle cx="324.12" cy="387.58" r="2" fill="#9b3222"/>
<circle cx="324.12" cy="384.74" r="2" fill="#9b3222"/>
<circle cx="324.12" cy="381.89" r="2" fill="#5e140c"/>
<circle cx="324.12" cy="379.05" r="2" fill="#5e140c"/>
<circle cx="324.12" cy="376.2" r="2" fill="#5e140c"/>
<circle cx="324.12" cy="373.36" r="2" fill="#5e140c"/>
<circle cx="324.12" cy="370.51" r="2" fill="#5e140c"/>
<circle cx="324.12" cy="367.67" r="2" fill="#5e140c"/>
<circle cx="324.12" cy="364.82" r="2" fill="#5e140c"/>
<circle cx="324.12" cy="361.98" r="2" fill="#5e140c"/>
<circle cx="324.12" cy="359.13" r="2" fill="#5e140c"/>
<circle cx="324.12" cy="356.29" r="2" fill="#5e140c"/>
<circle cx="326.25" cy="407.5" r="2" fill="#e67a32"/>
<circle cx="326.25" cy="404.65" r="2" fill="#f0aa62"/>
<circle cx="326.25" cy="401.81" r="2" fill="#ebbd52"/>
<circle cx="326.25" cy="398.96" r="2" fill="#ebbd52"/>
<circle cx="326.25" cy="396.12" r="2" fill="#ebbd52"/>
<circle cx="326.25" cy="393.27" r="2" fill="#9b3222"/>
<circle cx="326.25" cy="390.43" r="2" fill="#9b3222"/>
<circle cx="326.25" cy="387.58" r="2" fill="#9b3222"/>
<circle cx="326.25" cy="384.74" r="2" fill="#9b3222"/>
<circle cx="326.25" cy="381.89" r="2" fill="#5e140c"/>
<circle cx="326.25" cy="376.2" r="2" fill="#5e140c"/>
<circle cx="326.25" cy="373.36" r="2" fill="#5e140c"/>
<circle cx="326.25" cy="370.51" r="2" fill="#5e140c"/>
<circle cx="326.25" cy="364.82" r="2" fill="#5e140c"/>
<circle cx="326.25" cy="361.98" r="2" fill="#5e140c"/>
<circle cx="328.38" cy="407.5" r="2" fill="#e67a32"/>
<circle cx="328.38" cy="404.65" r="2" fill="#f0aa62"/>
<circle cx="328.38" cy="401.81" r="2" fill="#ebbd52"/>
<circle cx="328.38" cy="398.96" r="2" fill="#ebbd52"/>
<circle cx="328.38" cy="396.12" r="2" fill="#ebbd52"/>
<circle cx="328.38" cy="393.27" r="2" fill="#9b3222"/>
<circle cx="328.38" cy="390.43" r="2" fill="#9b3222"/>
<circle cx="328.38" cy="387.58" r="2" fill="#9b3222"/>
<circle cx="328.38" cy="384.74" r="2" fill="#9b3222"/>
<circle cx="328.38" cy="381.89" r="2" fill="#5e140c"/>
<circle cx="328.38" cy="379.05" r="2" fill="#5e140c"/>
<circle cx="328.38" cy="376.2" r="2" fill="#5e140c"/>
<circle cx="328.38" cy="373.36" r="2" fill="#5e140c"/>
<circle cx="328.38" cy="370.51" r="2" fill="#5e140c"/>
<circle cx="330.5" cy="407.5" r="2" fill="#e67a32"/>
<circle cx="330.5" cy="404.65" r="2" fill="#f0aa62"/>
<circle cx="330.5" cy="401.81" r="2" fill="#ebbd52"/>
<circle cx="330.5" cy="398.96" r="2" fill="#ebbd52"/>
<circle cx="330.5" cy="396.12" r="2" fill="#ebbd52"/>
<circle cx="330.5" cy="393.27" r="2" fill="#9b3222"/>
<circle cx="330.5" cy="390.43" r="2" fill="#9b3222"/>
<circle cx="330.5" cy="387.58" r="2" fill="#9b3222"/>
<circle cx="330.5" cy="384.74" r="2" fill="#9b3222"/>
<circle cx="330.5" cy="381.89" r="2" fill="#5e140c"/>
<circle cx="330.5" cy="379.05" r="2" fill="#5e140c"/>
<circle cx="330.5" cy="376.2" r="2" fill="#5e140c"/>
<circle cx="331" cy="392.6" r="2" fill="#5e140c"/>
<circle cx="332.4" cy="398.4" r="2" fill="#5e140c"/>
<circle cx="334" cy="369" r="2" fill="#5e140c"/>
<circle cx="333.5" cy="376" r="2" fill="#5e140c"/>
<circle cx="359.3" cy="372.8" r="2" fill="#5e140c"/>
<circle cx="356.4" cy="378.3" r="2" fill="#5e140c"/>
<circle cx="363.7" cy="378.3" r="2" fill="#5e140c"/>
<circle cx="354.2" cy="381.3" r="2" fill="#5e140c"/>
<circle cx="358.6" cy="381.3" r="2" fill="#5e140c"/>
<circle cx="347.6" cy="384.2" r="2" fill="#5e140c"/>
<circle cx="343.2" cy="387.1" r="2" fill="#5e140c"/>
<circle cx="349.8" cy="388.6" r="2" fill="#5e140c"/>
<circle cx="342.5" cy="393" r="2" fill="#5e140c"/>
<circle cx="361.5" cy="387.1" r="2" fill="#5e140c"/>
<circle cx="365.2" cy="388.6" r="2" fill="#5e140c"/>
<circle cx="366" cy="395" r="2" fill="#5e140c"/>
<circle cx="368" cy="393" r="2" fill="#5e140c"/>
<circle cx="370" cy="398" r="2" fill="#5e140c"/>
<circle cx="363" cy="398" r="2" fill="#5e140c"/>
<circle cx="360.18" cy="409.42" r="2" fill="#d3d3d3"/>
<circle cx="366.04" cy="411.42" r="2" fill="#d3d3d3"/>
<circle cx="364.16" cy="411.22" r="2" fill="#d3d3d3"/>
<circle cx="339.99" cy="406.66" r="2" fill="#d3d3d3"/>
<circle cx="371.07" cy="408.49" r="2" fill="#d3d3d3"/>
<circle cx="369.63" cy="403.13" r="2" fill="#d3d3d3"/>
<circle cx="354.95" cy="404.47" r="2" fill="#d3d3d3"/>
<circle cx="357.49" cy="407.74" r="2" fill="#d3d3d3"/>
<circle cx="339.45" cy="404.17" r="2" fill="#d3d3d3"/>
<circle cx="348.5" cy="411.16" r="2" fill="#d3d3d3"/>
<circle cx="365.03" cy="403.6" r="2" fill="#d3d3d3"/>
<circle cx="366.1" cy="403.39" r="2" fill="#d3d3d3"/>
<circle cx="359.99" cy="403.27" r="2" fill="#d3d3d3"/>
<circle cx="339.06" cy="410.71" r="2" fill="#d3d3d3"/>
<circle cx="350.66" cy="391.02" r="2" fill="#9b3222"/>
<circle cx="371.53" cy="400.21" r="2" fill="#9b3222"/>
<circle cx="352.81" cy="401.46" r="2" fill="#9b3222"/>
<circle cx="359.56" cy="397.49" r="2" fill="#9b3222"/>
<circle cx="350.53" cy="401.17" r="2" fill="#9b3222"/>
<circle cx="363.65" cy="401.53" r="2" fill="#9b3222"/>
<circle cx="369.13" cy="392.18" r="2" fill="#9b3222"/>
<circle cx="354.75" cy="390.32" r="2" fill="#9b3222"/>
<circle cx="348.93" cy="388.91" r="2" fill="#9b3222"/>
<circle cx="353.14" cy="396.44" r="2" fill="#9b3222"/>
<circle cx="345.09" cy="397.49" r="2" fill="#9b3222"/>
<circle cx="354.12" cy="392.34" r="2" fill="#9b3222"/>
<circle cx="367.1" cy="394.73" r="2" fill="#9b3222"/>
<circle cx="353.53" cy="394.74" r="2" fill="#9b3222"/>
<circle cx="364.03" cy="388.8" r="2" fill="#9b3222"/>
<circle cx="371.33" cy="388.32" r="2" fill="#9b3222"/>
<circle cx="364.49" cy="405.98" r="2" fill="#ebbd52"/>
<circle cx="339.61" cy="405.24" r="2" fill="#ebbd52"/>
<circle cx="351.45" cy="402.52" r="2" fill="#ebbd52"/>
<circle cx="339.31" cy="395.61" r="2" fill="#ebbd52"/>
<circle cx="345.15" cy="407.42" r="2" fill="#ebbd52"/>
<circle cx="345.68" cy="404.82" r="2" fill="#ebbd52"/>
<circle cx="370.61" cy="407.25" r="2" fill="#ebbd52"/>
<circle cx="350.71" cy="399.61" r="2" fill="#ebbd52"/>
<circle cx="356.84" cy="405.08" r="2" fill="#ebbd52"/>
<circle cx="342.67" cy="404.73" r="2" fill="#ebbd52"/>
<circle cx="366.11" cy="406.18" r="2" fill="#ebbd52"/>
<circle cx="340.25" cy="407.3" r="2" fill="#ebbd52"/>
<circle cx="342.1" cy="399.43" r="2" fill="#ebbd52"/>
<circle cx="359.77" cy="406.94" r="2" fill="#ebbd52"/>
<circle cx="350.56" cy="407.01" r="2" fill="#ebbd52"/>
<circle cx="357.53" cy="399.06" r="2" fill="#ebbd52"/>
<circle cx="349.77" cy="397.31" r="2" fill="#ebbd52"/>
<circle cx="341.66" cy="396.94" r="2" fill="#ebbd52"/>
<circle cx="362.43" cy="407.96" r="2" fill="#ebbd52"/>
<circle cx="344.49" cy="395.63" r="2" fill="#ebbd52"/>
<circle cx="372.55" cy="401.94" r="2" fill="#ebbd52"/>
<circle cx="352.8" cy="398.09" r="2" fill="#ebbd52"/>
<circle cx="359.19" cy="405.74" r="2" fill="#ebbd52"/>
<circle cx="354.49" cy="400.48" r="2" fill="#ebbd52"/>
<circle cx="340.89" cy="406.91" r="2" fill="#ebbd52"/>
<circle cx="340.11" cy="401.42" r="2" fill="#ebbd52"/>
<circle cx="367.51" cy="396.7" r="2" fill="#ebbd52"/>
<circle cx="363.88" cy="407.35" r="2" fill="#ebbd52"/>
<circle cx="360.43" cy="405.24" r="2" fill="#ebbd52"/>
<circle cx="342.63" cy="400.65" r="2" fill="#ebbd52"/>
<circle cx="344.07" cy="408.76" r="2" fill="#f0aa62"/>
<circle cx="349.02" cy="405.63" r="2" fill="#f0aa62"/>
<circle cx="372.98" cy="408.82" r="2" fill="#f0aa62"/>
<circle cx="372.18" cy="405.63" r="2" fill="#f0aa62"/>
<circle cx="355.6" cy="407.84" r="2" fill="#f0aa62"/>
<circle cx="355.29" cy="404.33" r="2" fill="#f0aa62"/>
<circle cx="352.73" cy="403.17" r="2" fill="#f0aa62"/>
<circle cx="351.82" cy="410.94" r="2" fill="#e67a32"/>
<circle cx="371.63" cy="409.13" r="2" fill="#e67a32"/>
<circle cx="355.98" cy="407.69" r="2" fill="#e67a32"/>
<line x1="253" y1="332" x2="253" y2="510" stroke="#bdbdbd" stroke-width="1"/>
<line x1="252.5" y1="510" x2="375.9" y2="510" stroke="#7a7a7a" stroke-width="1"/>
<line x1="250.4" y1="504.1" x2="253" y2="504.1" stroke="#bdbdbd" stroke-width="1"/>
<text x="248" y="504.1" font-size="7.8" text-anchor="end" fill="#1a1a1a" font-weight="normal" dominant-baseline="central">0</text>
<line x1="250.4" y1="447.2" x2="253" y2="447.2" stroke="#bdbdbd" stroke-width="1"/>
<text x="248" y="447.2" font-size="7.8" text-anchor="end" fill="#1a1a1a" font-weight="normal" dominant-baseline="central">20</text>
<line x1="250.4" y1="390.1" x2="253" y2="390.1" stroke="#bdbdbd" stroke-width="1"/>
<text x="248" y="390.1" font-size="7.8" text-anchor="end" fill="#1a1a1a" font-weight="normal" dominant-baseline="central">40</text>
<line x1="250.4" y1="333.2" x2="253" y2="333.2" stroke="#bdbdbd" stroke-width="1"/>
<text x="248" y="333.2" font-size="7.8" text-anchor="end" fill="#1a1a1a" font-weight="normal" dominant-baseline="central">60</text>
<line x1="258.5" y1="510" x2="258.5" y2="512.6" stroke="#7a7a7a" stroke-width="1"/>
<text x="258.5" y="519.2" font-size="7.8" text-anchor="middle" fill="#1a1a1a" font-weight="normal" dominant-baseline="central">0</text>
<line x1="286.2" y1="510" x2="286.2" y2="512.6" stroke="#7a7a7a" stroke-width="1"/>
<text x="286.2" y="519.2" font-size="7.8" text-anchor="middle" fill="#1a1a1a" font-weight="normal" dominant-baseline="central">1,000</text>
<line x1="314.4" y1="510" x2="314.4" y2="512.6" stroke="#7a7a7a" stroke-width="1"/>
<text x="314.4" y="519.2" font-size="7.8" text-anchor="middle" fill="#1a1a1a" font-weight="normal" dominant-baseline="central">2,000</text>
<line x1="342.6" y1="510" x2="342.6" y2="512.6" stroke="#7a7a7a" stroke-width="1"/>
<text x="342.6" y="519.2" font-size="7.8" text-anchor="middle" fill="#1a1a1a" font-weight="normal" dominant-baseline="central">3,000</text>
<line x1="370.3" y1="510" x2="370.3" y2="512.6" stroke="#7a7a7a" stroke-width="1"/>
<text x="370.3" y="519.2" font-size="7.8" text-anchor="middle" fill="#1a1a1a" font-weight="normal" dominant-baseline="central">4,000</text>
<text x="230.5" y="420.8" font-size="7.8" text-anchor="middle" fill="#1a1a1a" font-weight="normal" dominant-baseline="central" transform="rotate(-90 230.5 420.8)">Temperature (°C)</text>
<text x="314" y="530" font-size="7.8" text-anchor="middle" fill="#1a1a1a" font-weight="normal" dominant-baseline="central">Elevation (masl)</text>
<text x="226.4" y="324.2" font-size="10.5" text-anchor="start" fill="#1a1a1a" font-weight="bold" dominant-baseline="central">f</text>
<line x1="253" y1="382.5" x2="377.7" y2="382.5" stroke="#ee4a4a" stroke-width="1.2" stroke-dasharray="3.3 2.9"/>
<polygon points="284.1,502.3 284.1,493.8 285.6,500.3 289.2,445.1 293,483.6 297,474.1 300.3,492 303.6,480.3 305,483 306.2,502.3 312.3,487.4 316.4,493.8 321.5,495.1 322.6,492 322.6,502.3" fill="rgba(190,70,70,0.55)" stroke="none" stroke-width="0"/>
<polygon points="284.1,502.3 284.1,502.4 322.6,502.4 322.6,502.3" fill="rgba(80,130,200,0.45)" stroke="none" stroke-width="0"/>
<polyline points="284.1,493.8 285.6,500.3 289.2,445.1 293,483.6 297,474.1 300.3,492 303.6,480.3 305,483 306.2,502.3 312.3,487.4 316.4,493.8 321.5,495.1 322.6,492" fill="none" stroke="#b32f32" stroke-width="1" stroke-linejoin="round"/>
<polyline points="284.1,502.4 322.6,502.4" fill="none" stroke="#4a86c4" stroke-width="1" stroke-linejoin="round"/>
<line x1="282.3" y1="442.6" x2="282.3" y2="505.4" stroke="#a8a8a8" stroke-width="0.9"/>
<line x1="281.85" y1="505.4" x2="323.3" y2="505.4" stroke="#858585" stroke-width="0.9"/>
<line x1="280.1" y1="462.3" x2="282.3" y2="462.3" stroke="#a8a8a8" stroke-width="0.9"/>
<text x="278.1" y="462.3" font-size="7.2" text-anchor="end" fill="#1a1a1a" font-weight="normal" dominant-baseline="central">10</text>
<line x1="280.1" y1="482.3" x2="282.3" y2="482.3" stroke="#a8a8a8" stroke-width="0.9"/>
<text x="278.1" y="482.3" font-size="7.2" text-anchor="end" fill="#1a1a1a" font-weight="normal" dominant-baseline="central">5</text>
<line x1="280.1" y1="502.3" x2="282.3" y2="502.3" stroke="#a8a8a8" stroke-width="0.9"/>
<text x="278.1" y="502.3" font-size="7.2" text-anchor="end" fill="#1a1a1a" font-weight="normal" dominant-baseline="central">0</text>
<line x1="294" y1="505.4" x2="294" y2="507.6" stroke="#858585" stroke-width="0.9"/>
<line x1="306" y1="505.4" x2="306" y2="507.6" stroke="#858585" stroke-width="0.9"/>
<line x1="317" y1="505.4" x2="317" y2="507.6" stroke="#858585" stroke-width="0.9"/>
<text x="259.3" y="473.5" font-size="7.5" text-anchor="middle" fill="#1a1a1a" font-weight="normal" dominant-baseline="central" transform="rotate(-90 259.3 473.5)">Critical temp. (%)</text>
<polygon points="415.6,389 425,389 425,400 436.8,400.6 446,402 456,400 464.3,400 477.7,411 484,406 518.2,406 518.4,502.8 508,502.8 497.7,492.6 474.6,477.2 454,461.8 428.5,445 415.6,432.3" fill="#d3d3d3" stroke="none" stroke-width="0"/>
<rect x="401.5" y="395" width="7.7" height="43.7" rx="3.5" fill="#d3d3d3"/>
<circle cx="403.7" cy="398.2" r="1.8" fill="#777777"/>
<circle cx="403.7" cy="400.89" r="1.8" fill="#777777"/>
<circle cx="403.7" cy="403.58" r="1.8" fill="#777777"/>
<circle cx="403.7" cy="406.27" r="1.8" fill="#777777"/>
<circle cx="403.7" cy="408.97" r="1.8" fill="#777777"/>
<circle cx="403.7" cy="411.66" r="1.8" fill="#777777"/>
<circle cx="403.7" cy="414.35" r="1.8" fill="#777777"/>
<circle cx="403.7" cy="417.04" r="1.8" fill="#777777"/>
<circle cx="403.7" cy="419.73" r="1.8" fill="#777777"/>
<circle cx="403.7" cy="422.43" r="1.8" fill="#777777"/>
<circle cx="403.7" cy="425.12" r="1.8" fill="#777777"/>
<circle cx="403.7" cy="427.81" r="1.8" fill="#777777"/>
<circle cx="403.7" cy="430.5" r="1.8" fill="#777777"/>
<circle cx="406.55" cy="398.2" r="1.8" fill="#777777"/>
<circle cx="406.55" cy="400.89" r="1.8" fill="#777777"/>
<circle cx="406.55" cy="403.58" r="1.8" fill="#777777"/>
<circle cx="406.55" cy="406.27" r="1.8" fill="#777777"/>
<circle cx="406.55" cy="408.97" r="1.8" fill="#777777"/>
<circle cx="406.55" cy="411.66" r="1.8" fill="#777777"/>
<circle cx="406.55" cy="414.35" r="1.8" fill="#777777"/>
<circle cx="406.55" cy="417.04" r="1.8" fill="#777777"/>
<circle cx="406.55" cy="419.73" r="1.8" fill="#777777"/>
<circle cx="406.55" cy="422.43" r="1.8" fill="#777777"/>
<circle cx="406.55" cy="425.12" r="1.8" fill="#777777"/>
<circle cx="406.55" cy="427.81" r="1.8" fill="#777777"/>
<circle cx="406.55" cy="430.5" r="1.8" fill="#777777"/>
<circle cx="417.75" cy="391.4" r="1.8" fill="#777777"/>
<circle cx="417.75" cy="394.1" r="1.8" fill="#777777"/>
<circle cx="417.75" cy="396.8" r="1.8" fill="#777777"/>
<circle cx="417.75" cy="399.5" r="1.8" fill="#777777"/>
<circle cx="417.75" cy="402.2" r="1.8" fill="#777777"/>
<circle cx="417.75" cy="404.9" r="1.8" fill="#777777"/>
<circle cx="417.75" cy="407.6" r="1.8" fill="#777777"/>
<circle cx="417.75" cy="410.3" r="1.8" fill="#777777"/>
<circle cx="417.75" cy="413" r="1.8" fill="#777777"/>
<circle cx="417.75" cy="415.7" r="1.8" fill="#777777"/>
<circle cx="417.75" cy="418.4" r="1.8" fill="#777777"/>
<circle cx="417.75" cy="421.1" r="1.8" fill="#777777"/>
<circle cx="417.75" cy="423.8" r="1.8" fill="#777777"/>
<circle cx="417.75" cy="426.5" r="1.8" fill="#777777"/>
<circle cx="417.75" cy="429.2" r="1.8" fill="#777777"/>
<circle cx="426.95" cy="402.1" r="1.8" fill="#777777"/>
<circle cx="426.95" cy="404.78" r="1.8" fill="#777777"/>
<circle cx="426.95" cy="407.45" r="1.8" fill="#777777"/>
<circle cx="426.95" cy="410.13" r="1.8" fill="#777777"/>
<circle cx="426.95" cy="412.81" r="1.8" fill="#777777"/>
<circle cx="426.95" cy="415.48" r="1.8" fill="#777777"/>
<circle cx="426.95" cy="418.16" r="1.8" fill="#777777"/>
<circle cx="426.95" cy="420.84" r="1.8" fill="#777777"/>
<circle cx="426.95" cy="423.52" r="1.8" fill="#777777"/>
<circle cx="426.95" cy="426.19" r="1.8" fill="#777777"/>
<circle cx="426.95" cy="428.87" r="1.8" fill="#777777"/>
<circle cx="426.95" cy="431.55" r="1.8" fill="#777777"/>
<circle cx="426.95" cy="434.22" r="1.8" fill="#777777"/>
<circle cx="426.95" cy="436.9" r="1.8" fill="#777777"/>
<circle cx="435.7" cy="399.5" r="1.8" fill="#777777"/>
<circle cx="435.7" cy="402.17" r="1.8" fill="#777777"/>
<circle cx="435.7" cy="404.84" r="1.8" fill="#777777"/>
<circle cx="435.7" cy="407.51" r="1.8" fill="#777777"/>
<circle cx="435.7" cy="410.19" r="1.8" fill="#777777"/>
<circle cx="435.7" cy="412.86" r="1.8" fill="#777777"/>
<circle cx="435.7" cy="415.53" r="1.8" fill="#777777"/>
<circle cx="435.7" cy="418.2" r="1.8" fill="#777777"/>
<circle cx="435.7" cy="420.87" r="1.8" fill="#777777"/>
<circle cx="435.7" cy="423.54" r="1.8" fill="#777777"/>
<circle cx="435.7" cy="426.21" r="1.8" fill="#777777"/>
<circle cx="435.7" cy="428.89" r="1.8" fill="#777777"/>
<circle cx="435.7" cy="431.56" r="1.8" fill="#777777"/>
<circle cx="435.7" cy="434.23" r="1.8" fill="#777777"/>
<circle cx="435.7" cy="436.9" r="1.8" fill="#777777"/>
<circle cx="443.5" cy="403.3" r="1.8" fill="#777777"/>
<circle cx="443.5" cy="405.97" r="1.8" fill="#777777"/>
<circle cx="443.5" cy="408.63" r="1.8" fill="#777777"/>
<circle cx="443.5" cy="411.3" r="1.8" fill="#777777"/>
<circle cx="443.5" cy="413.97" r="1.8" fill="#777777"/>
<circle cx="443.5" cy="416.63" r="1.8" fill="#777777"/>
<circle cx="443.5" cy="419.3" r="1.8" fill="#777777"/>
<circle cx="443.5" cy="421.97" r="1.8" fill="#777777"/>
<circle cx="443.5" cy="424.63" r="1.8" fill="#777777"/>
<circle cx="443.5" cy="427.3" r="1.8" fill="#777777"/>
<circle cx="443.5" cy="429.97" r="1.8" fill="#777777"/>
<circle cx="443.5" cy="432.63" r="1.8" fill="#777777"/>
<circle cx="443.5" cy="435.3" r="1.8" fill="#777777"/>
<circle cx="443.5" cy="437.97" r="1.8" fill="#777777"/>
<circle cx="443.5" cy="440.63" r="1.8" fill="#777777"/>
<circle cx="443.5" cy="443.3" r="1.8" fill="#777777"/>
<circle cx="453.75" cy="412.3" r="1.8" fill="#777777"/>
<circle cx="453.75" cy="415.08" r="1.8" fill="#777777"/>
<circle cx="453.75" cy="417.87" r="1.8" fill="#777777"/>
<circle cx="453.75" cy="420.65" r="1.8" fill="#777777"/>
<circle cx="453.75" cy="423.44" r="1.8" fill="#777777"/>
<circle cx="453.75" cy="426.22" r="1.8" fill="#777777"/>
<circle cx="453.75" cy="429.01" r="1.8" fill="#777777"/>
<circle cx="453.75" cy="431.79" r="1.8" fill="#777777"/>
<circle cx="453.75" cy="434.58" r="1.8" fill="#777777"/>
<circle cx="453.75" cy="437.36" r="1.8" fill="#777777"/>
<circle cx="453.75" cy="440.15" r="1.8" fill="#777777"/>
<circle cx="453.75" cy="442.93" r="1.8" fill="#777777"/>
<circle cx="453.75" cy="445.72" r="1.8" fill="#777777"/>
<circle cx="453.75" cy="448.5" r="1.8" fill="#777777"/>
<circle cx="458.25" cy="412.3" r="1.8" fill="#777777"/>
<circle cx="458.25" cy="415.08" r="1.8" fill="#777777"/>
<circle cx="458.25" cy="417.87" r="1.8" fill="#777777"/>
<circle cx="458.25" cy="420.65" r="1.8" fill="#777777"/>
<circle cx="458.25" cy="423.44" r="1.8" fill="#777777"/>
<circle cx="458.25" cy="426.22" r="1.8" fill="#777777"/>
<circle cx="458.25" cy="429.01" r="1.8" fill="#777777"/>
<circle cx="458.25" cy="431.79" r="1.8" fill="#777777"/>
<circle cx="458.25" cy="434.58" r="1.8" fill="#777777"/>
<circle cx="458.25" cy="437.36" r="1.8" fill="#777777"/>
<circle cx="458.25" cy="440.15" r="1.8" fill="#777777"/>
<circle cx="458.25" cy="442.93" r="1.8" fill="#777777"/>
<circle cx="458.25" cy="445.72" r="1.8" fill="#777777"/>
<circle cx="458.25" cy="448.5" r="1.8" fill="#777777"/>
<circle cx="475.15" cy="421.3" r="1.8" fill="#777777"/>
<circle cx="475.15" cy="424.08" r="1.8" fill="#777777"/>
<circle cx="475.15" cy="426.85" r="1.8" fill="#777777"/>
<circle cx="475.15" cy="429.63" r="1.8" fill="#777777"/>
<circle cx="475.15" cy="432.41" r="1.8" fill="#777777"/>
<circle cx="475.15" cy="435.18" r="1.8" fill="#777777"/>
<circle cx="475.15" cy="437.96" r="1.8" fill="#777777"/>
<circle cx="475.15" cy="440.74" r="1.8" fill="#777777"/>
<circle cx="475.15" cy="443.52" r="1.8" fill="#777777"/>
<circle cx="475.15" cy="446.29" r="1.8" fill="#777777"/>
<circle cx="475.15" cy="449.07" r="1.8" fill="#777777"/>
<circle cx="475.15" cy="451.85" r="1.8" fill="#777777"/>
<circle cx="475.15" cy="454.62" r="1.8" fill="#777777"/>
<circle cx="475.15" cy="457.4" r="1.8" fill="#777777"/>
<circle cx="479" cy="421.3" r="1.8" fill="#777777"/>
<circle cx="479" cy="424.08" r="1.8" fill="#777777"/>
<circle cx="479" cy="426.85" r="1.8" fill="#777777"/>
<circle cx="479" cy="429.63" r="1.8" fill="#777777"/>
<circle cx="479" cy="432.41" r="1.8" fill="#777777"/>
<circle cx="479" cy="435.18" r="1.8" fill="#777777"/>
<circle cx="479" cy="437.96" r="1.8" fill="#777777"/>
<circle cx="479" cy="440.74" r="1.8" fill="#777777"/>
<circle cx="479" cy="443.52" r="1.8" fill="#777777"/>
<circle cx="479" cy="446.29" r="1.8" fill="#777777"/>
<circle cx="479" cy="449.07" r="1.8" fill="#777777"/>
<circle cx="479" cy="451.85" r="1.8" fill="#777777"/>
<circle cx="479" cy="454.62" r="1.8" fill="#777777"/>
<circle cx="479" cy="457.4" r="1.8" fill="#777777"/>
<circle cx="496.45" cy="430.3" r="1.8" fill="#777777"/>
<circle cx="496.45" cy="432.98" r="1.8" fill="#777777"/>
<circle cx="496.45" cy="435.67" r="1.8" fill="#777777"/>
<circle cx="496.45" cy="438.35" r="1.8" fill="#777777"/>
<circle cx="496.45" cy="441.04" r="1.8" fill="#777777"/>
<circle cx="496.45" cy="443.72" r="1.8" fill="#777777"/>
<circle cx="496.45" cy="446.41" r="1.8" fill="#777777"/>
<circle cx="496.45" cy="449.09" r="1.8" fill="#777777"/>
<circle cx="496.45" cy="451.78" r="1.8" fill="#777777"/>
<circle cx="496.45" cy="454.46" r="1.8" fill="#777777"/>
<circle cx="496.45" cy="457.15" r="1.8" fill="#777777"/>
<circle cx="496.45" cy="459.83" r="1.8" fill="#777777"/>
<circle cx="496.45" cy="462.52" r="1.8" fill="#777777"/>
<circle cx="496.45" cy="465.2" r="1.8" fill="#777777"/>
<circle cx="499.35" cy="430.3" r="1.8" fill="#777777"/>
<circle cx="499.35" cy="432.98" r="1.8" fill="#777777"/>
<circle cx="499.35" cy="435.67" r="1.8" fill="#777777"/>
<circle cx="499.35" cy="438.35" r="1.8" fill="#777777"/>
<circle cx="499.35" cy="441.04" r="1.8" fill="#777777"/>
<circle cx="499.35" cy="443.72" r="1.8" fill="#777777"/>
<circle cx="499.35" cy="446.41" r="1.8" fill="#777777"/>
<circle cx="499.35" cy="449.09" r="1.8" fill="#777777"/>
<circle cx="499.35" cy="451.78" r="1.8" fill="#777777"/>
<circle cx="499.35" cy="454.46" r="1.8" fill="#777777"/>
<circle cx="499.35" cy="457.15" r="1.8" fill="#777777"/>
<circle cx="499.35" cy="459.83" r="1.8" fill="#777777"/>
<circle cx="499.35" cy="462.52" r="1.8" fill="#777777"/>
<circle cx="499.35" cy="465.2" r="1.8" fill="#777777"/>
<circle cx="403.55" cy="395.55" r="1.95" fill="#175c7c"/>
<circle cx="403.55" cy="392.8" r="1.95" fill="#ebbd52"/>
<circle cx="403.55" cy="390.05" r="1.95" fill="#ebbd52"/>
<circle cx="403.55" cy="387.3" r="1.95" fill="#ebbd52"/>
<circle cx="403.55" cy="384.55" r="1.95" fill="#ebbd52"/>
<circle cx="403.55" cy="381.8" r="1.95" fill="#ebbd52"/>
<circle cx="403.55" cy="379.05" r="1.95" fill="#9b3222"/>
<circle cx="403.55" cy="376.3" r="1.95" fill="#9b3222"/>
<circle cx="403.55" cy="373.55" r="1.95" fill="#5e140c"/>
<circle cx="403.55" cy="370.8" r="1.95" fill="#5e140c"/>
<circle cx="403.55" cy="368.05" r="1.95" fill="#5e140c"/>
<circle cx="407.3" cy="372.5" r="1.95" fill="#5e140c"/>
<circle cx="407" cy="382" r="1.95" fill="#ebbd52"/>
<circle cx="408" cy="385" r="1.95" fill="#ebbd52"/>
<circle cx="409" cy="388" r="1.95" fill="#ebbd52"/>
<circle cx="407.5" cy="394" r="1.95" fill="#e67a32"/>
<circle cx="418.75" cy="387.05" r="1.95" fill="#e67a32"/>
<circle cx="418.75" cy="384.3" r="1.95" fill="#ebbd52"/>
<circle cx="418.75" cy="381.55" r="1.95" fill="#ebbd52"/>
<circle cx="418.75" cy="378.8" r="1.95" fill="#ebbd52"/>
<circle cx="418.75" cy="376.05" r="1.95" fill="#9b3222"/>
<circle cx="418.75" cy="373.3" r="1.95" fill="#9b3222"/>
<circle cx="418.75" cy="370.55" r="1.95" fill="#9b3222"/>
<circle cx="418.75" cy="367.8" r="1.95" fill="#5e140c"/>
<circle cx="418.75" cy="365.05" r="1.95" fill="#5e140c"/>
<circle cx="418.75" cy="362.3" r="1.95" fill="#5e140c"/>
<circle cx="418.75" cy="359.55" r="1.95" fill="#5e140c"/>
<circle cx="418.75" cy="356.8" r="1.95" fill="#5e140c"/>
<circle cx="418.75" cy="354.05" r="1.95" fill="#5e140c"/>
<circle cx="418.75" cy="351.3" r="1.95" fill="#5e140c"/>
<circle cx="418.75" cy="348.55" r="1.95" fill="#5e140c"/>
<circle cx="418.75" cy="345.8" r="1.95" fill="#5e140c"/>
<circle cx="420.9" cy="387.05" r="1.95" fill="#e67a32"/>
<circle cx="420.9" cy="384.3" r="1.95" fill="#ebbd52"/>
<circle cx="420.9" cy="381.55" r="1.95" fill="#ebbd52"/>
<circle cx="420.9" cy="378.8" r="1.95" fill="#ebbd52"/>
<circle cx="420.9" cy="376.05" r="1.95" fill="#9b3222"/>
<circle cx="420.9" cy="373.3" r="1.95" fill="#9b3222"/>
<circle cx="420.9" cy="370.55" r="1.95" fill="#9b3222"/>
<circle cx="420.9" cy="367.8" r="1.95" fill="#5e140c"/>
<circle cx="420.9" cy="365.05" r="1.95" fill="#5e140c"/>
<circle cx="420.9" cy="362.3" r="1.95" fill="#5e140c"/>
<circle cx="420.9" cy="359.55" r="1.95" fill="#5e140c"/>
<circle cx="420.9" cy="356.8" r="1.95" fill="#5e140c"/>
<circle cx="420.9" cy="354.05" r="1.95" fill="#5e140c"/>
<circle cx="420.9" cy="351.3" r="1.95" fill="#5e140c"/>
<circle cx="420.9" cy="348.55" r="1.95" fill="#5e140c"/>
<circle cx="420.9" cy="345.8" r="1.95" fill="#5e140c"/>
<circle cx="420.9" cy="343.05" r="1.95" fill="#5e140c"/>
<circle cx="420.9" cy="340.3" r="1.95" fill="#5e140c"/>
<circle cx="423.05" cy="387.05" r="1.95" fill="#e67a32"/>
<circle cx="423.05" cy="384.3" r="1.95" fill="#ebbd52"/>
<circle cx="423.05" cy="381.55" r="1.95" fill="#ebbd52"/>
<circle cx="423.05" cy="378.8" r="1.95" fill="#ebbd52"/>
<circle cx="423.05" cy="376.05" r="1.95" fill="#9b3222"/>
<circle cx="423.05" cy="373.3" r="1.95" fill="#9b3222"/>
<circle cx="423.05" cy="370.55" r="1.95" fill="#9b3222"/>
<circle cx="423.05" cy="367.8" r="1.95" fill="#5e140c"/>
<circle cx="423.05" cy="365.05" r="1.95" fill="#5e140c"/>
<circle cx="423.05" cy="362.3" r="1.95" fill="#5e140c"/>
<circle cx="423.05" cy="359.55" r="1.95" fill="#5e140c"/>
<circle cx="423.05" cy="356.8" r="1.95" fill="#5e140c"/>
<circle cx="423.05" cy="354.05" r="1.95" fill="#5e140c"/>
<circle cx="423.05" cy="351.3" r="1.95" fill="#5e140c"/>
<circle cx="423.05" cy="348.55" r="1.95" fill="#5e140c"/>
<circle cx="423.05" cy="345.8" r="1.95" fill="#5e140c"/>
<circle cx="423.05" cy="343.05" r="1.95" fill="#5e140c"/>
<circle cx="426.95" cy="398.55" r="1.95" fill="#e67a32"/>
<circle cx="426.95" cy="395.8" r="1.95" fill="#ebbd52"/>
<circle cx="426.95" cy="393.05" r="1.95" fill="#ebbd52"/>
<circle cx="426.95" cy="390.3" r="1.95" fill="#ebbd52"/>
<circle cx="426.95" cy="387.55" r="1.95" fill="#ebbd52"/>
<circle cx="426.95" cy="384.8" r="1.95" fill="#9b3222"/>
<circle cx="426.95" cy="382.05" r="1.95" fill="#9b3222"/>
<circle cx="426.95" cy="379.3" r="1.95" fill="#9b3222"/>
<circle cx="426.95" cy="376.55" r="1.95" fill="#5e140c"/>
<circle cx="426.95" cy="373.8" r="1.95" fill="#5e140c"/>
<circle cx="426.95" cy="371.05" r="1.95" fill="#5e140c"/>
<circle cx="426.95" cy="368.3" r="1.95" fill="#5e140c"/>
<circle cx="426.95" cy="365.55" r="1.95" fill="#5e140c"/>
<circle cx="426.95" cy="362.8" r="1.95" fill="#5e140c"/>
<circle cx="426.95" cy="360.05" r="1.95" fill="#5e140c"/>
<circle cx="426.95" cy="357.3" r="1.95" fill="#5e140c"/>
<circle cx="426.95" cy="354.55" r="1.95" fill="#5e140c"/>
<circle cx="429.58" cy="398.55" r="1.95" fill="#e67a32"/>
<circle cx="429.58" cy="395.8" r="1.95" fill="#ebbd52"/>
<circle cx="429.58" cy="393.05" r="1.95" fill="#ebbd52"/>
<circle cx="429.58" cy="390.3" r="1.95" fill="#ebbd52"/>
<circle cx="429.58" cy="387.55" r="1.95" fill="#ebbd52"/>
<circle cx="429.58" cy="384.8" r="1.95" fill="#9b3222"/>
<circle cx="429.58" cy="382.05" r="1.95" fill="#9b3222"/>
<circle cx="429.58" cy="379.3" r="1.95" fill="#9b3222"/>
<circle cx="429.58" cy="376.55" r="1.95" fill="#5e140c"/>
<circle cx="429.58" cy="373.8" r="1.95" fill="#5e140c"/>
<circle cx="429.58" cy="371.05" r="1.95" fill="#5e140c"/>
<circle cx="429.58" cy="368.3" r="1.95" fill="#5e140c"/>
<circle cx="429.58" cy="365.55" r="1.95" fill="#5e140c"/>
<circle cx="429.58" cy="362.8" r="1.95" fill="#5e140c"/>
<circle cx="429.58" cy="360.05" r="1.95" fill="#5e140c"/>
<circle cx="432.22" cy="398.55" r="1.95" fill="#e67a32"/>
<circle cx="432.22" cy="395.8" r="1.95" fill="#ebbd52"/>
<circle cx="432.22" cy="393.05" r="1.95" fill="#ebbd52"/>
<circle cx="432.22" cy="390.3" r="1.95" fill="#ebbd52"/>
<circle cx="432.22" cy="387.55" r="1.95" fill="#ebbd52"/>
<circle cx="432.22" cy="384.8" r="1.95" fill="#9b3222"/>
<circle cx="432.22" cy="382.05" r="1.95" fill="#9b3222"/>
<circle cx="432.22" cy="379.3" r="1.95" fill="#9b3222"/>
<circle cx="432.22" cy="376.55" r="1.95" fill="#5e140c"/>
<circle cx="432.22" cy="373.8" r="1.95" fill="#5e140c"/>
<circle cx="432.22" cy="371.05" r="1.95" fill="#5e140c"/>
<circle cx="432.22" cy="368.3" r="1.95" fill="#5e140c"/>
<circle cx="432.22" cy="365.55" r="1.95" fill="#5e140c"/>
<circle cx="432.22" cy="362.8" r="1.95" fill="#5e140c"/>
<circle cx="432.22" cy="360.05" r="1.95" fill="#5e140c"/>
<circle cx="432.22" cy="357.3" r="1.95" fill="#5e140c"/>
<circle cx="432.22" cy="354.55" r="1.95" fill="#5e140c"/>
<circle cx="434.85" cy="398.55" r="1.95" fill="#e67a32"/>
<circle cx="434.85" cy="395.8" r="1.95" fill="#ebbd52"/>
<circle cx="434.85" cy="393.05" r="1.95" fill="#ebbd52"/>
<circle cx="434.85" cy="390.3" r="1.95" fill="#ebbd52"/>
<circle cx="434.85" cy="387.55" r="1.95" fill="#ebbd52"/>
<circle cx="434.85" cy="384.8" r="1.95" fill="#9b3222"/>
<circle cx="434.85" cy="382.05" r="1.95" fill="#9b3222"/>
<circle cx="434.85" cy="379.3" r="1.95" fill="#9b3222"/>
<circle cx="434.85" cy="376.55" r="1.95" fill="#5e140c"/>
<circle cx="434.85" cy="373.8" r="1.95" fill="#5e140c"/>
<circle cx="434.85" cy="371.05" r="1.95" fill="#5e140c"/>
<circle cx="434.85" cy="368.3" r="1.95" fill="#5e140c"/>
<circle cx="434.85" cy="365.55" r="1.95" fill="#5e140c"/>
<circle cx="434.85" cy="362.8" r="1.95" fill="#5e140c"/>
<circle cx="434.85" cy="360.05" r="1.95" fill="#5e140c"/>
<circle cx="434.85" cy="357.3" r="1.95" fill="#5e140c"/>
<circle cx="438.75" cy="398.85" r="1.95" fill="#ebbd52"/>
<circle cx="438.75" cy="396.1" r="1.95" fill="#ebbd52"/>
<circle cx="438.75" cy="393.35" r="1.95" fill="#ebbd52"/>
<circle cx="438.75" cy="390.6" r="1.95" fill="#ebbd52"/>
<circle cx="438.75" cy="387.85" r="1.95" fill="#ebbd52"/>
<circle cx="438.75" cy="385.1" r="1.95" fill="#9b3222"/>
<circle cx="438.75" cy="382.35" r="1.95" fill="#9b3222"/>
<circle cx="438.75" cy="379.6" r="1.95" fill="#9b3222"/>
<circle cx="438.75" cy="376.85" r="1.95" fill="#5e140c"/>
<circle cx="438.75" cy="374.1" r="1.95" fill="#5e140c"/>
<circle cx="438.75" cy="371.35" r="1.95" fill="#5e140c"/>
<circle cx="438.75" cy="368.6" r="1.95" fill="#5e140c"/>
<circle cx="438.75" cy="365.85" r="1.95" fill="#5e140c"/>
<circle cx="438.75" cy="363.1" r="1.95" fill="#5e140c"/>
<circle cx="438.75" cy="360.35" r="1.95" fill="#5e140c"/>
<circle cx="438.75" cy="357.6" r="1.95" fill="#5e140c"/>
<circle cx="438.75" cy="354.85" r="1.95" fill="#5e140c"/>
<circle cx="438.75" cy="352.1" r="1.95" fill="#5e140c"/>
<circle cx="441.15" cy="398.85" r="1.95" fill="#ebbd52"/>
<circle cx="441.15" cy="396.1" r="1.95" fill="#ebbd52"/>
<circle cx="441.15" cy="393.35" r="1.95" fill="#ebbd52"/>
<circle cx="441.15" cy="390.6" r="1.95" fill="#ebbd52"/>
<circle cx="441.15" cy="387.85" r="1.95" fill="#ebbd52"/>
<circle cx="441.15" cy="385.1" r="1.95" fill="#9b3222"/>
<circle cx="441.15" cy="382.35" r="1.95" fill="#9b3222"/>
<circle cx="441.15" cy="379.6" r="1.95" fill="#9b3222"/>
<circle cx="441.15" cy="376.85" r="1.95" fill="#5e140c"/>
<circle cx="441.15" cy="374.1" r="1.95" fill="#5e140c"/>
<circle cx="441.15" cy="371.35" r="1.95" fill="#5e140c"/>
<circle cx="441.15" cy="368.6" r="1.95" fill="#5e140c"/>
<circle cx="441.15" cy="365.85" r="1.95" fill="#5e140c"/>
<circle cx="441.15" cy="363.1" r="1.95" fill="#5e140c"/>
<circle cx="441.15" cy="360.35" r="1.95" fill="#5e140c"/>
<circle cx="441.15" cy="357.6" r="1.95" fill="#5e140c"/>
<circle cx="441.15" cy="354.85" r="1.95" fill="#5e140c"/>
<circle cx="443.55" cy="398.85" r="1.95" fill="#ebbd52"/>
<circle cx="443.55" cy="396.1" r="1.95" fill="#ebbd52"/>
<circle cx="443.55" cy="393.35" r="1.95" fill="#ebbd52"/>
<circle cx="443.55" cy="390.6" r="1.95" fill="#ebbd52"/>
<circle cx="443.55" cy="387.85" r="1.95" fill="#ebbd52"/>
<circle cx="443.55" cy="385.1" r="1.95" fill="#9b3222"/>
<circle cx="443.55" cy="382.35" r="1.95" fill="#9b3222"/>
<circle cx="443.55" cy="379.6" r="1.95" fill="#9b3222"/>
<circle cx="443.55" cy="376.85" r="1.95" fill="#5e140c"/>
<circle cx="443.55" cy="374.1" r="1.95" fill="#5e140c"/>
<circle cx="443.55" cy="371.35" r="1.95" fill="#5e140c"/>
<circle cx="443.55" cy="368.6" r="1.95" fill="#5e140c"/>
<circle cx="443.55" cy="365.85" r="1.95" fill="#5e140c"/>
<circle cx="443.55" cy="363.1" r="1.95" fill="#5e140c"/>
<circle cx="443.55" cy="360.35" r="1.95" fill="#5e140c"/>
<circle cx="446.9" cy="374.5" r="1.95" fill="#5e140c"/>
<circle cx="449.1" cy="375.7" r="1.95" fill="#5e140c"/>
<circle cx="447.89" cy="377.09" r="1.95" fill="#5e140c"/>
<circle cx="448.87" cy="379.67" r="1.95" fill="#5e140c"/>
<circle cx="451.07" cy="380.87" r="1.95" fill="#5e140c"/>
<circle cx="449.86" cy="382.26" r="1.95" fill="#5e140c"/>
<circle cx="450.84" cy="384.84" r="1.95" fill="#5e140c"/>
<circle cx="453.04" cy="386.04" r="1.95" fill="#5e140c"/>
<circle cx="451.83" cy="387.43" r="1.95" fill="#5e140c"/>
<circle cx="452.81" cy="390.01" r="1.95" fill="#5e140c"/>
<circle cx="455.01" cy="391.21" r="1.95" fill="#5e140c"/>
<circle cx="453.8" cy="392.6" r="1.95" fill="#5e140c"/>
<circle cx="449.45" cy="412.05" r="1.95" fill="#e67a32"/>
<circle cx="449.45" cy="409.3" r="1.95" fill="#e67a32"/>
<circle cx="449.45" cy="406.55" r="1.95" fill="#ebbd52"/>
<circle cx="449.45" cy="403.8" r="1.95" fill="#ebbd52"/>
<circle cx="449.45" cy="401.05" r="1.95" fill="#ebbd52"/>
<circle cx="449.45" cy="398.3" r="1.95" fill="#9b3222"/>
<circle cx="449.45" cy="395.55" r="1.95" fill="#9b3222"/>
<circle cx="449.45" cy="392.8" r="1.95" fill="#9b3222"/>
<circle cx="451.5" cy="412.05" r="1.95" fill="#e67a32"/>
<circle cx="451.5" cy="409.3" r="1.95" fill="#e67a32"/>
<circle cx="451.5" cy="406.55" r="1.95" fill="#ebbd52"/>
<circle cx="451.5" cy="403.8" r="1.95" fill="#ebbd52"/>
<circle cx="451.5" cy="401.05" r="1.95" fill="#ebbd52"/>
<circle cx="451.5" cy="398.3" r="1.95" fill="#9b3222"/>
<circle cx="451.5" cy="395.55" r="1.95" fill="#9b3222"/>
<circle cx="451.5" cy="392.8" r="1.95" fill="#9b3222"/>
<circle cx="453.55" cy="412.05" r="1.95" fill="#e67a32"/>
<circle cx="453.55" cy="409.3" r="1.95" fill="#e67a32"/>
<circle cx="453.55" cy="406.55" r="1.95" fill="#ebbd52"/>
<circle cx="453.55" cy="403.8" r="1.95" fill="#ebbd52"/>
<circle cx="453.55" cy="401.05" r="1.95" fill="#ebbd52"/>
<circle cx="453.55" cy="398.3" r="1.95" fill="#9b3222"/>
<circle cx="453.55" cy="395.55" r="1.95" fill="#9b3222"/>
<circle cx="453.55" cy="392.8" r="1.95" fill="#9b3222"/>
<circle cx="456" cy="412.5" r="1.95" fill="#175c7c"/>
<circle cx="467" cy="346.8" r="1.95" fill="#5e140c"/>
<circle cx="466.45" cy="410.45" r="1.95" fill="#e67a32"/>
<circle cx="466.45" cy="407.7" r="1.95" fill="#f0aa62"/>
<circle cx="466.45" cy="404.95" r="1.95" fill="#ebbd52"/>
<circle cx="466.45" cy="402.2" r="1.95" fill="#ebbd52"/>
<circle cx="466.45" cy="399.45" r="1.95" fill="#ebbd52"/>
<circle cx="466.45" cy="396.7" r="1.95" fill="#9b3222"/>
<circle cx="466.45" cy="393.95" r="1.95" fill="#9b3222"/>
<circle cx="466.45" cy="391.2" r="1.95" fill="#9b3222"/>
<circle cx="466.45" cy="388.45" r="1.95" fill="#5e140c"/>
<circle cx="466.45" cy="382.95" r="1.95" fill="#5e140c"/>
<circle cx="466.45" cy="380.2" r="1.95" fill="#5e140c"/>
<circle cx="466.45" cy="377.45" r="1.95" fill="#5e140c"/>
<circle cx="466.45" cy="374.7" r="1.95" fill="#5e140c"/>
<circle cx="466.45" cy="371.95" r="1.95" fill="#5e140c"/>
<circle cx="466.45" cy="369.2" r="1.95" fill="#5e140c"/>
<circle cx="466.45" cy="366.45" r="1.95" fill="#5e140c"/>
<circle cx="466.45" cy="363.7" r="1.95" fill="#5e140c"/>
<circle cx="466.45" cy="360.95" r="1.95" fill="#5e140c"/>
<circle cx="466.45" cy="358.2" r="1.95" fill="#5e140c"/>
<circle cx="466.45" cy="355.45" r="1.95" fill="#5e140c"/>
<circle cx="468.6" cy="410.45" r="1.95" fill="#e67a32"/>
<circle cx="468.6" cy="407.7" r="1.95" fill="#f0aa62"/>
<circle cx="468.6" cy="404.95" r="1.95" fill="#ebbd52"/>
<circle cx="468.6" cy="402.2" r="1.95" fill="#ebbd52"/>
<circle cx="468.6" cy="399.45" r="1.95" fill="#ebbd52"/>
<circle cx="468.6" cy="396.7" r="1.95" fill="#9b3222"/>
<circle cx="468.6" cy="393.95" r="1.95" fill="#9b3222"/>
<circle cx="468.6" cy="391.2" r="1.95" fill="#9b3222"/>
<circle cx="468.6" cy="388.45" r="1.95" fill="#5e140c"/>
<circle cx="468.6" cy="385.7" r="1.95" fill="#5e140c"/>
<circle cx="468.6" cy="382.95" r="1.95" fill="#5e140c"/>
<circle cx="468.6" cy="380.2" r="1.95" fill="#5e140c"/>
<circle cx="468.6" cy="377.45" r="1.95" fill="#5e140c"/>
<circle cx="468.6" cy="374.7" r="1.95" fill="#5e140c"/>
<circle cx="468.6" cy="371.95" r="1.95" fill="#5e140c"/>
<circle cx="468.6" cy="369.2" r="1.95" fill="#5e140c"/>
<circle cx="468.6" cy="366.45" r="1.95" fill="#5e140c"/>
<circle cx="468.6" cy="363.7" r="1.95" fill="#5e140c"/>
<circle cx="468.6" cy="360.95" r="1.95" fill="#5e140c"/>
<circle cx="468.6" cy="358.2" r="1.95" fill="#5e140c"/>
<circle cx="468.6" cy="355.45" r="1.95" fill="#5e140c"/>
<circle cx="470.75" cy="410.45" r="1.95" fill="#e67a32"/>
<circle cx="470.75" cy="407.7" r="1.95" fill="#f0aa62"/>
<circle cx="470.75" cy="404.95" r="1.95" fill="#ebbd52"/>
<circle cx="470.75" cy="402.2" r="1.95" fill="#ebbd52"/>
<circle cx="470.75" cy="399.45" r="1.95" fill="#ebbd52"/>
<circle cx="470.75" cy="396.7" r="1.95" fill="#9b3222"/>
<circle cx="470.75" cy="393.95" r="1.95" fill="#9b3222"/>
<circle cx="470.75" cy="391.2" r="1.95" fill="#9b3222"/>
<circle cx="470.75" cy="388.45" r="1.95" fill="#5e140c"/>
<circle cx="470.75" cy="385.7" r="1.95" fill="#5e140c"/>
<circle cx="470.75" cy="382.95" r="1.95" fill="#5e140c"/>
<circle cx="470.75" cy="377.45" r="1.95" fill="#5e140c"/>
<circle cx="470.75" cy="374.7" r="1.95" fill="#5e140c"/>
<circle cx="470.75" cy="369.2" r="1.95" fill="#5e140c"/>
<circle cx="470.75" cy="366.45" r="1.95" fill="#5e140c"/>
<circle cx="470.75" cy="363.7" r="1.95" fill="#5e140c"/>
<circle cx="472.9" cy="410.45" r="1.95" fill="#e67a32"/>
<circle cx="472.9" cy="407.7" r="1.95" fill="#f0aa62"/>
<circle cx="472.9" cy="404.95" r="1.95" fill="#ebbd52"/>
<circle cx="472.9" cy="402.2" r="1.95" fill="#ebbd52"/>
<circle cx="472.9" cy="399.45" r="1.95" fill="#ebbd52"/>
<circle cx="472.9" cy="396.7" r="1.95" fill="#9b3222"/>
<circle cx="472.9" cy="393.95" r="1.95" fill="#9b3222"/>
<circle cx="472.9" cy="391.2" r="1.95" fill="#9b3222"/>
<circle cx="472.9" cy="388.45" r="1.95" fill="#5e140c"/>
<circle cx="472.9" cy="385.7" r="1.95" fill="#5e140c"/>
<circle cx="472.9" cy="382.95" r="1.95" fill="#5e140c"/>
<circle cx="472.9" cy="377.45" r="1.95" fill="#5e140c"/>
<circle cx="472.9" cy="371.95" r="1.95" fill="#5e140c"/>
<circle cx="475.05" cy="410.45" r="1.95" fill="#e67a32"/>
<circle cx="475.05" cy="407.7" r="1.95" fill="#f0aa62"/>
<circle cx="475.05" cy="404.95" r="1.95" fill="#ebbd52"/>
<circle cx="475.05" cy="402.2" r="1.95" fill="#ebbd52"/>
<circle cx="475.05" cy="399.45" r="1.95" fill="#ebbd52"/>
<circle cx="475.05" cy="396.7" r="1.95" fill="#9b3222"/>
<circle cx="475.05" cy="393.95" r="1.95" fill="#9b3222"/>
<circle cx="475.05" cy="391.2" r="1.95" fill="#9b3222"/>
<circle cx="475.05" cy="388.45" r="1.95" fill="#5e140c"/>
<circle cx="475.05" cy="385.7" r="1.95" fill="#5e140c"/>
<circle cx="475.05" cy="382.95" r="1.95" fill="#5e140c"/>
<circle cx="475.05" cy="380.2" r="1.95" fill="#5e140c"/>
<circle cx="475.05" cy="377.45" r="1.95" fill="#5e140c"/>
<circle cx="475.5" cy="392.6" r="1.95" fill="#5e140c"/>
<circle cx="476.9" cy="398.4" r="1.95" fill="#5e140c"/>
<circle cx="478.5" cy="369" r="1.95" fill="#5e140c"/>
<circle cx="478" cy="376" r="1.95" fill="#5e140c"/>
<circle cx="503.8" cy="372.92" r="1.95" fill="#5e140c"/>
<circle cx="500.9" cy="379.27" r="1.95" fill="#5e140c"/>
<circle cx="508.2" cy="379.27" r="1.95" fill="#5e140c"/>
<circle cx="498.7" cy="382.73" r="1.95" fill="#5e140c"/>
<circle cx="503.1" cy="382.73" r="1.95" fill="#5e140c"/>
<circle cx="492.1" cy="386.08" r="1.95" fill="#5e140c"/>
<circle cx="487.7" cy="389.42" r="1.95" fill="#5e140c"/>
<circle cx="494.3" cy="391.15" r="1.95" fill="#5e140c"/>
<circle cx="487" cy="396.23" r="1.95" fill="#5e140c"/>
<circle cx="506" cy="389.42" r="1.95" fill="#5e140c"/>
<circle cx="509.7" cy="391.15" r="1.95" fill="#5e140c"/>
<circle cx="510.5" cy="398.54" r="1.95" fill="#5e140c"/>
<circle cx="512.5" cy="396.23" r="1.95" fill="#5e140c"/>
<circle cx="514.5" cy="402" r="1.95" fill="#5e140c"/>
<circle cx="507.5" cy="402" r="1.95" fill="#5e140c"/>
<circle cx="494.51" cy="407.51" r="1.95" fill="#d3d3d3"/>
<circle cx="505.63" cy="406.72" r="1.95" fill="#d3d3d3"/>
<circle cx="501.72" cy="409.66" r="1.95" fill="#d3d3d3"/>
<circle cx="485.47" cy="411.07" r="1.95" fill="#d3d3d3"/>
<circle cx="484.77" cy="410.34" r="1.95" fill="#d3d3d3"/>
<circle cx="485.88" cy="406.91" r="1.95" fill="#d3d3d3"/>
<circle cx="497.93" cy="414.27" r="1.95" fill="#d3d3d3"/>
<circle cx="487.71" cy="408.23" r="1.95" fill="#d3d3d3"/>
<circle cx="504.83" cy="415.48" r="1.95" fill="#d3d3d3"/>
<circle cx="503.12" cy="409.97" r="1.95" fill="#d3d3d3"/>
<circle cx="516.69" cy="406.47" r="1.95" fill="#d3d3d3"/>
<circle cx="512.69" cy="408.9" r="1.95" fill="#d3d3d3"/>
<circle cx="488.4" cy="407.18" r="1.95" fill="#d3d3d3"/>
<circle cx="493.99" cy="414.16" r="1.95" fill="#d3d3d3"/>
<circle cx="494.38" cy="400.14" r="1.95" fill="#9b3222"/>
<circle cx="506.75" cy="397.21" r="1.95" fill="#9b3222"/>
<circle cx="504.29" cy="392.88" r="1.95" fill="#9b3222"/>
<circle cx="491.11" cy="394.88" r="1.95" fill="#9b3222"/>
<circle cx="507.87" cy="397.99" r="1.95" fill="#9b3222"/>
<circle cx="497.98" cy="400.2" r="1.95" fill="#9b3222"/>
<circle cx="501.74" cy="396.2" r="1.95" fill="#9b3222"/>
<circle cx="510.95" cy="401.79" r="1.95" fill="#9b3222"/>
<circle cx="496.09" cy="400.04" r="1.95" fill="#9b3222"/>
<circle cx="503.68" cy="404.25" r="1.95" fill="#9b3222"/>
<circle cx="509.2" cy="396.03" r="1.95" fill="#9b3222"/>
<circle cx="515.96" cy="393.65" r="1.95" fill="#9b3222"/>
<circle cx="500.79" cy="402.6" r="1.95" fill="#9b3222"/>
<circle cx="493.6" cy="398.85" r="1.95" fill="#9b3222"/>
<circle cx="490.56" cy="401.36" r="1.95" fill="#9b3222"/>
<circle cx="510.14" cy="400.02" r="1.95" fill="#9b3222"/>
<circle cx="513.27" cy="403.08" r="1.95" fill="#ebbd52"/>
<circle cx="507.14" cy="406.73" r="1.95" fill="#ebbd52"/>
<circle cx="503.22" cy="404.93" r="1.95" fill="#ebbd52"/>
<circle cx="512.06" cy="411.28" r="1.95" fill="#ebbd52"/>
<circle cx="499.62" cy="407.63" r="1.95" fill="#ebbd52"/>
<circle cx="485.56" cy="408.12" r="1.95" fill="#ebbd52"/>
<circle cx="505.5" cy="411.91" r="1.95" fill="#ebbd52"/>
<circle cx="511.45" cy="402.7" r="1.95" fill="#ebbd52"/>
<circle cx="496.62" cy="407.69" r="1.95" fill="#ebbd52"/>
<circle cx="484.27" cy="405" r="1.95" fill="#ebbd52"/>
<circle cx="489.21" cy="400.52" r="1.95" fill="#ebbd52"/>
<circle cx="485.5" cy="408.99" r="1.95" fill="#ebbd52"/>
<circle cx="487.9" cy="402.22" r="1.95" fill="#ebbd52"/>
<circle cx="496.79" cy="410.33" r="1.95" fill="#ebbd52"/>
<circle cx="486.24" cy="404.84" r="1.95" fill="#ebbd52"/>
<circle cx="502.18" cy="410.48" r="1.95" fill="#ebbd52"/>
<circle cx="511.36" cy="410.23" r="1.95" fill="#ebbd52"/>
<circle cx="492.97" cy="404.4" r="1.95" fill="#ebbd52"/>
<circle cx="495.7" cy="410.49" r="1.95" fill="#ebbd52"/>
<circle cx="516.06" cy="400.96" r="1.95" fill="#ebbd52"/>
<circle cx="489.49" cy="402.02" r="1.95" fill="#ebbd52"/>
<circle cx="491.43" cy="405.3" r="1.95" fill="#ebbd52"/>
<circle cx="503.53" cy="402.42" r="1.95" fill="#ebbd52"/>
<circle cx="483.64" cy="404.45" r="1.95" fill="#ebbd52"/>
<circle cx="496.05" cy="406.36" r="1.95" fill="#ebbd52"/>
<circle cx="515.91" cy="407.98" r="1.95" fill="#ebbd52"/>
<circle cx="501.03" cy="407.03" r="1.95" fill="#ebbd52"/>
<circle cx="506.49" cy="399.7" r="1.95" fill="#ebbd52"/>
<circle cx="514.08" cy="409.14" r="1.95" fill="#ebbd52"/>
<circle cx="513.23" cy="409.37" r="1.95" fill="#ebbd52"/>
<circle cx="496.84" cy="409.19" r="1.95" fill="#f0aa62"/>
<circle cx="487.02" cy="411.07" r="1.95" fill="#f0aa62"/>
<circle cx="485.62" cy="406.54" r="1.95" fill="#f0aa62"/>
<circle cx="490.6" cy="407.3" r="1.95" fill="#f0aa62"/>
<circle cx="495.06" cy="406.42" r="1.95" fill="#f0aa62"/>
<circle cx="483.51" cy="407.21" r="1.95" fill="#f0aa62"/>
<circle cx="486.95" cy="408.91" r="1.95" fill="#f0aa62"/>
<circle cx="484.37" cy="414.37" r="1.95" fill="#e67a32"/>
<circle cx="504.38" cy="410.74" r="1.95" fill="#e67a32"/>
<circle cx="492.08" cy="411.74" r="1.95" fill="#e67a32"/>
<line x1="397.8" y1="331" x2="397.8" y2="509.5" stroke="#bdbdbd" stroke-width="1"/>
<line x1="397.3" y1="509.5" x2="522" y2="509.5" stroke="#7a7a7a" stroke-width="1"/>
<line x1="395.2" y1="504.2" x2="397.8" y2="504.2" stroke="#bdbdbd" stroke-width="1"/>
<text x="392.8" y="504.2" font-size="7.8" text-anchor="end" fill="#1a1a1a" font-weight="normal" dominant-baseline="central">0</text>
<line x1="395.2" y1="449.2" x2="397.8" y2="449.2" stroke="#bdbdbd" stroke-width="1"/>
<text x="392.8" y="449.2" font-size="7.8" text-anchor="end" fill="#1a1a1a" font-weight="normal" dominant-baseline="central">20</text>
<line x1="395.2" y1="394.2" x2="397.8" y2="394.2" stroke="#bdbdbd" stroke-width="1"/>
<text x="392.8" y="394.2" font-size="7.8" text-anchor="end" fill="#1a1a1a" font-weight="normal" dominant-baseline="central">40</text>
<line x1="395.2" y1="339.2" x2="397.8" y2="339.2" stroke="#bdbdbd" stroke-width="1"/>
<text x="392.8" y="339.2" font-size="7.8" text-anchor="end" fill="#1a1a1a" font-weight="normal" dominant-baseline="central">60</text>
<line x1="403.3" y1="509.5" x2="403.3" y2="512.1" stroke="#7a7a7a" stroke-width="1"/>
<text x="403.3" y="518.7" font-size="7.8" text-anchor="middle" fill="#1a1a1a" font-weight="normal" dominant-baseline="central">0</text>
<line x1="430.5" y1="509.5" x2="430.5" y2="512.1" stroke="#7a7a7a" stroke-width="1"/>
<text x="430.5" y="518.7" font-size="7.8" text-anchor="middle" fill="#1a1a1a" font-weight="normal" dominant-baseline="central">1,000</text>
<line x1="458.7" y1="509.5" x2="458.7" y2="512.1" stroke="#7a7a7a" stroke-width="1"/>
<text x="458.7" y="518.7" font-size="7.8" text-anchor="middle" fill="#1a1a1a" font-weight="normal" dominant-baseline="central">2,000</text>
<line x1="486.2" y1="509.5" x2="486.2" y2="512.1" stroke="#7a7a7a" stroke-width="1"/>
<text x="486.2" y="518.7" font-size="7.8" text-anchor="middle" fill="#1a1a1a" font-weight="normal" dominant-baseline="central">3,000</text>
<line x1="513.6" y1="509.5" x2="513.6" y2="512.1" stroke="#7a7a7a" stroke-width="1"/>
<text x="513.6" y="518.7" font-size="7.8" text-anchor="middle" fill="#1a1a1a" font-weight="normal" dominant-baseline="central">4,000</text>
<text x="461.9" y="530" font-size="7.8" text-anchor="middle" fill="#1a1a1a" font-weight="normal" dominant-baseline="central">Elevation (masl)</text>
<text x="378.2" y="324.7" font-size="10.5" text-anchor="start" fill="#1a1a1a" font-weight="bold" dominant-baseline="central">g</text>
<line x1="397.8" y1="387.3" x2="522.4" y2="387.3" stroke="#ee4a4a" stroke-width="1.2" stroke-dasharray="3.3 2.9"/>
<polygon points="428.5,502.8 428.5,488.7 429.7,502.8 434.1,446.9 438.2,482.3 442,473.3 444.6,492.6 447.7,486.2 449.5,502.8 456.7,488.2 460.5,495.1 465.6,493.8 465.6,502.8" fill="rgba(190,70,70,0.55)" stroke="none" stroke-width="0"/>
<polygon points="428.5,502.8 428.5,487 430.5,502.8 434.1,490 437.4,488.7 440.5,502.8 447.5,502.8 448.5,473.3 450.3,502.8 465.6,502.8 465.6,502.8" fill="rgba(80,130,200,0.45)" stroke="none" stroke-width="0"/>
<polyline points="428.5,488.7 429.7,502.8 434.1,446.9 438.2,482.3 442,473.3 444.6,492.6 447.7,486.2 449.5,502.8 456.7,488.2 460.5,495.1 465.6,493.8" fill="none" stroke="#b32f32" stroke-width="1" stroke-linejoin="round"/>
<polyline points="428.5,487 430.5,502.8 434.1,490 437.4,488.7 440.5,502.8 447.5,502.8 448.5,473.3 450.3,502.8 465.6,502.8" fill="none" stroke="#4a86c4" stroke-width="1" stroke-linejoin="round"/>
<line x1="428" y1="443.8" x2="428" y2="505.9" stroke="#a8a8a8" stroke-width="0.9"/>
<line x1="427.55" y1="505.9" x2="467" y2="505.9" stroke="#858585" stroke-width="0.9"/>
<line x1="425.8" y1="450.3" x2="428" y2="450.3" stroke="#a8a8a8" stroke-width="0.9"/>
<text x="423.8" y="450.3" font-size="7.2" text-anchor="end" fill="#1a1a1a" font-weight="normal" dominant-baseline="central">15</text>
<line x1="425.8" y1="467.7" x2="428" y2="467.7" stroke="#a8a8a8" stroke-width="0.9"/>
<text x="423.8" y="467.7" font-size="7.2" text-anchor="end" fill="#1a1a1a" font-weight="normal" dominant-baseline="central">10</text>
<line x1="425.8" y1="485.6" x2="428" y2="485.6" stroke="#a8a8a8" stroke-width="0.9"/>
<text x="423.8" y="485.6" font-size="7.2" text-anchor="end" fill="#1a1a1a" font-weight="normal" dominant-baseline="central">5</text>
<line x1="425.8" y1="502.8" x2="428" y2="502.8" stroke="#a8a8a8" stroke-width="0.9"/>
<text x="423.8" y="502.8" font-size="7.2" text-anchor="end" fill="#1a1a1a" font-weight="normal" dominant-baseline="central">0</text>
<line x1="439" y1="505.9" x2="439" y2="508.1" stroke="#858585" stroke-width="0.9"/>
<line x1="450" y1="505.9" x2="450" y2="508.1" stroke="#858585" stroke-width="0.9"/>
<line x1="461" y1="505.9" x2="461" y2="508.1" stroke="#858585" stroke-width="0.9"/>
<text x="406" y="474.6" font-size="7.5" text-anchor="middle" fill="#1a1a1a" font-weight="normal" dominant-baseline="central" transform="rotate(-90 406 474.6)">Critical temp. (%)</text>
<polygon points="562,388 571,388 571,398 582.8,400.6 592,402 601,400 610,400 624,411 629.6,407 663.2,407 663.4,502.8 653,502.8 642.7,491.3 619.6,476 599,461.8 573.5,445 562,429.7" fill="#d3d3d3" stroke="none" stroke-width="0"/>
<rect x="546.5" y="395" width="9" height="42.4" rx="3.5" fill="#d3d3d3"/>
<circle cx="549.4" cy="396.8" r="1.8" fill="#777777"/>
<circle cx="549.4" cy="399.63" r="1.8" fill="#777777"/>
<circle cx="549.4" cy="402.45" r="1.8" fill="#777777"/>
<circle cx="549.4" cy="405.28" r="1.8" fill="#777777"/>
<circle cx="549.4" cy="408.11" r="1.8" fill="#777777"/>
<circle cx="549.4" cy="410.94" r="1.8" fill="#777777"/>
<circle cx="549.4" cy="413.76" r="1.8" fill="#777777"/>
<circle cx="549.4" cy="416.59" r="1.8" fill="#777777"/>
<circle cx="549.4" cy="419.42" r="1.8" fill="#777777"/>
<circle cx="549.4" cy="422.25" r="1.8" fill="#777777"/>
<circle cx="549.4" cy="425.07" r="1.8" fill="#777777"/>
<circle cx="549.4" cy="427.9" r="1.8" fill="#777777"/>
<circle cx="552.6" cy="396.8" r="1.8" fill="#777777"/>
<circle cx="552.6" cy="399.63" r="1.8" fill="#777777"/>
<circle cx="552.6" cy="402.45" r="1.8" fill="#777777"/>
<circle cx="552.6" cy="405.28" r="1.8" fill="#777777"/>
<circle cx="552.6" cy="408.11" r="1.8" fill="#777777"/>
<circle cx="552.6" cy="410.94" r="1.8" fill="#777777"/>
<circle cx="552.6" cy="413.76" r="1.8" fill="#777777"/>
<circle cx="552.6" cy="416.59" r="1.8" fill="#777777"/>
<circle cx="552.6" cy="419.42" r="1.8" fill="#777777"/>
<circle cx="552.6" cy="422.25" r="1.8" fill="#777777"/>
<circle cx="552.6" cy="425.07" r="1.8" fill="#777777"/>
<circle cx="552.6" cy="427.9" r="1.8" fill="#777777"/>
<circle cx="563.65" cy="391.8" r="1.8" fill="#777777"/>
<circle cx="563.65" cy="394.58" r="1.8" fill="#777777"/>
<circle cx="563.65" cy="397.35" r="1.8" fill="#777777"/>
<circle cx="563.65" cy="400.13" r="1.8" fill="#777777"/>
<circle cx="563.65" cy="402.91" r="1.8" fill="#777777"/>
<circle cx="563.65" cy="405.68" r="1.8" fill="#777777"/>
<circle cx="563.65" cy="408.46" r="1.8" fill="#777777"/>
<circle cx="563.65" cy="411.24" r="1.8" fill="#777777"/>
<circle cx="563.65" cy="414.02" r="1.8" fill="#777777"/>
<circle cx="563.65" cy="416.79" r="1.8" fill="#777777"/>
<circle cx="563.65" cy="419.57" r="1.8" fill="#777777"/>
<circle cx="563.65" cy="422.35" r="1.8" fill="#777777"/>
<circle cx="563.65" cy="425.12" r="1.8" fill="#777777"/>
<circle cx="563.65" cy="427.9" r="1.8" fill="#777777"/>
<circle cx="572.5" cy="402.1" r="1.8" fill="#777777"/>
<circle cx="572.5" cy="404.89" r="1.8" fill="#777777"/>
<circle cx="572.5" cy="407.68" r="1.8" fill="#777777"/>
<circle cx="572.5" cy="410.48" r="1.8" fill="#777777"/>
<circle cx="572.5" cy="413.27" r="1.8" fill="#777777"/>
<circle cx="572.5" cy="416.06" r="1.8" fill="#777777"/>
<circle cx="572.5" cy="418.85" r="1.8" fill="#777777"/>
<circle cx="572.5" cy="421.64" r="1.8" fill="#777777"/>
<circle cx="572.5" cy="424.43" r="1.8" fill="#777777"/>
<circle cx="572.5" cy="427.23" r="1.8" fill="#777777"/>
<circle cx="572.5" cy="430.02" r="1.8" fill="#777777"/>
<circle cx="572.5" cy="432.81" r="1.8" fill="#777777"/>
<circle cx="572.5" cy="435.6" r="1.8" fill="#777777"/>
<circle cx="581.6" cy="399.5" r="1.8" fill="#777777"/>
<circle cx="581.6" cy="402.28" r="1.8" fill="#777777"/>
<circle cx="581.6" cy="405.05" r="1.8" fill="#777777"/>
<circle cx="581.6" cy="407.83" r="1.8" fill="#777777"/>
<circle cx="581.6" cy="410.61" r="1.8" fill="#777777"/>
<circle cx="581.6" cy="413.38" r="1.8" fill="#777777"/>
<circle cx="581.6" cy="416.16" r="1.8" fill="#777777"/>
<circle cx="581.6" cy="418.94" r="1.8" fill="#777777"/>
<circle cx="581.6" cy="421.72" r="1.8" fill="#777777"/>
<circle cx="581.6" cy="424.49" r="1.8" fill="#777777"/>
<circle cx="581.6" cy="427.27" r="1.8" fill="#777777"/>
<circle cx="581.6" cy="430.05" r="1.8" fill="#777777"/>
<circle cx="581.6" cy="432.82" r="1.8" fill="#777777"/>
<circle cx="581.6" cy="435.6" r="1.8" fill="#777777"/>
<circle cx="589.3" cy="404.6" r="1.8" fill="#777777"/>
<circle cx="589.3" cy="407.27" r="1.8" fill="#777777"/>
<circle cx="589.3" cy="409.94" r="1.8" fill="#777777"/>
<circle cx="589.3" cy="412.61" r="1.8" fill="#777777"/>
<circle cx="589.3" cy="415.29" r="1.8" fill="#777777"/>
<circle cx="589.3" cy="417.96" r="1.8" fill="#777777"/>
<circle cx="589.3" cy="420.63" r="1.8" fill="#777777"/>
<circle cx="589.3" cy="423.3" r="1.8" fill="#777777"/>
<circle cx="589.3" cy="425.97" r="1.8" fill="#777777"/>
<circle cx="589.3" cy="428.64" r="1.8" fill="#777777"/>
<circle cx="589.3" cy="431.31" r="1.8" fill="#777777"/>
<circle cx="589.3" cy="433.99" r="1.8" fill="#777777"/>
<circle cx="589.3" cy="436.66" r="1.8" fill="#777777"/>
<circle cx="589.3" cy="439.33" r="1.8" fill="#777777"/>
<circle cx="589.3" cy="442" r="1.8" fill="#777777"/>
<circle cx="599.9" cy="412.3" r="1.8" fill="#777777"/>
<circle cx="599.9" cy="414.98" r="1.8" fill="#777777"/>
<circle cx="599.9" cy="417.67" r="1.8" fill="#777777"/>
<circle cx="599.9" cy="420.35" r="1.8" fill="#777777"/>
<circle cx="599.9" cy="423.04" r="1.8" fill="#777777"/>
<circle cx="599.9" cy="425.72" r="1.8" fill="#777777"/>
<circle cx="599.9" cy="428.41" r="1.8" fill="#777777"/>
<circle cx="599.9" cy="431.09" r="1.8" fill="#777777"/>
<circle cx="599.9" cy="433.78" r="1.8" fill="#777777"/>
<circle cx="599.9" cy="436.46" r="1.8" fill="#777777"/>
<circle cx="599.9" cy="439.15" r="1.8" fill="#777777"/>
<circle cx="599.9" cy="441.83" r="1.8" fill="#777777"/>
<circle cx="599.9" cy="444.52" r="1.8" fill="#777777"/>
<circle cx="599.9" cy="447.2" r="1.8" fill="#777777"/>
<circle cx="604.15" cy="412.3" r="1.8" fill="#777777"/>
<circle cx="604.15" cy="414.98" r="1.8" fill="#777777"/>
<circle cx="604.15" cy="417.67" r="1.8" fill="#777777"/>
<circle cx="604.15" cy="420.35" r="1.8" fill="#777777"/>
<circle cx="604.15" cy="423.04" r="1.8" fill="#777777"/>
<circle cx="604.15" cy="425.72" r="1.8" fill="#777777"/>
<circle cx="604.15" cy="428.41" r="1.8" fill="#777777"/>
<circle cx="604.15" cy="431.09" r="1.8" fill="#777777"/>
<circle cx="604.15" cy="433.78" r="1.8" fill="#777777"/>
<circle cx="604.15" cy="436.46" r="1.8" fill="#777777"/>
<circle cx="604.15" cy="439.15" r="1.8" fill="#777777"/>
<circle cx="604.15" cy="441.83" r="1.8" fill="#777777"/>
<circle cx="604.15" cy="444.52" r="1.8" fill="#777777"/>
<circle cx="604.15" cy="447.2" r="1.8" fill="#777777"/>
<circle cx="621.1" cy="416.2" r="1.8" fill="#777777"/>
<circle cx="621.1" cy="418.96" r="1.8" fill="#777777"/>
<circle cx="621.1" cy="421.73" r="1.8" fill="#777777"/>
<circle cx="621.1" cy="424.49" r="1.8" fill="#777777"/>
<circle cx="621.1" cy="427.26" r="1.8" fill="#777777"/>
<circle cx="621.1" cy="430.02" r="1.8" fill="#777777"/>
<circle cx="621.1" cy="432.79" r="1.8" fill="#777777"/>
<circle cx="621.1" cy="435.55" r="1.8" fill="#777777"/>
<circle cx="621.1" cy="438.31" r="1.8" fill="#777777"/>
<circle cx="621.1" cy="441.08" r="1.8" fill="#777777"/>
<circle cx="621.1" cy="443.84" r="1.8" fill="#777777"/>
<circle cx="621.1" cy="446.61" r="1.8" fill="#777777"/>
<circle cx="621.1" cy="449.37" r="1.8" fill="#777777"/>
<circle cx="621.1" cy="452.14" r="1.8" fill="#777777"/>
<circle cx="621.1" cy="454.9" r="1.8" fill="#777777"/>
<circle cx="625.25" cy="416.2" r="1.8" fill="#777777"/>
<circle cx="625.25" cy="418.96" r="1.8" fill="#777777"/>
<circle cx="625.25" cy="421.73" r="1.8" fill="#777777"/>
<circle cx="625.25" cy="424.49" r="1.8" fill="#777777"/>
<circle cx="625.25" cy="427.26" r="1.8" fill="#777777"/>
<circle cx="625.25" cy="430.02" r="1.8" fill="#777777"/>
<circle cx="625.25" cy="432.79" r="1.8" fill="#777777"/>
<circle cx="625.25" cy="435.55" r="1.8" fill="#777777"/>
<circle cx="625.25" cy="438.31" r="1.8" fill="#777777"/>
<circle cx="625.25" cy="441.08" r="1.8" fill="#777777"/>
<circle cx="625.25" cy="443.84" r="1.8" fill="#777777"/>
<circle cx="625.25" cy="446.61" r="1.8" fill="#777777"/>
<circle cx="625.25" cy="449.37" r="1.8" fill="#777777"/>
<circle cx="625.25" cy="452.14" r="1.8" fill="#777777"/>
<circle cx="625.25" cy="454.9" r="1.8" fill="#777777"/>
<circle cx="642.3" cy="427.8" r="1.8" fill="#777777"/>
<circle cx="642.3" cy="430.48" r="1.8" fill="#777777"/>
<circle cx="642.3" cy="433.15" r="1.8" fill="#777777"/>
<circle cx="642.3" cy="435.83" r="1.8" fill="#777777"/>
<circle cx="642.3" cy="438.51" r="1.8" fill="#777777"/>
<circle cx="642.3" cy="441.18" r="1.8" fill="#777777"/>
<circle cx="642.3" cy="443.86" r="1.8" fill="#777777"/>
<circle cx="642.3" cy="446.54" r="1.8" fill="#777777"/>
<circle cx="642.3" cy="449.22" r="1.8" fill="#777777"/>
<circle cx="642.3" cy="451.89" r="1.8" fill="#777777"/>
<circle cx="642.3" cy="454.57" r="1.8" fill="#777777"/>
<circle cx="642.3" cy="457.25" r="1.8" fill="#777777"/>
<circle cx="642.3" cy="459.92" r="1.8" fill="#777777"/>
<circle cx="642.3" cy="462.6" r="1.8" fill="#777777"/>
<circle cx="645.1" cy="427.8" r="1.8" fill="#777777"/>
<circle cx="645.1" cy="430.48" r="1.8" fill="#777777"/>
<circle cx="645.1" cy="433.15" r="1.8" fill="#777777"/>
<circle cx="645.1" cy="435.83" r="1.8" fill="#777777"/>
<circle cx="645.1" cy="438.51" r="1.8" fill="#777777"/>
<circle cx="645.1" cy="441.18" r="1.8" fill="#777777"/>
<circle cx="645.1" cy="443.86" r="1.8" fill="#777777"/>
<circle cx="645.1" cy="446.54" r="1.8" fill="#777777"/>
<circle cx="645.1" cy="449.22" r="1.8" fill="#777777"/>
<circle cx="645.1" cy="451.89" r="1.8" fill="#777777"/>
<circle cx="645.1" cy="454.57" r="1.8" fill="#777777"/>
<circle cx="645.1" cy="457.25" r="1.8" fill="#777777"/>
<circle cx="645.1" cy="459.92" r="1.8" fill="#777777"/>
<circle cx="645.1" cy="462.6" r="1.8" fill="#777777"/>
<circle cx="549.05" cy="396.05" r="1.95" fill="#3b98c2"/>
<circle cx="549.05" cy="393.33" r="1.95" fill="#ebbd52"/>
<circle cx="549.05" cy="390.61" r="1.95" fill="#ebbd52"/>
<circle cx="549.05" cy="387.89" r="1.95" fill="#ebbd52"/>
<circle cx="549.05" cy="385.17" r="1.95" fill="#ebbd52"/>
<circle cx="549.05" cy="382.45" r="1.95" fill="#9b3222"/>
<circle cx="549.05" cy="379.73" r="1.95" fill="#9b3222"/>
<circle cx="549.05" cy="377.01" r="1.95" fill="#9b3222"/>
<circle cx="549.05" cy="374.29" r="1.95" fill="#9b3222"/>
<circle cx="549.05" cy="371.57" r="1.95" fill="#5e140c"/>
<circle cx="549.05" cy="368.85" r="1.95" fill="#5e140c"/>
<circle cx="549.05" cy="366.13" r="1.95" fill="#5e140c"/>
<circle cx="552.8" cy="373.5" r="1.95" fill="#5e140c"/>
<circle cx="553.5" cy="383" r="1.95" fill="#ebbd52"/>
<circle cx="554.5" cy="386" r="1.95" fill="#ebbd52"/>
<circle cx="553.5" cy="395.5" r="1.95" fill="#3b98c2"/>
<circle cx="564.25" cy="388.55" r="1.95" fill="#e67a32"/>
<circle cx="564.25" cy="385.83" r="1.95" fill="#ebbd52"/>
<circle cx="564.25" cy="383.11" r="1.95" fill="#ebbd52"/>
<circle cx="564.25" cy="380.39" r="1.95" fill="#ebbd52"/>
<circle cx="564.25" cy="377.67" r="1.95" fill="#9b3222"/>
<circle cx="564.25" cy="374.95" r="1.95" fill="#9b3222"/>
<circle cx="564.25" cy="372.23" r="1.95" fill="#9b3222"/>
<circle cx="564.25" cy="369.51" r="1.95" fill="#9b3222"/>
<circle cx="564.25" cy="366.79" r="1.95" fill="#5e140c"/>
<circle cx="564.25" cy="364.07" r="1.95" fill="#5e140c"/>
<circle cx="564.25" cy="361.35" r="1.95" fill="#5e140c"/>
<circle cx="564.25" cy="358.63" r="1.95" fill="#5e140c"/>
<circle cx="564.25" cy="355.91" r="1.95" fill="#5e140c"/>
<circle cx="564.25" cy="353.19" r="1.95" fill="#5e140c"/>
<circle cx="564.25" cy="350.47" r="1.95" fill="#5e140c"/>
<circle cx="564.25" cy="347.75" r="1.95" fill="#5e140c"/>
<circle cx="564.25" cy="345.03" r="1.95" fill="#5e140c"/>
<circle cx="566.4" cy="388.55" r="1.95" fill="#e67a32"/>
<circle cx="566.4" cy="385.83" r="1.95" fill="#ebbd52"/>
<circle cx="566.4" cy="383.11" r="1.95" fill="#ebbd52"/>
<circle cx="566.4" cy="380.39" r="1.95" fill="#ebbd52"/>
<circle cx="566.4" cy="377.67" r="1.95" fill="#9b3222"/>
<circle cx="566.4" cy="374.95" r="1.95" fill="#9b3222"/>
<circle cx="566.4" cy="372.23" r="1.95" fill="#9b3222"/>
<circle cx="566.4" cy="369.51" r="1.95" fill="#9b3222"/>
<circle cx="566.4" cy="366.79" r="1.95" fill="#5e140c"/>
<circle cx="566.4" cy="364.07" r="1.95" fill="#5e140c"/>
<circle cx="566.4" cy="361.35" r="1.95" fill="#5e140c"/>
<circle cx="566.4" cy="358.63" r="1.95" fill="#5e140c"/>
<circle cx="566.4" cy="355.91" r="1.95" fill="#5e140c"/>
<circle cx="566.4" cy="353.19" r="1.95" fill="#5e140c"/>
<circle cx="566.4" cy="350.47" r="1.95" fill="#5e140c"/>
<circle cx="566.4" cy="347.75" r="1.95" fill="#5e140c"/>
<circle cx="566.4" cy="345.03" r="1.95" fill="#5e140c"/>
<circle cx="566.4" cy="342.31" r="1.95" fill="#5e140c"/>
<circle cx="566.4" cy="339.59" r="1.95" fill="#5e140c"/>
<circle cx="568.55" cy="388.55" r="1.95" fill="#e67a32"/>
<circle cx="568.55" cy="385.83" r="1.95" fill="#ebbd52"/>
<circle cx="568.55" cy="383.11" r="1.95" fill="#ebbd52"/>
<circle cx="568.55" cy="380.39" r="1.95" fill="#ebbd52"/>
<circle cx="568.55" cy="377.67" r="1.95" fill="#9b3222"/>
<circle cx="568.55" cy="374.95" r="1.95" fill="#9b3222"/>
<circle cx="568.55" cy="372.23" r="1.95" fill="#9b3222"/>
<circle cx="568.55" cy="369.51" r="1.95" fill="#9b3222"/>
<circle cx="568.55" cy="366.79" r="1.95" fill="#5e140c"/>
<circle cx="568.55" cy="364.07" r="1.95" fill="#5e140c"/>
<circle cx="568.55" cy="361.35" r="1.95" fill="#5e140c"/>
<circle cx="568.55" cy="358.63" r="1.95" fill="#5e140c"/>
<circle cx="568.55" cy="355.91" r="1.95" fill="#5e140c"/>
<circle cx="568.55" cy="353.19" r="1.95" fill="#5e140c"/>
<circle cx="568.55" cy="350.47" r="1.95" fill="#5e140c"/>
<circle cx="568.55" cy="347.75" r="1.95" fill="#5e140c"/>
<circle cx="568.55" cy="345.03" r="1.95" fill="#5e140c"/>
<circle cx="568.55" cy="342.31" r="1.95" fill="#5e140c"/>
<circle cx="572.45" cy="399.55" r="1.95" fill="#f0aa62"/>
<circle cx="572.45" cy="396.83" r="1.95" fill="#ebbd52"/>
<circle cx="572.45" cy="394.11" r="1.95" fill="#ebbd52"/>
<circle cx="572.45" cy="391.39" r="1.95" fill="#ebbd52"/>
<circle cx="572.45" cy="388.67" r="1.95" fill="#9b3222"/>
<circle cx="572.45" cy="385.95" r="1.95" fill="#9b3222"/>
<circle cx="572.45" cy="383.23" r="1.95" fill="#9b3222"/>
<circle cx="572.45" cy="380.51" r="1.95" fill="#9b3222"/>
<circle cx="572.45" cy="377.79" r="1.95" fill="#5e140c"/>
<circle cx="572.45" cy="375.07" r="1.95" fill="#5e140c"/>
<circle cx="572.45" cy="372.35" r="1.95" fill="#5e140c"/>
<circle cx="572.45" cy="369.63" r="1.95" fill="#5e140c"/>
<circle cx="572.45" cy="366.91" r="1.95" fill="#5e140c"/>
<circle cx="572.45" cy="364.19" r="1.95" fill="#5e140c"/>
<circle cx="572.45" cy="361.47" r="1.95" fill="#5e140c"/>
<circle cx="572.45" cy="358.75" r="1.95" fill="#5e140c"/>
<circle cx="572.45" cy="356.03" r="1.95" fill="#5e140c"/>
<circle cx="575.08" cy="399.55" r="1.95" fill="#f0aa62"/>
<circle cx="575.08" cy="396.83" r="1.95" fill="#ebbd52"/>
<circle cx="575.08" cy="394.11" r="1.95" fill="#ebbd52"/>
<circle cx="575.08" cy="391.39" r="1.95" fill="#ebbd52"/>
<circle cx="575.08" cy="388.67" r="1.95" fill="#9b3222"/>
<circle cx="575.08" cy="385.95" r="1.95" fill="#9b3222"/>
<circle cx="575.08" cy="383.23" r="1.95" fill="#9b3222"/>
<circle cx="575.08" cy="380.51" r="1.95" fill="#9b3222"/>
<circle cx="575.08" cy="377.79" r="1.95" fill="#5e140c"/>
<circle cx="575.08" cy="375.07" r="1.95" fill="#5e140c"/>
<circle cx="575.08" cy="372.35" r="1.95" fill="#5e140c"/>
<circle cx="575.08" cy="369.63" r="1.95" fill="#5e140c"/>
<circle cx="575.08" cy="366.91" r="1.95" fill="#5e140c"/>
<circle cx="575.08" cy="364.19" r="1.95" fill="#5e140c"/>
<circle cx="575.08" cy="361.47" r="1.95" fill="#5e140c"/>
<circle cx="575.08" cy="358.75" r="1.95" fill="#5e140c"/>
<circle cx="577.72" cy="399.55" r="1.95" fill="#f0aa62"/>
<circle cx="577.72" cy="396.83" r="1.95" fill="#ebbd52"/>
<circle cx="577.72" cy="394.11" r="1.95" fill="#ebbd52"/>
<circle cx="577.72" cy="391.39" r="1.95" fill="#ebbd52"/>
<circle cx="577.72" cy="388.67" r="1.95" fill="#9b3222"/>
<circle cx="577.72" cy="385.95" r="1.95" fill="#9b3222"/>
<circle cx="577.72" cy="383.23" r="1.95" fill="#9b3222"/>
<circle cx="577.72" cy="380.51" r="1.95" fill="#9b3222"/>
<circle cx="577.72" cy="377.79" r="1.95" fill="#5e140c"/>
<circle cx="577.72" cy="375.07" r="1.95" fill="#5e140c"/>
<circle cx="577.72" cy="372.35" r="1.95" fill="#5e140c"/>
<circle cx="577.72" cy="369.63" r="1.95" fill="#5e140c"/>
<circle cx="577.72" cy="366.91" r="1.95" fill="#5e140c"/>
<circle cx="577.72" cy="364.19" r="1.95" fill="#5e140c"/>
<circle cx="577.72" cy="361.47" r="1.95" fill="#5e140c"/>
<circle cx="577.72" cy="358.75" r="1.95" fill="#5e140c"/>
<circle cx="577.72" cy="356.03" r="1.95" fill="#5e140c"/>
<circle cx="580.35" cy="399.55" r="1.95" fill="#f0aa62"/>
<circle cx="580.35" cy="396.83" r="1.95" fill="#ebbd52"/>
<circle cx="580.35" cy="394.11" r="1.95" fill="#ebbd52"/>
<circle cx="580.35" cy="391.39" r="1.95" fill="#ebbd52"/>
<circle cx="580.35" cy="388.67" r="1.95" fill="#9b3222"/>
<circle cx="580.35" cy="385.95" r="1.95" fill="#9b3222"/>
<circle cx="580.35" cy="383.23" r="1.95" fill="#9b3222"/>
<circle cx="580.35" cy="380.51" r="1.95" fill="#9b3222"/>
<circle cx="580.35" cy="377.79" r="1.95" fill="#5e140c"/>
<circle cx="580.35" cy="375.07" r="1.95" fill="#5e140c"/>
<circle cx="580.35" cy="372.35" r="1.95" fill="#5e140c"/>
<circle cx="580.35" cy="369.63" r="1.95" fill="#5e140c"/>
<circle cx="580.35" cy="366.91" r="1.95" fill="#5e140c"/>
<circle cx="580.35" cy="364.19" r="1.95" fill="#5e140c"/>
<circle cx="580.35" cy="361.47" r="1.95" fill="#5e140c"/>
<circle cx="580.35" cy="358.75" r="1.95" fill="#5e140c"/>
<circle cx="580.35" cy="356.03" r="1.95" fill="#5e140c"/>
<circle cx="584.25" cy="399.55" r="1.95" fill="#e67a32"/>
<circle cx="584.25" cy="396.83" r="1.95" fill="#ebbd52"/>
<circle cx="584.25" cy="394.11" r="1.95" fill="#ebbd52"/>
<circle cx="584.25" cy="391.39" r="1.95" fill="#ebbd52"/>
<circle cx="584.25" cy="388.67" r="1.95" fill="#9b3222"/>
<circle cx="584.25" cy="385.95" r="1.95" fill="#9b3222"/>
<circle cx="584.25" cy="383.23" r="1.95" fill="#9b3222"/>
<circle cx="584.25" cy="380.51" r="1.95" fill="#9b3222"/>
<circle cx="584.25" cy="377.79" r="1.95" fill="#5e140c"/>
<circle cx="584.25" cy="375.07" r="1.95" fill="#5e140c"/>
<circle cx="584.25" cy="372.35" r="1.95" fill="#5e140c"/>
<circle cx="584.25" cy="369.63" r="1.95" fill="#5e140c"/>
<circle cx="584.25" cy="366.91" r="1.95" fill="#5e140c"/>
<circle cx="584.25" cy="364.19" r="1.95" fill="#5e140c"/>
<circle cx="584.25" cy="361.47" r="1.95" fill="#5e140c"/>
<circle cx="584.25" cy="358.75" r="1.95" fill="#5e140c"/>
<circle cx="584.25" cy="356.03" r="1.95" fill="#5e140c"/>
<circle cx="584.25" cy="353.31" r="1.95" fill="#5e140c"/>
<circle cx="584.25" cy="350.59" r="1.95" fill="#5e140c"/>
<circle cx="586.65" cy="399.55" r="1.95" fill="#e67a32"/>
<circle cx="586.65" cy="396.83" r="1.95" fill="#ebbd52"/>
<circle cx="586.65" cy="394.11" r="1.95" fill="#ebbd52"/>
<circle cx="586.65" cy="391.39" r="1.95" fill="#ebbd52"/>
<circle cx="586.65" cy="388.67" r="1.95" fill="#9b3222"/>
<circle cx="586.65" cy="385.95" r="1.95" fill="#9b3222"/>
<circle cx="586.65" cy="383.23" r="1.95" fill="#9b3222"/>
<circle cx="586.65" cy="380.51" r="1.95" fill="#9b3222"/>
<circle cx="586.65" cy="377.79" r="1.95" fill="#5e140c"/>
<circle cx="586.65" cy="375.07" r="1.95" fill="#5e140c"/>
<circle cx="586.65" cy="372.35" r="1.95" fill="#5e140c"/>
<circle cx="586.65" cy="369.63" r="1.95" fill="#5e140c"/>
<circle cx="586.65" cy="366.91" r="1.95" fill="#5e140c"/>
<circle cx="586.65" cy="364.19" r="1.95" fill="#5e140c"/>
<circle cx="586.65" cy="361.47" r="1.95" fill="#5e140c"/>
<circle cx="586.65" cy="358.75" r="1.95" fill="#5e140c"/>
<circle cx="586.65" cy="356.03" r="1.95" fill="#5e140c"/>
<circle cx="586.65" cy="353.31" r="1.95" fill="#5e140c"/>
<circle cx="589.05" cy="399.55" r="1.95" fill="#e67a32"/>
<circle cx="589.05" cy="396.83" r="1.95" fill="#ebbd52"/>
<circle cx="589.05" cy="394.11" r="1.95" fill="#ebbd52"/>
<circle cx="589.05" cy="391.39" r="1.95" fill="#ebbd52"/>
<circle cx="589.05" cy="388.67" r="1.95" fill="#9b3222"/>
<circle cx="589.05" cy="385.95" r="1.95" fill="#9b3222"/>
<circle cx="589.05" cy="383.23" r="1.95" fill="#9b3222"/>
<circle cx="589.05" cy="380.51" r="1.95" fill="#9b3222"/>
<circle cx="589.05" cy="377.79" r="1.95" fill="#5e140c"/>
<circle cx="589.05" cy="375.07" r="1.95" fill="#5e140c"/>
<circle cx="589.05" cy="372.35" r="1.95" fill="#5e140c"/>
<circle cx="589.05" cy="369.63" r="1.95" fill="#5e140c"/>
<circle cx="589.05" cy="366.91" r="1.95" fill="#5e140c"/>
<circle cx="589.05" cy="364.19" r="1.95" fill="#5e140c"/>
<circle cx="589.05" cy="361.47" r="1.95" fill="#5e140c"/>
<circle cx="589.05" cy="358.75" r="1.95" fill="#5e140c"/>
<circle cx="592.4" cy="374.5" r="1.95" fill="#5e140c"/>
<circle cx="594.6" cy="375.7" r="1.95" fill="#5e140c"/>
<circle cx="593.39" cy="377.09" r="1.95" fill="#5e140c"/>
<circle cx="594.37" cy="379.67" r="1.95" fill="#5e140c"/>
<circle cx="596.57" cy="380.87" r="1.95" fill="#5e140c"/>
<circle cx="595.36" cy="382.26" r="1.95" fill="#5e140c"/>
<circle cx="596.34" cy="384.84" r="1.95" fill="#5e140c"/>
<circle cx="598.54" cy="386.04" r="1.95" fill="#5e140c"/>
<circle cx="597.33" cy="387.43" r="1.95" fill="#5e140c"/>
<circle cx="598.31" cy="390.01" r="1.95" fill="#5e140c"/>
<circle cx="600.51" cy="391.21" r="1.95" fill="#5e140c"/>
<circle cx="599.3" cy="392.6" r="1.95" fill="#5e140c"/>
<circle cx="594.95" cy="414.05" r="1.95" fill="#e67a32"/>
<circle cx="594.95" cy="411.33" r="1.95" fill="#ebbd52"/>
<circle cx="594.95" cy="408.61" r="1.95" fill="#ebbd52"/>
<circle cx="594.95" cy="405.89" r="1.95" fill="#ebbd52"/>
<circle cx="594.95" cy="403.17" r="1.95" fill="#ebbd52"/>
<circle cx="594.95" cy="400.45" r="1.95" fill="#9b3222"/>
<circle cx="594.95" cy="397.73" r="1.95" fill="#9b3222"/>
<circle cx="594.95" cy="395.01" r="1.95" fill="#9b3222"/>
<circle cx="597" cy="414.05" r="1.95" fill="#e67a32"/>
<circle cx="597" cy="411.33" r="1.95" fill="#ebbd52"/>
<circle cx="597" cy="408.61" r="1.95" fill="#ebbd52"/>
<circle cx="597" cy="405.89" r="1.95" fill="#ebbd52"/>
<circle cx="597" cy="403.17" r="1.95" fill="#ebbd52"/>
<circle cx="597" cy="400.45" r="1.95" fill="#9b3222"/>
<circle cx="597" cy="397.73" r="1.95" fill="#9b3222"/>
<circle cx="597" cy="395.01" r="1.95" fill="#9b3222"/>
<circle cx="599.05" cy="414.05" r="1.95" fill="#e67a32"/>
<circle cx="599.05" cy="411.33" r="1.95" fill="#ebbd52"/>
<circle cx="599.05" cy="408.61" r="1.95" fill="#ebbd52"/>
<circle cx="599.05" cy="405.89" r="1.95" fill="#ebbd52"/>
<circle cx="599.05" cy="403.17" r="1.95" fill="#ebbd52"/>
<circle cx="599.05" cy="400.45" r="1.95" fill="#9b3222"/>
<circle cx="599.05" cy="397.73" r="1.95" fill="#9b3222"/>
<circle cx="599.05" cy="395.01" r="1.95" fill="#9b3222"/>
<circle cx="601.5" cy="412.5" r="1.95" fill="#3b98c2"/>
<circle cx="612.5" cy="346.8" r="1.95" fill="#5e140c"/>
<circle cx="611.95" cy="411.05" r="1.95" fill="#e67a32"/>
<circle cx="611.95" cy="408.33" r="1.95" fill="#ebbd52"/>
<circle cx="611.95" cy="405.61" r="1.95" fill="#ebbd52"/>
<circle cx="611.95" cy="402.89" r="1.95" fill="#ebbd52"/>
<circle cx="611.95" cy="400.17" r="1.95" fill="#ebbd52"/>
<circle cx="611.95" cy="397.45" r="1.95" fill="#9b3222"/>
<circle cx="611.95" cy="394.73" r="1.95" fill="#9b3222"/>
<circle cx="611.95" cy="392.01" r="1.95" fill="#9b3222"/>
<circle cx="611.95" cy="389.29" r="1.95" fill="#5e140c"/>
<circle cx="611.95" cy="383.85" r="1.95" fill="#5e140c"/>
<circle cx="611.95" cy="378.41" r="1.95" fill="#5e140c"/>
<circle cx="611.95" cy="375.69" r="1.95" fill="#5e140c"/>
<circle cx="611.95" cy="372.97" r="1.95" fill="#5e140c"/>
<circle cx="611.95" cy="370.25" r="1.95" fill="#5e140c"/>
<circle cx="611.95" cy="364.81" r="1.95" fill="#5e140c"/>
<circle cx="611.95" cy="362.09" r="1.95" fill="#5e140c"/>
<circle cx="611.95" cy="359.37" r="1.95" fill="#5e140c"/>
<circle cx="611.95" cy="356.65" r="1.95" fill="#5e140c"/>
<circle cx="614.1" cy="411.05" r="1.95" fill="#e67a32"/>
<circle cx="614.1" cy="408.33" r="1.95" fill="#ebbd52"/>
<circle cx="614.1" cy="405.61" r="1.95" fill="#ebbd52"/>
<circle cx="614.1" cy="402.89" r="1.95" fill="#ebbd52"/>
<circle cx="614.1" cy="400.17" r="1.95" fill="#ebbd52"/>
<circle cx="614.1" cy="397.45" r="1.95" fill="#9b3222"/>
<circle cx="614.1" cy="394.73" r="1.95" fill="#9b3222"/>
<circle cx="614.1" cy="392.01" r="1.95" fill="#9b3222"/>
<circle cx="614.1" cy="389.29" r="1.95" fill="#5e140c"/>
<circle cx="614.1" cy="386.57" r="1.95" fill="#5e140c"/>
<circle cx="614.1" cy="383.85" r="1.95" fill="#5e140c"/>
<circle cx="614.1" cy="381.13" r="1.95" fill="#5e140c"/>
<circle cx="614.1" cy="378.41" r="1.95" fill="#5e140c"/>
<circle cx="614.1" cy="375.69" r="1.95" fill="#5e140c"/>
<circle cx="614.1" cy="372.97" r="1.95" fill="#5e140c"/>
<circle cx="614.1" cy="370.25" r="1.95" fill="#5e140c"/>
<circle cx="614.1" cy="367.53" r="1.95" fill="#5e140c"/>
<circle cx="614.1" cy="364.81" r="1.95" fill="#5e140c"/>
<circle cx="614.1" cy="362.09" r="1.95" fill="#5e140c"/>
<circle cx="614.1" cy="359.37" r="1.95" fill="#5e140c"/>
<circle cx="614.1" cy="356.65" r="1.95" fill="#5e140c"/>
<circle cx="616.25" cy="411.05" r="1.95" fill="#e67a32"/>
<circle cx="616.25" cy="408.33" r="1.95" fill="#ebbd52"/>
<circle cx="616.25" cy="405.61" r="1.95" fill="#ebbd52"/>
<circle cx="616.25" cy="402.89" r="1.95" fill="#ebbd52"/>
<circle cx="616.25" cy="400.17" r="1.95" fill="#ebbd52"/>
<circle cx="616.25" cy="397.45" r="1.95" fill="#9b3222"/>
<circle cx="616.25" cy="394.73" r="1.95" fill="#9b3222"/>
<circle cx="616.25" cy="392.01" r="1.95" fill="#9b3222"/>
<circle cx="616.25" cy="389.29" r="1.95" fill="#5e140c"/>
<circle cx="616.25" cy="386.57" r="1.95" fill="#5e140c"/>
<circle cx="616.25" cy="383.85" r="1.95" fill="#5e140c"/>
<circle cx="616.25" cy="378.41" r="1.95" fill="#5e140c"/>
<circle cx="616.25" cy="375.69" r="1.95" fill="#5e140c"/>
<circle cx="616.25" cy="370.25" r="1.95" fill="#5e140c"/>
<circle cx="616.25" cy="367.53" r="1.95" fill="#5e140c"/>
<circle cx="616.25" cy="362.09" r="1.95" fill="#5e140c"/>
<circle cx="618.4" cy="411.05" r="1.95" fill="#e67a32"/>
<circle cx="618.4" cy="408.33" r="1.95" fill="#ebbd52"/>
<circle cx="618.4" cy="405.61" r="1.95" fill="#ebbd52"/>
<circle cx="618.4" cy="402.89" r="1.95" fill="#ebbd52"/>
<circle cx="618.4" cy="400.17" r="1.95" fill="#ebbd52"/>
<circle cx="618.4" cy="397.45" r="1.95" fill="#9b3222"/>
<circle cx="618.4" cy="394.73" r="1.95" fill="#9b3222"/>
<circle cx="618.4" cy="392.01" r="1.95" fill="#9b3222"/>
<circle cx="618.4" cy="389.29" r="1.95" fill="#5e140c"/>
<circle cx="618.4" cy="386.57" r="1.95" fill="#5e140c"/>
<circle cx="618.4" cy="383.85" r="1.95" fill="#5e140c"/>
<circle cx="618.4" cy="381.13" r="1.95" fill="#5e140c"/>
<circle cx="618.4" cy="378.41" r="1.95" fill="#5e140c"/>
<circle cx="618.4" cy="370.25" r="1.95" fill="#5e140c"/>
<circle cx="620.55" cy="411.05" r="1.95" fill="#e67a32"/>
<circle cx="620.55" cy="408.33" r="1.95" fill="#ebbd52"/>
<circle cx="620.55" cy="405.61" r="1.95" fill="#ebbd52"/>
<circle cx="620.55" cy="402.89" r="1.95" fill="#ebbd52"/>
<circle cx="620.55" cy="400.17" r="1.95" fill="#ebbd52"/>
<circle cx="620.55" cy="397.45" r="1.95" fill="#9b3222"/>
<circle cx="620.55" cy="394.73" r="1.95" fill="#9b3222"/>
<circle cx="620.55" cy="392.01" r="1.95" fill="#9b3222"/>
<circle cx="620.55" cy="389.29" r="1.95" fill="#5e140c"/>
<circle cx="620.55" cy="386.57" r="1.95" fill="#5e140c"/>
<circle cx="620.55" cy="383.85" r="1.95" fill="#5e140c"/>
<circle cx="620.55" cy="381.13" r="1.95" fill="#5e140c"/>
<circle cx="620.55" cy="378.41" r="1.95" fill="#5e140c"/>
<circle cx="620.55" cy="375.69" r="1.95" fill="#5e140c"/>
<circle cx="621" cy="392.6" r="1.95" fill="#5e140c"/>
<circle cx="622.4" cy="398.4" r="1.95" fill="#5e140c"/>
<circle cx="624" cy="369" r="1.95" fill="#5e140c"/>
<circle cx="623.5" cy="376" r="1.95" fill="#5e140c"/>
<circle cx="649.3" cy="372.95" r="1.95" fill="#5e140c"/>
<circle cx="646.4" cy="379.51" r="1.95" fill="#5e140c"/>
<circle cx="653.7" cy="379.51" r="1.95" fill="#5e140c"/>
<circle cx="644.2" cy="383.09" r="1.95" fill="#5e140c"/>
<circle cx="648.6" cy="383.09" r="1.95" fill="#5e140c"/>
<circle cx="637.6" cy="386.55" r="1.95" fill="#5e140c"/>
<circle cx="633.2" cy="390" r="1.95" fill="#5e140c"/>
<circle cx="639.8" cy="391.79" r="1.95" fill="#5e140c"/>
<circle cx="632.5" cy="397.04" r="1.95" fill="#5e140c"/>
<circle cx="651.5" cy="390" r="1.95" fill="#5e140c"/>
<circle cx="655.2" cy="391.79" r="1.95" fill="#5e140c"/>
<circle cx="656" cy="399.42" r="1.95" fill="#5e140c"/>
<circle cx="658" cy="397.04" r="1.95" fill="#5e140c"/>
<circle cx="660" cy="403" r="1.95" fill="#5e140c"/>
<circle cx="653" cy="403" r="1.95" fill="#5e140c"/>
<circle cx="644.38" cy="412.6" r="1.95" fill="#d3d3d3"/>
<circle cx="660.42" cy="411.66" r="1.95" fill="#d3d3d3"/>
<circle cx="646.27" cy="412.87" r="1.95" fill="#d3d3d3"/>
<circle cx="635.28" cy="412.12" r="1.95" fill="#d3d3d3"/>
<circle cx="650.42" cy="414.93" r="1.95" fill="#d3d3d3"/>
<circle cx="632.2" cy="410.03" r="1.95" fill="#d3d3d3"/>
<circle cx="632.08" cy="415.1" r="1.95" fill="#d3d3d3"/>
<circle cx="652.58" cy="407.42" r="1.95" fill="#d3d3d3"/>
<circle cx="662.39" cy="416.65" r="1.95" fill="#d3d3d3"/>
<circle cx="651.23" cy="413.16" r="1.95" fill="#d3d3d3"/>
<circle cx="634.35" cy="407.15" r="1.95" fill="#d3d3d3"/>
<circle cx="646.96" cy="407.6" r="1.95" fill="#d3d3d3"/>
<circle cx="635.47" cy="409.42" r="1.95" fill="#d3d3d3"/>
<circle cx="630.02" cy="411.64" r="1.95" fill="#d3d3d3"/>
<circle cx="646.89" cy="404.79" r="1.95" fill="#9b3222"/>
<circle cx="649.02" cy="401.96" r="1.95" fill="#9b3222"/>
<circle cx="648.49" cy="402.27" r="1.95" fill="#9b3222"/>
<circle cx="647.35" cy="396.89" r="1.95" fill="#9b3222"/>
<circle cx="661.94" cy="406.94" r="1.95" fill="#9b3222"/>
<circle cx="657.69" cy="402.91" r="1.95" fill="#9b3222"/>
<circle cx="643.51" cy="396.22" r="1.95" fill="#9b3222"/>
<circle cx="642.8" cy="393.98" r="1.95" fill="#9b3222"/>
<circle cx="655.69" cy="398.61" r="1.95" fill="#9b3222"/>
<circle cx="657.86" cy="398.41" r="1.95" fill="#9b3222"/>
<circle cx="660.87" cy="404.86" r="1.95" fill="#9b3222"/>
<circle cx="635.01" cy="395.94" r="1.95" fill="#9b3222"/>
<circle cx="659.58" cy="399.58" r="1.95" fill="#9b3222"/>
<circle cx="661.47" cy="398.56" r="1.95" fill="#9b3222"/>
<circle cx="636.97" cy="401.81" r="1.95" fill="#9b3222"/>
<circle cx="656.02" cy="396.78" r="1.95" fill="#9b3222"/>
<circle cx="631.96" cy="404.32" r="1.95" fill="#ebbd52"/>
<circle cx="661.78" cy="409.85" r="1.95" fill="#ebbd52"/>
<circle cx="633.01" cy="403.2" r="1.95" fill="#ebbd52"/>
<circle cx="632.44" cy="400.78" r="1.95" fill="#ebbd52"/>
<circle cx="656.1" cy="402.31" r="1.95" fill="#ebbd52"/>
<circle cx="648.02" cy="405.82" r="1.95" fill="#ebbd52"/>
<circle cx="635.48" cy="409.51" r="1.95" fill="#ebbd52"/>
<circle cx="633.45" cy="408.37" r="1.95" fill="#ebbd52"/>
<circle cx="632.96" cy="405.47" r="1.95" fill="#ebbd52"/>
<circle cx="636.24" cy="403.51" r="1.95" fill="#ebbd52"/>
<circle cx="662.01" cy="410.44" r="1.95" fill="#ebbd52"/>
<circle cx="639.34" cy="411.5" r="1.95" fill="#ebbd52"/>
<circle cx="636.16" cy="405.13" r="1.95" fill="#ebbd52"/>
<circle cx="658.05" cy="408.34" r="1.95" fill="#ebbd52"/>
<circle cx="632.41" cy="412.86" r="1.95" fill="#ebbd52"/>
<circle cx="636.25" cy="403.36" r="1.95" fill="#ebbd52"/>
<circle cx="655.27" cy="404.28" r="1.95" fill="#ebbd52"/>
<circle cx="639.08" cy="400.95" r="1.95" fill="#ebbd52"/>
<circle cx="632.06" cy="407.58" r="1.95" fill="#ebbd52"/>
<circle cx="637.26" cy="407.82" r="1.95" fill="#ebbd52"/>
<circle cx="641.64" cy="405.89" r="1.95" fill="#ebbd52"/>
<circle cx="661.61" cy="406.29" r="1.95" fill="#ebbd52"/>
<circle cx="648.54" cy="411.26" r="1.95" fill="#ebbd52"/>
<circle cx="635.22" cy="402" r="1.95" fill="#ebbd52"/>
<circle cx="659.89" cy="410.63" r="1.95" fill="#ebbd52"/>
<circle cx="637.48" cy="402.47" r="1.95" fill="#ebbd52"/>
<circle cx="654.14" cy="412.23" r="1.95" fill="#ebbd52"/>
<circle cx="635.68" cy="412.35" r="1.95" fill="#ebbd52"/>
<circle cx="658.99" cy="407.85" r="1.95" fill="#ebbd52"/>
<circle cx="643.33" cy="401.35" r="1.95" fill="#ebbd52"/>
<circle cx="630.32" cy="414.7" r="1.95" fill="#f0aa62"/>
<circle cx="637.11" cy="412.64" r="1.95" fill="#f0aa62"/>
<circle cx="637.74" cy="413.59" r="1.95" fill="#f0aa62"/>
<circle cx="649.28" cy="409.35" r="1.95" fill="#f0aa62"/>
<circle cx="634.96" cy="412.76" r="1.95" fill="#f0aa62"/>
<circle cx="631.34" cy="408.83" r="1.95" fill="#f0aa62"/>
<circle cx="648.02" cy="413.82" r="1.95" fill="#f0aa62"/>
<circle cx="649.89" cy="412.4" r="1.95" fill="#e67a32"/>
<circle cx="660.19" cy="412.02" r="1.95" fill="#e67a32"/>
<circle cx="629.56" cy="412.35" r="1.95" fill="#e67a32"/>
<circle cx="572.7" cy="399.5" r="1.8" fill="#3b98c2"/>
<circle cx="581.8" cy="399" r="1.8" fill="#3b98c2"/>
<line x1="543.3" y1="331" x2="543.3" y2="509.2" stroke="#bdbdbd" stroke-width="1"/>
<line x1="542.8" y1="509.2" x2="663.2" y2="509.2" stroke="#7a7a7a" stroke-width="1"/>
<line x1="540.7" y1="504.1" x2="543.3" y2="504.1" stroke="#bdbdbd" stroke-width="1"/>
<text x="538.3" y="504.1" font-size="7.8" text-anchor="end" fill="#1a1a1a" font-weight="normal" dominant-baseline="central">0</text>
<line x1="540.7" y1="449.7" x2="543.3" y2="449.7" stroke="#bdbdbd" stroke-width="1"/>
<text x="538.3" y="449.7" font-size="7.8" text-anchor="end" fill="#1a1a1a" font-weight="normal" dominant-baseline="central">20</text>
<line x1="540.7" y1="395.3" x2="543.3" y2="395.3" stroke="#bdbdbd" stroke-width="1"/>
<text x="538.3" y="395.3" font-size="7.8" text-anchor="end" fill="#1a1a1a" font-weight="normal" dominant-baseline="central">40</text>
<line x1="540.7" y1="340.9" x2="543.3" y2="340.9" stroke="#bdbdbd" stroke-width="1"/>
<text x="538.3" y="340.9" font-size="7.8" text-anchor="end" fill="#1a1a1a" font-weight="normal" dominant-baseline="central">60</text>
<line x1="549.1" y1="509.2" x2="549.1" y2="511.8" stroke="#7a7a7a" stroke-width="1"/>
<text x="549.1" y="518.4" font-size="7.8" text-anchor="middle" fill="#1a1a1a" font-weight="normal" dominant-baseline="central">0</text>
<line x1="576.8" y1="509.2" x2="576.8" y2="511.8" stroke="#7a7a7a" stroke-width="1"/>
<text x="576.8" y="518.4" font-size="7.8" text-anchor="middle" fill="#1a1a1a" font-weight="normal" dominant-baseline="central">1,000</text>
<line x1="604.2" y1="509.2" x2="604.2" y2="511.8" stroke="#7a7a7a" stroke-width="1"/>
<text x="604.2" y="518.4" font-size="7.8" text-anchor="middle" fill="#1a1a1a" font-weight="normal" dominant-baseline="central">2,000</text>
<line x1="631.9" y1="509.2" x2="631.9" y2="511.8" stroke="#7a7a7a" stroke-width="1"/>
<text x="631.9" y="518.4" font-size="7.8" text-anchor="middle" fill="#1a1a1a" font-weight="normal" dominant-baseline="central">3,000</text>
<line x1="659.4" y1="509.2" x2="659.4" y2="511.8" stroke="#7a7a7a" stroke-width="1"/>
<text x="659.4" y="518.4" font-size="7.8" text-anchor="middle" fill="#1a1a1a" font-weight="normal" dominant-baseline="central">4,000</text>
<text x="606.5" y="530" font-size="7.8" text-anchor="middle" fill="#1a1a1a" font-weight="normal" dominant-baseline="central">Elevation (masl)</text>
<text x="523.2" y="324.2" font-size="10.5" text-anchor="start" fill="#1a1a1a" font-weight="bold" dominant-baseline="central">h</text>
<line x1="543.3" y1="388.8" x2="664.6" y2="388.8" stroke="#ee4a4a" stroke-width="1.2" stroke-dasharray="3.3 2.9"/>
<polygon points="575.5,502.3 575.5,488.7 577.3,501.5 581.7,444.4 585.8,477.2 588.8,469.5 592.7,490 596,486.2 597.8,502.8 604.2,486.2 608.1,492.6 614.5,493.8 614.5,502.3" fill="rgba(190,70,70,0.55)" stroke="none" stroke-width="0"/>
<polygon points="575.5,502.3 575.5,470.8 577.3,486.2 582.4,473.3 585,473.3 592.7,502.8 595.5,502.8 596.5,458 598.3,502.8 614.5,502.8 614.5,502.3" fill="rgba(80,130,200,0.45)" stroke="none" stroke-width="0"/>
<polyline points="575.5,488.7 577.3,501.5 581.7,444.4 585.8,477.2 588.8,469.5 592.7,490 596,486.2 597.8,502.8 604.2,486.2 608.1,492.6 614.5,493.8" fill="none" stroke="#b32f32" stroke-width="1" stroke-linejoin="round"/>
<polyline points="575.5,470.8 577.3,486.2 582.4,473.3 585,473.3 592.7,502.8 595.5,502.8 596.5,458 598.3,502.8 614.5,502.8" fill="none" stroke="#4a86c4" stroke-width="1" stroke-linejoin="round"/>
<line x1="574.7" y1="442.6" x2="574.7" y2="505.9" stroke="#a8a8a8" stroke-width="0.9"/>
<line x1="574.25" y1="505.9" x2="615" y2="505.9" stroke="#858585" stroke-width="0.9"/>
<line x1="572.5" y1="450.3" x2="574.7" y2="450.3" stroke="#a8a8a8" stroke-width="0.9"/>
<text x="570.5" y="450.3" font-size="7.2" text-anchor="end" fill="#1a1a1a" font-weight="normal" dominant-baseline="central">15</text>
<line x1="572.5" y1="466.9" x2="574.7" y2="466.9" stroke="#a8a8a8" stroke-width="0.9"/>
<text x="570.5" y="466.9" font-size="7.2" text-anchor="end" fill="#1a1a1a" font-weight="normal" dominant-baseline="central">10</text>
<line x1="572.5" y1="484.4" x2="574.7" y2="484.4" stroke="#a8a8a8" stroke-width="0.9"/>
<text x="570.5" y="484.4" font-size="7.2" text-anchor="end" fill="#1a1a1a" font-weight="normal" dominant-baseline="central">5</text>
<line x1="572.5" y1="502.3" x2="574.7" y2="502.3" stroke="#a8a8a8" stroke-width="0.9"/>
<text x="570.5" y="502.3" font-size="7.2" text-anchor="end" fill="#1a1a1a" font-weight="normal" dominant-baseline="central">0</text>
<line x1="586" y1="505.9" x2="586" y2="508.1" stroke="#858585" stroke-width="0.9"/>
<line x1="597" y1="505.9" x2="597" y2="508.1" stroke="#858585" stroke-width="0.9"/>
<line x1="608" y1="505.9" x2="608" y2="508.1" stroke="#858585" stroke-width="0.9"/>
<text x="552" y="474" font-size="7.5" text-anchor="middle" fill="#1a1a1a" font-weight="normal" dominant-baseline="central" transform="rotate(-90 552 474)">Critical temp. (%)</text>
<line x1="218.5" y1="13.7" x2="218.5" y2="546" stroke="#444" stroke-width="1" stroke-dasharray="2.9 2.3"/>
<text x="252.2" y="29.3" font-size="7.8" text-anchor="start" fill="#1a1a1a" font-weight="normal" dominant-baseline="central">Future</text>
<text x="325" y="28.5" font-size="7.8" text-anchor="start" fill="#1a1a1a" font-weight="normal" dominant-baseline="central">Projected temperature increase of MWMT until 2100</text>
<text x="612" y="20.8" font-size="7.8" text-anchor="middle" fill="#1a1a1a" font-weight="normal" dominant-baseline="central">Heat coma</text>
<text x="612" y="30.4" font-size="7.8" text-anchor="middle" fill="#1a1a1a" font-weight="normal" dominant-baseline="central">time (min)</text>
<text x="650.4" y="27" font-size="7.8" text-anchor="start" fill="#1a1a1a" font-weight="normal" dominant-baseline="central" transform="rotate(-90 650.4 27)">Air</text>
<text x="658.6" y="27" font-size="7.8" text-anchor="start" fill="#1a1a1a" font-weight="normal" dominant-baseline="central" transform="rotate(-90 658.6 27)">Surface</text>
<circle cx="647.4" cy="32.3" r="2.9" fill="#2266b0"/>
<circle cx="655.8" cy="32.3" r="2.9" fill="#5e140c"/>
<text x="663.4" y="32.3" font-size="7.8" text-anchor="start" fill="#1a1a1a" font-weight="normal" dominant-baseline="central">&lt;1</text>
<circle cx="647.4" cy="43.5" r="2.9" fill="#4a98d0"/>
<circle cx="655.8" cy="43.5" r="2.9" fill="#9b3222"/>
<text x="663.4" y="43.5" font-size="7.8" text-anchor="start" fill="#1a1a1a" font-weight="normal" dominant-baseline="central">&lt;10</text>
<circle cx="647.4" cy="54.4" r="2.9" fill="#d2e5f0"/>
<circle cx="655.8" cy="54.4" r="2.9" fill="#ebbd52"/>
<text x="663.4" y="54.4" font-size="7.8" text-anchor="start" fill="#1a1a1a" font-weight="normal" dominant-baseline="central">&lt;60</text>
<circle cx="647.4" cy="65.3" r="2.9" fill="#92c6e0"/>
<circle cx="655.8" cy="65.3" r="2.9" fill="#f3dc8c"/>
<text x="663.4" y="65.3" font-size="7.8" text-anchor="start" fill="#1a1a1a" font-weight="normal" dominant-baseline="central">&lt;120</text>
<circle cx="647.4" cy="76.2" r="2.9" fill="#3b98c2"/>
<circle cx="655.8" cy="76.2" r="2.9" fill="#f0aa62"/>
<text x="663.4" y="76.2" font-size="7.8" text-anchor="start" fill="#1a1a1a" font-weight="normal" dominant-baseline="central">&lt;240</text>
<circle cx="647.4" cy="87.2" r="2.9" fill="#175c7c"/>
<circle cx="655.8" cy="87.2" r="2.9" fill="#e67a32"/>
<text x="663.4" y="87.2" font-size="7.8" text-anchor="start" fill="#1a1a1a" font-weight="normal" dominant-baseline="central">&lt;480</text>
<circle cx="647.4" cy="97.6" r="2.9" fill="#777777"/>
<circle cx="655.8" cy="97.6" r="2.9" fill="#d3d3d3"/>
<text x="663.4" y="97.6" font-size="7.8" text-anchor="start" fill="#1a1a1a" font-weight="normal" dominant-baseline="central">&gt;480</text>
<defs><linearGradient id="ag" x1="264" y1="0" x2="682" y2="0" gradientUnits="userSpaceOnUse">
<stop offset="0" stop-color="#1f7a45"/><stop offset="0.3" stop-color="#8a8a28"/><stop offset="0.52" stop-color="#f39a22"/><stop offset="0.8" stop-color="#e0552a"/><stop offset="1" stop-color="#c4202e"/></linearGradient></defs>
<polygon points="264.9,307.4 636.8,298 630.2,285.8 682.1,307.2 630.2,328.7 636.8,316.4" fill="url(#ag)" stroke="none" stroke-width="0"/>
<text x="265.8" y="292" font-size="7.8" text-anchor="start" fill="#2e8a55" font-weight="normal" dominant-baseline="central">SSP1-2.6</text>
<text x="412" y="291.9" font-size="7.8" text-anchor="start" fill="#f0a040" font-weight="normal" dominant-baseline="central">SSP3-7.0</text>
<text x="559.5" y="291.9" font-size="7.8" text-anchor="start" fill="#cc3a4c" font-weight="normal" dominant-baseline="central">SSP5-8.5</text>
</svg></body></html>
